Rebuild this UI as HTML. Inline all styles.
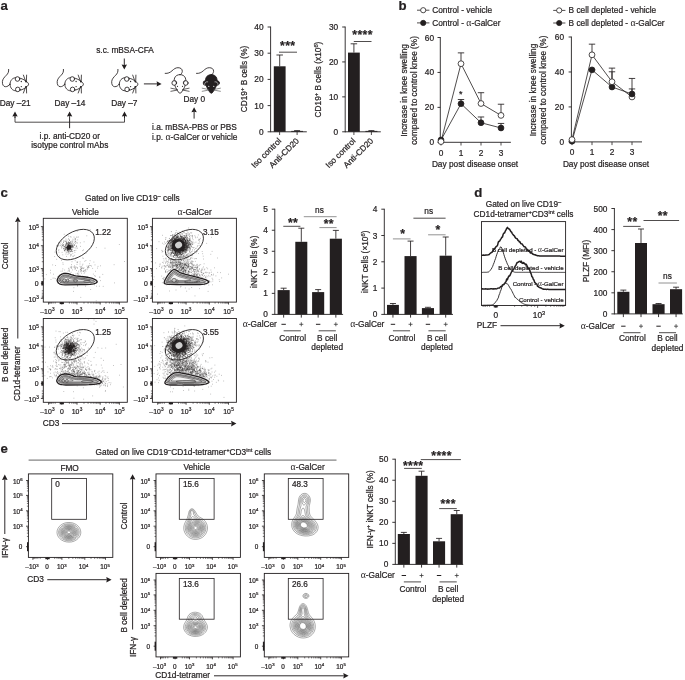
<!DOCTYPE html>
<html><head><meta charset="utf-8"><title>Figure</title>
<style>html,body{margin:0;padding:0;background:#fff}svg{display:block}
text{font-family:"Liberation Sans",sans-serif;fill:#231f20;stroke:#231f20;stroke-width:.22px}</style></head>
<body><svg width="685" height="680" viewBox="0 0 685 680">
<rect width="685" height="680" fill="#fff"/>
<text x="0.6" y="10.3" font-size="13.2" font-weight="bold" >a</text>
<text x="125" y="53" font-size="8.3" text-anchor="middle" >s.c. mBSA-CFA</text>
<path d="M124.3 58.5L124.3 65.1" stroke="#231f20" stroke-width="0.95" fill="none" />
<path d="M124.3 69.6L121.6 64.6L124.3 65.1L127 64.6Z" fill="#231f20"/>
<g transform="translate(0 0)" fill="none" stroke="#231f20" stroke-width="0.85" stroke-linecap="round" stroke-linejoin="round">
<path d="M8.65 69.4C8.9 72 8 73.6 6.4 75.2C4.4 77.2 2.6 79 2.4 81.6C2.2 84.6 3.4 86.6 5.4 86.7C7.4 86.8 8.8 85.6 9.9 84.2"/>
<path d="M10 84.2C10 80.4 12.6 77.7 16 77.7C19.5 77.7 22.5 78.8 25 80.4C26.8 81.6 28.6 83 28.6 84.2C28.6 85.4 26.8 86.9 25 88.1C22.5 89.7 19.5 90.8 16 90.8C12.6 90.8 10 88 10 84.2Z" fill="#fff"/>
<ellipse cx="17.5" cy="79" rx="2.3" ry="2.3" fill="#fff"/>
<ellipse cx="17.8" cy="89.4" rx="2.3" ry="2.3" fill="#fff"/>
<path d="M23.4 75.1L25.8 81.7M26.6 75.1L26.4 81.9M23.4 93L25.8 86.6M26.6 93L26.4 86.4" stroke-width="0.8"/>
<circle cx="21.3" cy="81.5" r="0.65" fill="#231f20" stroke="none"/><circle cx="21.3" cy="86.6" r="0.65" fill="#231f20" stroke="none"/>
<circle cx="26" cy="81.8" r="0.7" fill="#231f20" stroke="none"/><circle cx="26" cy="86.6" r="0.7" fill="#231f20" stroke="none"/>
</g>
<g transform="translate(54.8 0)" fill="none" stroke="#231f20" stroke-width="0.85" stroke-linecap="round" stroke-linejoin="round">
<path d="M8.65 69.4C8.9 72 8 73.6 6.4 75.2C4.4 77.2 2.6 79 2.4 81.6C2.2 84.6 3.4 86.6 5.4 86.7C7.4 86.8 8.8 85.6 9.9 84.2"/>
<path d="M10 84.2C10 80.4 12.6 77.7 16 77.7C19.5 77.7 22.5 78.8 25 80.4C26.8 81.6 28.6 83 28.6 84.2C28.6 85.4 26.8 86.9 25 88.1C22.5 89.7 19.5 90.8 16 90.8C12.6 90.8 10 88 10 84.2Z" fill="#fff"/>
<ellipse cx="17.5" cy="79" rx="2.3" ry="2.3" fill="#fff"/>
<ellipse cx="17.8" cy="89.4" rx="2.3" ry="2.3" fill="#fff"/>
<path d="M23.4 75.1L25.8 81.7M26.6 75.1L26.4 81.9M23.4 93L25.8 86.6M26.6 93L26.4 86.4" stroke-width="0.8"/>
<circle cx="21.3" cy="81.5" r="0.65" fill="#231f20" stroke="none"/><circle cx="21.3" cy="86.6" r="0.65" fill="#231f20" stroke="none"/>
<circle cx="26" cy="81.8" r="0.7" fill="#231f20" stroke="none"/><circle cx="26" cy="86.6" r="0.7" fill="#231f20" stroke="none"/>
</g>
<g transform="translate(109.3 0)" fill="none" stroke="#231f20" stroke-width="0.85" stroke-linecap="round" stroke-linejoin="round">
<path d="M8.65 69.4C8.9 72 8 73.6 6.4 75.2C4.4 77.2 2.6 79 2.4 81.6C2.2 84.6 3.4 86.6 5.4 86.7C7.4 86.8 8.8 85.6 9.9 84.2"/>
<path d="M10 84.2C10 80.4 12.6 77.7 16 77.7C19.5 77.7 22.5 78.8 25 80.4C26.8 81.6 28.6 83 28.6 84.2C28.6 85.4 26.8 86.9 25 88.1C22.5 89.7 19.5 90.8 16 90.8C12.6 90.8 10 88 10 84.2Z" fill="#fff"/>
<ellipse cx="17.5" cy="79" rx="2.3" ry="2.3" fill="#fff"/>
<ellipse cx="17.8" cy="89.4" rx="2.3" ry="2.3" fill="#fff"/>
<path d="M23.4 75.1L25.8 81.7M26.6 75.1L26.4 81.9M23.4 93L25.8 86.6M26.6 93L26.4 86.4" stroke-width="0.8"/>
<circle cx="21.3" cy="81.5" r="0.65" fill="#231f20" stroke="none"/><circle cx="21.3" cy="86.6" r="0.65" fill="#231f20" stroke="none"/>
<circle cx="26" cy="81.8" r="0.7" fill="#231f20" stroke="none"/><circle cx="26" cy="86.6" r="0.7" fill="#231f20" stroke="none"/>
</g>
<text x="-0.3" y="105.5" font-size="8.3" >Day –21</text>
<text x="70" y="105.5" font-size="8.3" text-anchor="middle" >Day –14</text>
<text x="124.3" y="105.5" font-size="8.3" text-anchor="middle" >Day –7</text>
<path d="M15 116L15 122.2L124.5 122.2L124.5 116" fill="none" stroke="#231f20" stroke-width="0.8"/>
<path d="M15 118L15 116.1" stroke="#231f20" stroke-width="0.95" fill="none" />
<path d="M15 111.6L17.7 116.6L15 116.1L12.3 116.6Z" fill="#231f20"/>
<path d="M124.5 118L124.5 116.1" stroke="#231f20" stroke-width="0.95" fill="none" />
<path d="M124.5 111.6L127.2 116.6L124.5 116.1L121.8 116.6Z" fill="#231f20"/>
<path d="M69.6 128.2L69.6 116.1" stroke="#231f20" stroke-width="0.95" fill="none" />
<path d="M69.6 111.6L72.3 116.6L69.6 116.1L66.9 116.6Z" fill="#231f20"/>
<text x="69.8" y="138.6" font-size="8.3" text-anchor="middle" >i.p. anti-CD20 or</text>
<text x="69.8" y="148.2" font-size="8.3" text-anchor="middle" >isotype control mAbs</text>
<path d="M143.9 83.9L157.1 83.9" stroke="#231f20" stroke-width="0.95" fill="none" />
<path d="M161.6 83.9L156.6 86.6L157.1 83.9L156.6 81.2Z" fill="#231f20"/>
<g transform="translate(0 0)" stroke="#231f20" stroke-width="0.85" stroke-linecap="round" stroke-linejoin="round" fill="none">
<path d="M165.2 73.4C168 73.6 170 72.6 172 70.8C174 69 175.6 67.7 178 67.7C180.6 67.7 182.4 69 182.3 71.4C182.2 72.8 181.2 73.8 180.6 74.8"/>
<path d="M180 74.6C177.6 74.6 175.4 75.8 174.6 78C173.8 80.4 174 83.4 175 86C176 88.6 177.4 90.6 178.4 92C179 92.9 179.5 93.3 180 93.3C180.5 93.3 181 92.9 181.6 92C182.6 90.6 184 88.6 185 86C186 83.4 186.2 80.4 185.4 78C184.6 75.8 182.4 74.6 180 74.6Z" fill="#fff"/>
<circle cx="174.2" cy="83" r="2.3" fill="#fff"/><circle cx="185.8" cy="83" r="2.3" fill="#fff"/>
<path d="M175.6 80.6C176.4 81.2 176.9 82.2 176.6 83.6M184.4 80.6C183.6 81.2 183.1 82.2 183.4 83.6" stroke-width="0.6"/>
<path d="M170.9 88.2L177.3 89.5M170.9 91.3L177.3 90.1M189.1 88.2L182.7 89.5M189.1 91.3L182.7 90.1" stroke-width="0.7"/>
<circle cx="177.5" cy="86.3" r="0.6" fill="#231f20" stroke="none"/><circle cx="182.5" cy="86.3" r="0.6" fill="#231f20" stroke="none"/>
</g>
<g transform="translate(31.3 0)" stroke="#231f20" stroke-width="0.85" stroke-linecap="round" stroke-linejoin="round" fill="none">
<path d="M165.2 73.4C168 73.6 170 72.6 172 70.8C174 69 175.6 67.7 178 67.7C180.6 67.7 182.4 69 182.3 71.4C182.2 72.8 181.2 73.8 180.6 74.8"/>
<path d="M180 74.6C177.6 74.6 175.4 75.8 174.6 78C173.8 80.4 174 83.4 175 86C176 88.6 177.4 90.6 178.4 92C179 92.9 179.5 93.3 180 93.3C180.5 93.3 181 92.9 181.6 92C182.6 90.6 184 88.6 185 86C186 83.4 186.2 80.4 185.4 78C184.6 75.8 182.4 74.6 180 74.6Z" fill="#231f20"/>
<circle cx="174.2" cy="83" r="2.3" fill="#231f20"/><circle cx="185.8" cy="83" r="2.3" fill="#231f20"/>
<path d="M173.3 84.4C173.4 82.6 174.6 81.4 176.4 81.8M186.7 84.4C186.6 82.6 185.4 81.4 183.6 81.8" stroke="#fff" stroke-width="0.55"/>
<path d="M170.9 88.2L177.3 89.5M170.9 91.3L177.3 90.1M189.1 88.2L182.7 89.5M189.1 91.3L182.7 90.1" stroke-width="0.6" stroke="#444"/>
<circle cx="177.5" cy="86.3" r="0.6" fill="#fff" stroke="none"/><circle cx="182.5" cy="86.3" r="0.6" fill="#fff" stroke="none"/>
</g>
<text x="194.3" y="102" font-size="8.3" text-anchor="middle" >Day 0</text>
<path d="M194.1 118.6L194.1 111.7" stroke="#231f20" stroke-width="0.95" fill="none" />
<path d="M194.1 107.2L196.8 112.2L194.1 111.7L191.4 112.2Z" fill="#231f20"/>
<text x="152" y="130" font-size="8.3" >i.a. mBSA-PBS or PBS</text>
<text x="152" y="139.9" font-size="8.3" >i.p. <tspan font-family="Liberation Serif,serif" font-size="9.79" stroke-width="0">α</tspan>-GalCer or vehicle</text>
<path d="M270.6 26.55L270.6 132.25" stroke="#231f20" stroke-width="0.9" fill="none" />
<path d="M267.6 27L270.6 27" stroke="#231f20" stroke-width="0.9" fill="none" />
<text x="263.6" y="30" font-size="8.3" text-anchor="end" >40</text>
<path d="M267.6 53.2L270.6 53.2" stroke="#231f20" stroke-width="0.9" fill="none" />
<text x="263.6" y="56.2" font-size="8.3" text-anchor="end" >30</text>
<path d="M267.6 79.4L270.6 79.4" stroke="#231f20" stroke-width="0.9" fill="none" />
<text x="263.6" y="82.4" font-size="8.3" text-anchor="end" >20</text>
<path d="M267.6 105.6L270.6 105.6" stroke="#231f20" stroke-width="0.9" fill="none" />
<text x="263.6" y="108.6" font-size="8.3" text-anchor="end" >10</text>
<path d="M267.6 131.8L270.6 131.8" stroke="#231f20" stroke-width="0.9" fill="none" />
<text x="263.6" y="134.8" font-size="8.3" text-anchor="end" >0</text>
<path d="M270.8 131.8L306.8 131.8" stroke="#231f20" stroke-width="0.9" fill="none" />
<rect x="273.8" y="66.3" width="11.8" height="65.5" fill="#231f20"/>
<path d="M279.7 66.3L279.7 55M276.45 55L282.95 55" stroke="#231f20" stroke-width="0.85" fill="none"/>
<rect x="291.2" y="130.9" width="11.8" height="0.9" fill="#231f20"/>
<path d="M297.1 130.9L297.1 130.6M294.1 130.6L300.1 130.6" stroke="#231f20" stroke-width="0.85" fill="none"/>
<path d="M279.6 131.8L279.6 135" stroke="#231f20" stroke-width="0.8" fill="none" />
<path d="M297.1 131.8L297.1 135" stroke="#231f20" stroke-width="0.8" fill="none" />
<path d="M279 52.2L297 52.2" stroke="#231f20" stroke-width="0.8" fill="none" />
<text x="287.8" y="50.3" font-size="12.2" text-anchor="middle" font-weight="bold" stroke-width="0" letter-spacing="0.4">***</text>
<text x="281.8" y="141.4" font-size="8.3" text-anchor="end" transform="rotate(-45 281.8 141.4)" >Iso control</text>
<text x="299.6" y="141.4" font-size="8.3" text-anchor="end" transform="rotate(-45 299.6 141.4)" >Anti-CD20</text>
<text x="246.6" y="79" font-size="8.3" text-anchor="middle" transform="rotate(-90 246.6 79)" >CD19<tspan font-size="5.8" dy="-3">+</tspan><tspan dy="3" font-size="1">&#8203;</tspan> B cells (%)</text>
<path d="M345.2 26.55L345.2 132.25" stroke="#231f20" stroke-width="0.9" fill="none" />
<path d="M342.2 27L345.2 27" stroke="#231f20" stroke-width="0.9" fill="none" />
<text x="338.2" y="30" font-size="8.3" text-anchor="end" >30</text>
<path d="M342.2 61.93L345.2 61.93" stroke="#231f20" stroke-width="0.9" fill="none" />
<text x="338.2" y="64.93" font-size="8.3" text-anchor="end" >20</text>
<path d="M342.2 96.87L345.2 96.87" stroke="#231f20" stroke-width="0.9" fill="none" />
<text x="338.2" y="99.87" font-size="8.3" text-anchor="end" >10</text>
<path d="M342.2 131.8L345.2 131.8" stroke="#231f20" stroke-width="0.9" fill="none" />
<text x="338.2" y="134.8" font-size="8.3" text-anchor="end" >0</text>
<path d="M345 131.8L380.8 131.8" stroke="#231f20" stroke-width="0.9" fill="none" />
<rect x="348" y="52.6" width="11.8" height="79.2" fill="#231f20"/>
<path d="M353.9 52.6L353.9 43.8M350.65 43.8L357.15 43.8" stroke="#231f20" stroke-width="0.85" fill="none"/>
<rect x="365.4" y="130.9" width="12" height="0.9" fill="#231f20"/>
<path d="M371.4 130.9L371.4 130.6M368.4 130.6L374.4 130.6" stroke="#231f20" stroke-width="0.85" fill="none"/>
<path d="M353.9 131.8L353.9 135" stroke="#231f20" stroke-width="0.8" fill="none" />
<path d="M371.4 131.8L371.4 135" stroke="#231f20" stroke-width="0.8" fill="none" />
<path d="M353.8 41.5L371.5 41.5" stroke="#231f20" stroke-width="0.8" fill="none" />
<text x="362.6" y="38.6" font-size="12.2" text-anchor="middle" font-weight="bold" stroke-width="0" letter-spacing="0.4">****</text>
<text x="356.1" y="141.4" font-size="8.3" text-anchor="end" transform="rotate(-45 356.1 141.4)" >Iso control</text>
<text x="373.9" y="141.4" font-size="8.3" text-anchor="end" transform="rotate(-45 373.9 141.4)" >Anti-CD20</text>
<text x="321" y="79.5" font-size="8.3" text-anchor="middle" transform="rotate(-90 321 79.5)" >CD19<tspan font-size="5.8" dy="-3">+</tspan><tspan dy="3" font-size="1">&#8203;</tspan> B cells (x10<tspan font-size="5.8" dy="-3">6</tspan><tspan dy="3" font-size="1">&#8203;</tspan>)</text>
<text x="398.4" y="10.4" font-size="13.2" font-weight="bold" >b</text>
<path d="M440.3 37.05L440.3 142.75" stroke="#231f20" stroke-width="0.9" fill="none" />
<path d="M437.5 37.5L440.3 37.5" stroke="#231f20" stroke-width="0.9" fill="none" />
<text x="434" y="40.5" font-size="8.3" text-anchor="end" >60</text>
<path d="M437.5 72.43L440.3 72.43" stroke="#231f20" stroke-width="0.9" fill="none" />
<text x="434" y="75.43" font-size="8.3" text-anchor="end" >40</text>
<path d="M437.5 107.37L440.3 107.37" stroke="#231f20" stroke-width="0.9" fill="none" />
<text x="434" y="110.37" font-size="8.3" text-anchor="end" >20</text>
<path d="M437.5 142.3L440.3 142.3" stroke="#231f20" stroke-width="0.9" fill="none" />
<text x="434" y="145.3" font-size="8.3" text-anchor="end" >0</text>
<path d="M440.3 142.3L510.9 142.3" stroke="#231f20" stroke-width="0.9" fill="none" />
<path d="M441 142.3L441 145.5" stroke="#231f20" stroke-width="0.8" fill="none" />
<text x="441" y="155.5" font-size="8.3" text-anchor="middle" >0</text>
<path d="M461 142.3L461 145.5" stroke="#231f20" stroke-width="0.8" fill="none" />
<text x="461" y="155.5" font-size="8.3" text-anchor="middle" >1</text>
<path d="M481 142.3L481 145.5" stroke="#231f20" stroke-width="0.8" fill="none" />
<text x="481" y="155.5" font-size="8.3" text-anchor="middle" >2</text>
<path d="M501 142.3L501 145.5" stroke="#231f20" stroke-width="0.8" fill="none" />
<text x="501" y="155.5" font-size="8.3" text-anchor="middle" >3</text>
<text x="475" y="166.6" font-size="8.3" text-anchor="middle" >Day post disease onset</text>
<path d="M461 103.7L461 99.51M457.8 99.51L464.2 99.51" stroke="#231f20" stroke-width="0.85" fill="none"/>
<path d="M481 122.74L481 116.97M477.8 116.97L484.2 116.97" stroke="#231f20" stroke-width="0.85" fill="none"/>
<path d="M501 127.98L501 123.44M497.8 123.44L504.2 123.44" stroke="#231f20" stroke-width="0.85" fill="none"/>
<path d="M461 63.7L461 52.87M457.8 52.87L464.2 52.87" stroke="#231f20" stroke-width="0.85" fill="none"/>
<path d="M481 103.52L481 92.69M477.8 92.69L484.2 92.69" stroke="#231f20" stroke-width="0.85" fill="none"/>
<path d="M501 115.4L501 104.22M497.8 104.22L504.2 104.22" stroke="#231f20" stroke-width="0.85" fill="none"/>
<polyline points="441,140 461,103.7 481,122.74 501,127.98" fill="none" stroke="#231f20" stroke-width="0.8"/>
<polyline points="441,141.6 461,63.7 481,103.52 501,115.4" fill="none" stroke="#231f20" stroke-width="0.8"/>
<circle cx="441" cy="140" r="2.9" fill="#231f20" stroke="#231f20" stroke-width="0.8"/>
<circle cx="461" cy="103.7" r="2.9" fill="#231f20" stroke="#231f20" stroke-width="0.8"/>
<circle cx="481" cy="122.74" r="2.9" fill="#231f20" stroke="#231f20" stroke-width="0.8"/>
<circle cx="501" cy="127.98" r="2.9" fill="#231f20" stroke="#231f20" stroke-width="0.8"/>
<circle cx="441" cy="141.6" r="2.9" fill="#fff" stroke="#231f20" stroke-width="0.8"/>
<circle cx="461" cy="63.7" r="2.9" fill="#fff" stroke="#231f20" stroke-width="0.8"/>
<circle cx="481" cy="103.52" r="2.9" fill="#fff" stroke="#231f20" stroke-width="0.8"/>
<circle cx="501" cy="115.4" r="2.9" fill="#fff" stroke="#231f20" stroke-width="0.8"/>
<text x="460.8" y="96.6" font-size="9" text-anchor="middle" >*</text>
<path d="M417 10.2L429.4 10.2" stroke="#231f20" stroke-width="0.8" fill="none" />
<circle cx="423.2" cy="10.2" r="2.6" fill="#fff" stroke="#231f20" stroke-width="0.8"/>
<path d="M417 22.9L429.4 22.9" stroke="#231f20" stroke-width="0.8" fill="none" />
<circle cx="423.2" cy="22.9" r="2.6" fill="#231f20" stroke="#231f20" stroke-width="0.8"/>
<text x="432.2" y="13" font-size="8.3" >Control - vehicle</text>
<text x="432.2" y="25.7" font-size="8.3" >Control - <tspan font-family="Liberation Serif,serif" font-size="9.79" stroke-width="0">α</tspan>-GalCer</text>
<text x="406.8" y="90.4" font-size="8.3" text-anchor="middle" transform="rotate(-90 406.8 90.4)" >Increase in knee swelling</text>
<text x="416.8" y="90.4" font-size="8.3" text-anchor="middle" transform="rotate(-90 416.8 90.4)" >compared to control knee (%)</text>
<path d="M571.4 36.55L571.4 142.35" stroke="#231f20" stroke-width="0.9" fill="none" />
<path d="M568.6 37L571.4 37" stroke="#231f20" stroke-width="0.9" fill="none" />
<text x="564.1" y="40" font-size="8.3" text-anchor="end" >60</text>
<path d="M568.6 71.97L571.4 71.97" stroke="#231f20" stroke-width="0.9" fill="none" />
<text x="564.1" y="74.97" font-size="8.3" text-anchor="end" >40</text>
<path d="M568.6 106.93L571.4 106.93" stroke="#231f20" stroke-width="0.9" fill="none" />
<text x="564.1" y="109.93" font-size="8.3" text-anchor="end" >20</text>
<path d="M568.6 141.9L571.4 141.9" stroke="#231f20" stroke-width="0.9" fill="none" />
<text x="564.1" y="144.9" font-size="8.3" text-anchor="end" >0</text>
<path d="M571.4 141.9L642 141.9" stroke="#231f20" stroke-width="0.9" fill="none" />
<path d="M572 141.9L572 145.1" stroke="#231f20" stroke-width="0.8" fill="none" />
<text x="572" y="155.1" font-size="8.3" text-anchor="middle" >0</text>
<path d="M592 141.9L592 145.1" stroke="#231f20" stroke-width="0.8" fill="none" />
<text x="592" y="155.1" font-size="8.3" text-anchor="middle" >1</text>
<path d="M612 141.9L612 145.1" stroke="#231f20" stroke-width="0.8" fill="none" />
<text x="612" y="155.1" font-size="8.3" text-anchor="middle" >2</text>
<path d="M632 141.9L632 145.1" stroke="#231f20" stroke-width="0.8" fill="none" />
<text x="632" y="155.1" font-size="8.3" text-anchor="middle" >3</text>
<text x="606" y="166.6" font-size="8.3" text-anchor="middle" >Day post disease onset</text>
<path d="M592 69.87L592 69.87M588.8 69.87L595.2 69.87" stroke="#231f20" stroke-width="0.85" fill="none"/>
<path d="M612 87L612 71.79M608.8 71.79L615.2 71.79" stroke="#231f20" stroke-width="0.85" fill="none"/>
<path d="M632 94L632 78.44M628.8 78.44L635.2 78.44" stroke="#231f20" stroke-width="0.85" fill="none"/>
<path d="M592 54.83L592 44.17M588.8 44.17L595.2 44.17" stroke="#231f20" stroke-width="0.85" fill="none"/>
<path d="M612 81.76L612 68.12M608.8 68.12L615.2 68.12" stroke="#231f20" stroke-width="0.85" fill="none"/>
<path d="M632 96.97L632 88.93M628.8 88.93L635.2 88.93" stroke="#231f20" stroke-width="0.85" fill="none"/>
<polyline points="572,141.2 592,69.87 612,87 632,94" fill="none" stroke="#231f20" stroke-width="0.8"/>
<polyline points="572,139.6 592,54.83 612,81.76 632,96.97" fill="none" stroke="#231f20" stroke-width="0.8"/>
<circle cx="572" cy="141.2" r="2.9" fill="#231f20" stroke="#231f20" stroke-width="0.8"/>
<circle cx="572" cy="139.6" r="2.9" fill="#fff" stroke="#231f20" stroke-width="0.8"/>
<circle cx="592" cy="69.87" r="2.9" fill="#231f20" stroke="#231f20" stroke-width="0.8"/>
<circle cx="592" cy="54.83" r="2.9" fill="#fff" stroke="#231f20" stroke-width="0.8"/>
<circle cx="612" cy="87" r="2.9" fill="#231f20" stroke="#231f20" stroke-width="0.8"/>
<circle cx="612" cy="81.76" r="2.9" fill="#fff" stroke="#231f20" stroke-width="0.8"/>
<circle cx="632" cy="96.97" r="2.9" fill="#fff" stroke="#231f20" stroke-width="0.8"/>
<circle cx="632" cy="94" r="2.9" fill="#231f20" stroke="#231f20" stroke-width="0.8"/>
<path d="M553.2 10.4L565.4 10.4" stroke="#231f20" stroke-width="0.8" fill="none" />
<circle cx="559.2" cy="10.4" r="2.6" fill="#fff" stroke="#231f20" stroke-width="0.8"/>
<path d="M553.2 23L565.4 23" stroke="#231f20" stroke-width="0.8" fill="none" />
<circle cx="559.2" cy="23" r="2.6" fill="#231f20" stroke="#231f20" stroke-width="0.8"/>
<text x="568.6" y="13.2" font-size="8.3" >B cell depleted - vehicle</text>
<text x="568.6" y="25.8" font-size="8.3" >B cell depleted - <tspan font-family="Liberation Serif,serif" font-size="9.79" stroke-width="0">α</tspan>-GalCer</text>
<text x="536.2" y="90" font-size="8.3" text-anchor="middle" transform="rotate(-90 536.2 90)" >Increase in knee swelling</text>
<text x="546" y="90" font-size="8.3" text-anchor="middle" transform="rotate(-90 546 90)" >compared to control knee (%)</text>
<text x="0.6" y="196.5" font-size="13.2" font-weight="bold" >c</text>
<text x="132.4" y="200.6" font-size="8.3" text-anchor="middle" >Gated on live CD19<tspan font-size="5.8" dy="-3">–</tspan><tspan dy="3" font-size="1">&#8203;</tspan> cells</text>
<text x="85.4" y="214.5" font-size="8.3" text-anchor="middle" >Vehicle</text>
<text x="194.6" y="214.5" font-size="8.3" text-anchor="middle" ><tspan font-family="Liberation Serif,serif" font-size="9.79" stroke-width="0">α</tspan>-GalCer</text>
<g transform="translate(43.3 218.3) scale(.1)" fill="none" stroke="#231f20" stroke-linecap="round" stroke-linejoin="round">
<path d="M15 606zM30 563zM71 520zM71 546zM77 612zM94 466zM97 598zM102 559zM109 599zM114 382zM116 338zM121 472zM123 603zM132 275zM134 410zM135 348zM141 281zM144 647zM145 583zM151 244zM153 263zM153 274zM154 323zM156 313zM157 275zM157 339zM163 376zM169 255zM171 272zM176 620zM177 239zM177 529zM178 230zM180 265zM180 281zM183 421zM184 299zM188 341zM189 583zM189 584zM191 527zM192 271zM193 268zM193 274zM194 253zM195 365zM195 506zM196 445zM196 560zM198 461zM201 230zM201 300zM204 301zM205 278zM206 304zM207 224zM209 160zM211 285zM212 300zM213 324zM214 518zM215 326zM216 285zM217 547zM218 552zM219 595zM219 612zM220 311zM221 228zM221 271zM221 603zM224 288zM224 325zM225 270zM226 207zM226 358zM227 646zM229 344zM230 245zM230 583zM230 603zM231 251zM231 623zM232 246zM232 249zM233 305zM233 381zM235 238zM236 219zM237 263zM237 303zM239 302zM239 327zM240 250zM243 282zM245 292zM246 284zM247 241zM247 325zM247 361zM247 529zM248 283zM249 345zM250 239zM250 276zM250 312zM250 576zM251 179zM251 236zM251 261zM252 204zM252 306zM253 270zM253 294zM255 500zM255 507zM256 291zM256 523zM257 212zM257 266zM257 297zM259 308zM259 350zM260 252zM260 293zM261 219zM261 249zM261 282zM261 517zM262 222zM262 270zM262 297zM262 530zM264 304zM267 280zM268 286zM269 280zM270 184zM270 270zM270 287zM270 301zM270 309zM270 487zM271 271zM271 276zM271 366zM271 558zM272 232zM272 377zM274 238zM275 263zM277 243zM277 310zM277 360zM277 494zM278 188zM278 278zM278 316zM278 540zM279 277zM279 304zM280 279zM280 312zM281 292zM281 367zM281 490zM282 270zM282 327zM282 463zM283 325zM283 565zM284 282zM284 481zM284 501zM285 593zM286 234zM286 265zM287 282zM287 410zM287 434zM288 225zM288 645zM289 256zM290 331zM291 270zM292 310zM293 244zM293 331zM293 516zM295 230zM295 296zM295 350zM295 380zM296 209zM297 614zM299 288zM299 487zM301 254zM301 284zM302 379zM302 731zM303 562zM306 694zM307 188zM308 217zM308 265zM308 325zM310 243zM310 262zM310 488zM310 578zM312 475zM314 322zM314 370zM314 489zM314 506zM314 608zM316 341zM316 570zM317 200zM317 296zM319 209zM319 424zM321 204zM321 214zM321 507zM321 650zM322 237zM322 253zM323 487zM323 499zM325 228zM326 320zM327 401zM327 555zM328 298zM328 581zM330 274zM330 281zM331 489zM332 522zM333 618zM334 188zM334 284zM335 244zM335 439zM335 581zM337 461zM338 131zM338 189zM340 247zM341 299zM341 494zM341 550zM341 673zM342 499zM343 442zM343 567zM343 668zM343 679zM344 216zM344 435zM346 551zM353 187zM353 529zM354 564zM356 547zM358 582zM358 584zM362 622zM367 457zM367 480zM368 436zM369 526zM370 245zM370 511zM371 281zM373 513zM374 493zM374 535zM375 791zM377 505zM378 482zM378 519zM381 499zM381 549zM382 517zM383 502zM383 525zM385 488zM386 654zM387 530zM387 579zM388 577zM389 662zM390 469zM390 498zM391 583zM392 635zM394 323zM394 396zM396 459zM396 499zM400 401zM401 316zM401 503zM401 529zM405 528zM405 529zM407 495zM408 235zM408 550zM410 648zM411 520zM415 430zM415 539zM420 522zM422 679zM423 512zM426 422zM426 530zM428 347zM432 639zM435 175zM437 478zM438 514zM439 505zM440 584zM441 489zM446 493zM448 496zM450 593zM451 485zM452 475zM454 482zM457 492zM461 454zM464 472zM468 112zM468 424zM474 472zM474 712zM481 478zM494 501zM500 558zM506 438zM512 665zM513 574zM517 466zM521 579zM522 530zM529 825zM530 293zM531 679zM543 498zM547 481zM560 679zM565 586zM565 591zM571 475zM572 623zM595 561zM599 681zM617 299zM708 464zM713 646zM760 262zM812 432z" stroke-width="6" stroke-opacity="0.55"/>
<path d="M186 289zM199 263zM200 277zM203 242zM204 267zM209 314zM213 283zM213 322zM218 231zM219 299zM220 259zM220 312zM221 295zM222 275zM222 300zM223 287zM225 313zM228 261zM229 290zM230 235zM231 289zM231 315zM233 255zM233 269zM233 298zM234 290zM237 293zM238 337zM239 292zM239 296zM240 260zM240 318zM241 283zM242 318zM243 276zM243 292zM243 304zM243 309zM243 315zM244 252zM244 317zM246 305zM246 310zM247 291zM247 318zM247 324zM248 262zM249 302zM249 313zM250 249zM250 306zM251 257zM251 267zM251 285zM251 331zM253 283zM253 287zM253 291zM254 242zM255 256zM255 259zM255 287zM255 326zM256 311zM256 314zM256 344zM258 282zM258 291zM258 298zM258 330zM259 264zM259 268zM259 272zM259 288zM260 276zM260 326zM261 245zM262 270zM262 284zM264 248zM264 306zM266 244zM266 274zM266 318zM270 292zM270 294zM272 250zM272 333zM274 279zM274 333zM275 273zM275 292zM275 301zM275 312zM275 315zM277 261zM280 252zM281 287zM281 328zM285 315zM286 273zM288 277zM289 278zM291 287zM294 267zM294 280zM296 290zM299 275zM312 272zM319 232z" stroke-width="6" stroke-opacity="0.8"/>
<path d="M139 619l3-11 9-19 9-12 10-10 16-9 16-6 13-2 13 0 22 3 29 11 25 7 19 4 53 7 48 5 60 12 24 9 15 7 12 11 3 4 1 4-2 5-4 4-6 4-9 4-15 4-34 5-49 3-42 1-160 1-28-2-13-2-7-2-8-4-9-6-8-10-5-11z" fill="#ececec" stroke-width="13"/>
<path d="M155 620l2-7 8-16 7-9 8-8 13-7 14-5 9-2 11 0 19 3 27 10 24 6 25 5 52 8 49 5 50 10 18 6 13 5 9 5 2 2 0 2-1 2-4 2-10 3-31 4-32 3-61 2-157 1-28-3-16-3-8-5-5-5-5-8z" fill="#b4b4b4" stroke-width="5.5"/>
<path d="M170 619l1-5 6-11 5-7 6-5 11-6 13-5 6-1 9 0 15 2 23 9 30 8 30 6 44 6 57 7 33 7 10 3 1 2-4 2-12 1-36 3-101 1-16 1-82 0-27-3-9-2-6-2-4-3-3-4z" fill="#e0e0e0" stroke-width="5"/>
<path d="M185 617l1-4 2-5 4-5 5-3 8-5 9-3 12-1 12 1 21 9 26 7 52 11 5 2-1 1-38 3-83 0-29-3-5-2z" fill="#f4f4f4" stroke-width="4.5"/>
</g>
<ellipse cx="64.3" cy="280.4" rx="1.7" ry="1.6" fill="#c8c8c8" stroke="#231f20" stroke-width="0.55"/>
<ellipse cx="67.6" cy="280.4" rx="1.2" ry="1.4" fill="#c8c8c8" stroke="#231f20" stroke-width="0.55"/>
<ellipse cx="75.5" cy="280.9" rx="2.2" ry="1.0" fill="#c8c8c8" stroke="#231f20" stroke-width="0.55"/>
<ellipse cx="87" cy="281.4" rx="3.2" ry="0.9" fill="#c8c8c8" stroke="#231f20" stroke-width="0.55"/>
<circle cx="68.9" cy="247.4" r="2.4" fill="#231f20"/>
<ellipse cx="75.3" cy="244.6" rx="20.9" ry="12.6" transform="rotate(-31 75.3 244.6)" fill="none" stroke="#231f20" stroke-width="0.8"/>
<text x="95.2" y="235.1" font-size="8.2" >1.22</text>
<rect x="43.3" y="218.3" width="84" height="83.8" fill="none" stroke="#231f20" stroke-width="0.9"/>
<text x="38.9" y="230" font-size="6.9" text-anchor="end" >10<tspan dx="0.2" font-size="4.7" dy="-2.5">5</tspan><tspan dy="2.5" font-size="1">&#8203;</tspan></text>
<text x="38.9" y="249.1" font-size="6.9" text-anchor="end" >10<tspan dx="0.2" font-size="4.7" dy="-2.5">4</tspan><tspan dy="2.5" font-size="1">&#8203;</tspan></text>
<text x="38.9" y="272" font-size="6.9" text-anchor="end" >10<tspan dx="0.2" font-size="4.7" dy="-2.5">3</tspan><tspan dy="2.5" font-size="1">&#8203;</tspan></text>
<text x="38.7" y="285.9" font-size="6.9" text-anchor="end" >0</text>
<text x="38.9" y="301.7" font-size="6.9" text-anchor="end" >–10<tspan dx="0.2" font-size="4.7" dy="-2.5">3</tspan><tspan dy="2.5" font-size="1">&#8203;</tspan></text>
<text x="47.4" y="313.5" font-size="6.9" text-anchor="middle" >–10<tspan dx="0.2" font-size="4.7" dy="-2.5">3</tspan><tspan dy="2.5" font-size="1">&#8203;</tspan></text>
<text x="61.8" y="313.5" font-size="6.9" text-anchor="middle" >0</text>
<text x="77" y="313.5" font-size="6.9" text-anchor="middle" >10<tspan dx="0.2" font-size="4.7" dy="-2.5">3</tspan><tspan dy="2.5" font-size="1">&#8203;</tspan></text>
<text x="100.2" y="313.5" font-size="6.9" text-anchor="middle" >10<tspan dx="0.2" font-size="4.7" dy="-2.5">4</tspan><tspan dy="2.5" font-size="1">&#8203;</tspan></text>
<text x="119.4" y="313.5" font-size="6.9" text-anchor="middle" >10<tspan dx="0.2" font-size="4.7" dy="-2.5">5</tspan><tspan dy="2.5" font-size="1">&#8203;</tspan></text>
<path d="M40.9 226.6H43.3M40.9 245.7H43.3M40.9 268.6H43.3M40.9 283.3H43.3M40.9 298.3H43.3M48.6 302.1V304.5M61.8 302.1V304.5M77 302.1V304.5M100.2 302.1V304.5M119.4 302.1V304.5" stroke="#231f20" stroke-width="0.8" fill="none"/>
<path d="M41.8 261.71H43.3M41.8 257.67H43.3M41.8 254.81H43.3M41.8 252.59H43.3M41.8 250.78H43.3M41.8 249.25H43.3M41.8 247.92H43.3M41.8 246.75H43.3M41.8 239.95H43.3M41.8 236.59H43.3M41.8 234.2H43.3M41.8 232.35H43.3M41.8 230.84H43.3M41.8 229.56H43.3M41.8 228.45H43.3M41.8 227.47H43.3M41.8 275.95H43.3M41.8 290.8H43.3M41.8 273.6H43.3M41.8 293.2H43.3M41.8 271.83H43.3M41.8 295H43.3M41.8 270.51H43.3M41.8 296.35H43.3M41.8 269.48H43.3M41.8 297.4H43.3M83.98 302.1V303.6M88.07 302.1V303.6M90.97 302.1V303.6M93.22 302.1V303.6M95.05 302.1V303.6M96.61 302.1V303.6M97.95 302.1V303.6M99.14 302.1V303.6M105.98 302.1V303.6M109.36 302.1V303.6M111.76 302.1V303.6M113.62 302.1V303.6M115.14 302.1V303.6M116.43 302.1V303.6M117.54 302.1V303.6M118.52 302.1V303.6M69.4 302.1V303.6M55.2 302.1V303.6M71.83 302.1V303.6M53.09 302.1V303.6M73.66 302.1V303.6M51.5 302.1V303.6M75.02 302.1V303.6M50.32 302.1V303.6M76.09 302.1V303.6M49.39 302.1V303.6" stroke="#231f20" stroke-width="0.6" fill="none"/>
<rect x="41.3" y="281.1" width="2" height="4.4" fill="#231f20"/><rect x="59.7" y="302.1" width="4.2" height="2" fill="#231f20"/>
<g transform="translate(152.4 218.3) scale(.1)" fill="none" stroke="#231f20" stroke-linecap="round" stroke-linejoin="round">
<path d="M12 613zM17 585zM23 683zM33 446zM42 503zM43 303zM50 758zM66 234zM71 481zM76 465zM77 456zM93 490zM93 578zM94 498zM97 338zM98 479zM99 644zM101 249zM101 603zM102 170zM102 441zM105 379zM109 405zM112 447zM112 614zM113 604zM115 596zM116 259zM116 427zM117 478zM117 590zM118 474zM119 501zM121 237zM121 621zM122 509zM125 473zM127 407zM127 485zM129 649zM130 527zM130 539zM131 251zM132 360zM132 450zM132 485zM132 529zM133 399zM133 439zM134 289zM135 367zM135 529zM135 541zM137 486zM139 399zM139 417zM139 437zM140 665zM143 470zM145 319zM145 355zM145 513zM146 430zM147 365zM149 290zM149 473zM149 545zM149 634zM150 330zM150 532zM151 454zM152 468zM153 230zM154 435zM155 322zM155 329zM155 369zM157 358zM157 382zM157 435zM160 321zM160 476zM160 489zM160 662zM162 616zM163 334zM163 482zM164 273zM164 371zM164 444zM165 519zM165 533zM166 286zM166 400zM166 462zM166 523zM167 257zM168 252zM168 490zM169 201zM169 664zM170 477zM170 546zM171 264zM171 593zM171 727zM172 204zM174 618zM175 228zM175 377zM176 411zM176 412zM176 472zM176 522zM177 246zM177 464zM177 486zM178 443zM178 452zM178 483zM178 492zM179 420zM180 445zM180 602zM181 277zM181 441zM181 516zM181 601zM181 611zM182 269zM182 287zM182 374zM182 534zM182 559zM183 322zM183 353zM183 427zM183 584zM184 290zM184 336zM184 425zM184 437zM184 494zM184 512zM185 223zM185 365zM185 378zM185 406zM185 449zM185 483zM187 402zM188 442zM188 519zM189 234zM189 360zM190 297zM190 306zM190 414zM191 344zM191 445zM192 353zM193 379zM193 622zM194 405zM194 550zM195 283zM195 401zM195 449zM195 450zM195 498zM195 499zM196 437zM196 462zM196 475zM196 481zM196 552zM196 576zM197 371zM197 466zM197 471zM197 552zM198 224zM198 279zM198 410zM198 436zM198 455zM198 466zM199 284zM199 338zM199 423zM199 571zM200 261zM200 559zM201 335zM201 412zM201 442zM201 468zM201 491zM202 345zM203 179zM203 272zM203 309zM203 434zM203 485zM203 487zM204 258zM204 347zM204 348zM204 384zM204 450zM204 497zM205 298zM205 330zM205 486zM205 556zM206 297zM206 299zM206 338zM206 475zM206 597zM207 220zM207 238zM207 244zM208 298zM208 430zM208 446zM208 497zM209 285zM210 271zM210 387zM210 485zM211 249zM211 378zM211 446zM211 562zM212 319zM212 375zM212 510zM213 418zM213 461zM213 471zM213 473zM213 474zM214 223zM214 285zM214 303zM214 448zM214 537zM215 372zM215 414zM215 440zM215 508zM215 519zM216 254zM216 322zM218 346zM218 470zM219 422zM219 440zM219 448zM219 481zM219 529zM220 212zM221 311zM221 361zM221 438zM222 297zM222 364zM222 474zM222 530zM223 290zM223 311zM223 523zM223 531zM224 272zM224 294zM224 298zM224 299zM224 416zM224 469zM224 549zM226 157zM226 372zM226 390zM226 425zM226 593zM227 280zM227 325zM227 374zM227 458zM227 507zM227 534zM227 548zM228 242zM228 287zM228 455zM228 474zM228 548zM228 610zM229 175zM229 306zM229 434zM229 554zM229 564zM230 225zM230 239zM230 569zM231 361zM231 552zM231 569zM231 600zM231 630zM232 348zM232 401zM232 444zM232 463zM232 541zM233 283zM233 313zM233 335zM233 410zM233 436zM233 472zM233 509zM234 229zM234 286zM234 289zM234 298zM234 424zM234 460zM234 567zM235 258zM235 353zM235 451zM235 562zM236 184zM236 269zM236 468zM236 495zM236 515zM236 717zM237 273zM237 345zM237 389zM237 442zM237 479zM237 482zM238 122zM238 440zM238 459zM238 468zM238 478zM238 493zM238 501zM238 505zM238 651zM239 303zM239 335zM239 411zM239 432zM239 480zM239 546zM240 221zM240 269zM240 271zM240 299zM240 367zM240 570zM241 195zM241 304zM241 465zM241 520zM241 570zM242 252zM242 257zM242 277zM242 364zM242 443zM242 461zM242 551zM242 576zM243 305zM243 483zM243 485zM244 390zM244 400zM244 465zM244 475zM244 524zM244 560zM245 354zM245 438zM246 292zM246 442zM247 180zM247 291zM247 325zM247 344zM247 474zM247 495zM247 502zM247 523zM247 589zM247 621zM248 178zM248 360zM248 433zM248 535zM249 212zM249 387zM249 391zM249 466zM249 471zM249 472zM249 660zM250 238zM250 305zM250 468zM250 487zM250 530zM251 174zM251 237zM251 347zM251 348zM251 385zM251 473zM251 499zM252 337zM252 492zM253 248zM253 456zM253 459zM253 481zM253 568zM253 582zM254 264zM254 267zM254 289zM254 297zM254 453zM254 579zM255 243zM255 258zM255 270zM255 290zM255 367zM255 494zM256 250zM256 259zM256 339zM256 519zM256 536zM257 181zM257 243zM257 264zM257 397zM257 440zM257 529zM258 239zM258 274zM258 286zM258 434zM259 227zM259 351zM259 419zM259 445zM259 461zM260 199zM260 494zM261 294zM261 304zM261 394zM261 436zM261 466zM261 479zM261 548zM262 248zM262 344zM262 396zM262 510zM262 520zM263 228zM263 275zM263 392zM263 433zM263 441zM263 488zM263 530zM263 542zM264 279zM264 283zM264 288zM264 461zM264 589zM265 218zM265 267zM265 304zM266 138zM266 208zM266 263zM266 423zM266 446zM267 272zM267 364zM267 381zM267 453zM268 283zM268 286zM268 306zM268 310zM268 396zM268 460zM268 501zM268 509zM268 523zM269 164zM269 464zM269 479zM269 511zM270 395zM270 469zM270 507zM271 191zM271 240zM271 348zM271 385zM271 430zM271 443zM272 239zM272 263zM272 287zM272 521zM273 321zM273 464zM273 557zM274 263zM274 350zM274 454zM274 463zM274 475zM274 480zM274 505zM274 540zM274 564zM275 185zM275 235zM275 265zM275 346zM275 387zM275 435zM275 439zM275 442zM275 487zM275 497zM275 634zM276 142zM276 257zM276 359zM276 408zM276 470zM277 301zM277 319zM277 411zM277 480zM278 240zM278 243zM278 275zM278 402zM278 439zM278 468zM278 470zM278 515zM279 257zM279 445zM279 460zM280 251zM280 255zM280 324zM280 326zM280 344zM280 389zM280 451zM280 492zM280 520zM280 687zM281 384zM281 454zM281 496zM281 526zM282 167zM282 179zM282 206zM282 414zM282 447zM282 483zM283 258zM283 312zM283 313zM283 397zM283 431zM283 525zM284 231zM284 270zM284 303zM284 309zM284 321zM284 462zM284 463zM284 664zM285 196zM285 230zM285 281zM285 445zM285 451zM285 456zM285 487zM285 494zM285 528zM286 217zM286 243zM286 333zM286 422zM286 681zM287 512zM287 556zM288 196zM288 226zM288 262zM288 334zM288 360zM288 373zM288 509zM289 261zM289 476zM289 481zM289 493zM289 640zM290 196zM290 343zM290 474zM290 482zM290 487zM290 505zM290 520zM290 644zM291 180zM291 384zM291 425zM291 447zM291 458zM291 507zM291 547zM292 257zM292 314zM292 419zM292 524zM292 566zM293 186zM293 238zM293 281zM293 365zM293 520zM293 539zM294 233zM294 244zM294 342zM294 511zM295 446zM295 469zM296 149zM296 198zM296 316zM296 455zM296 496zM296 497zM296 599zM297 294zM297 516zM298 231zM298 240zM298 258zM298 274zM298 297zM298 335zM298 358zM298 385zM299 126zM299 257zM299 264zM299 325zM299 350zM299 449zM299 453zM299 475zM299 503zM299 547zM299 549zM299 563zM300 231zM300 294zM300 501zM300 585zM300 586zM300 603zM301 232zM301 303zM301 307zM301 315zM301 474zM302 249zM302 290zM302 466zM302 514zM302 577zM303 212zM303 215zM303 254zM303 295zM303 324zM303 488zM303 492zM303 496zM303 533zM303 562zM304 286zM304 314zM304 319zM304 393zM304 451zM304 455zM304 502zM304 531zM305 243zM305 515zM305 533zM306 233zM306 268zM306 496zM307 193zM307 268zM307 435zM307 460zM307 496zM307 498zM307 503zM307 581zM308 194zM308 227zM308 231zM308 238zM308 277zM308 319zM308 355zM308 388zM308 557zM308 558zM308 569zM309 245zM309 254zM309 296zM309 413zM309 422zM309 423zM309 464zM309 487zM309 488zM309 493zM309 495zM309 526zM309 530zM309 549zM309 612zM310 286zM310 390zM310 448zM310 494zM310 530zM310 537zM310 546zM311 231zM311 469zM311 499zM311 512zM311 541zM311 554zM312 250zM312 254zM312 484zM312 502zM313 336zM313 384zM313 527zM313 575zM314 139zM314 271zM314 324zM314 355zM314 501zM314 635zM315 241zM315 264zM315 280zM315 332zM316 221zM316 305zM316 350zM316 486zM316 496zM316 524zM317 317zM317 406zM317 519zM317 577zM318 204zM318 289zM318 359zM318 369zM318 439zM318 471zM319 187zM319 305zM319 324zM319 449zM319 458zM319 477zM319 510zM320 242zM320 283zM320 469zM320 491zM320 535zM320 551zM320 587zM320 614zM321 243zM321 261zM321 289zM321 314zM321 431zM321 465zM322 455zM322 464zM322 479zM322 512zM322 519zM323 176zM323 206zM323 242zM323 243zM323 298zM323 415zM323 506zM323 577zM324 180zM324 214zM324 333zM324 557zM324 607zM325 317zM325 329zM325 345zM325 456zM325 460zM325 595zM325 609zM326 190zM326 293zM326 327zM326 383zM327 210zM327 243zM327 254zM327 279zM327 467zM327 526zM327 528zM328 281zM328 521zM328 539zM329 292zM329 310zM329 325zM329 463zM329 523zM329 527zM329 540zM329 545zM329 577zM329 580zM329 697zM330 218zM330 307zM330 385zM330 462zM331 222zM331 228zM331 254zM331 427zM331 455zM331 510zM331 518zM331 524zM332 223zM332 231zM332 284zM332 294zM332 457zM332 468zM332 476zM332 493zM332 615zM333 285zM333 302zM333 446zM333 490zM333 526zM334 185zM334 286zM334 295zM334 337zM334 395zM334 493zM335 229zM335 415zM335 469zM335 531zM335 589zM336 189zM336 234zM336 266zM336 268zM336 288zM336 290zM336 319zM336 461zM336 499zM337 246zM337 261zM337 302zM337 450zM337 477zM337 541zM337 588zM338 237zM338 249zM338 287zM338 320zM338 372zM339 257zM339 289zM339 316zM339 384zM339 501zM339 525zM339 548zM339 576zM339 633zM340 205zM340 252zM340 405zM341 181zM341 250zM341 268zM341 296zM341 330zM341 473zM341 476zM341 518zM341 561zM341 577zM342 299zM342 615zM343 264zM343 365zM343 444zM343 458zM343 472zM343 729zM344 194zM344 195zM344 232zM344 282zM344 427zM344 471zM344 500zM345 246zM345 252zM345 266zM345 275zM345 317zM345 436zM345 512zM345 611zM345 634zM346 185zM346 229zM346 283zM346 325zM346 399zM346 447zM346 464zM346 476zM347 127zM347 200zM347 224zM347 285zM347 476zM348 207zM348 249zM348 320zM348 493zM349 227zM349 232zM349 301zM350 420zM350 430zM350 485zM350 554zM351 247zM351 325zM351 618zM352 195zM352 290zM352 449zM352 484zM353 191zM353 214zM353 257zM353 283zM353 291zM353 386zM353 412zM353 450zM353 491zM353 544zM353 578zM354 224zM354 503zM354 557zM354 565zM355 263zM355 364zM355 379zM355 614zM356 142zM356 202zM356 274zM356 286zM356 291zM356 465zM356 525zM357 167zM357 169zM357 471zM357 482zM358 493zM358 527zM359 248zM359 278zM359 389zM359 410zM359 464zM359 476zM359 483zM359 488zM359 536zM360 228zM360 258zM360 263zM360 427zM360 439zM360 458zM360 532zM361 223zM361 289zM361 481zM361 528zM361 554zM362 448zM362 567zM363 97zM363 259zM363 460zM363 475zM363 486zM364 465zM364 553zM364 596zM365 370zM365 537zM365 576zM365 615zM366 221zM366 231zM366 279zM366 496zM366 533zM366 537zM366 542zM366 585zM367 209zM367 296zM367 707zM368 268zM368 287zM368 470zM368 593zM369 276zM369 452zM369 509zM369 535zM370 181zM370 257zM370 483zM370 516zM371 179zM371 239zM371 358zM371 514zM372 154zM372 163zM372 220zM372 243zM372 291zM372 337zM372 412zM372 501zM373 300zM374 216zM374 260zM374 265zM374 662zM375 252zM375 335zM375 428zM375 511zM376 194zM376 242zM377 218zM377 310zM377 485zM378 502zM379 288zM379 342zM380 145zM380 259zM380 372zM381 207zM381 306zM381 365zM381 400zM381 409zM381 482zM382 262zM382 318zM382 446zM382 505zM382 509zM382 538zM382 580zM384 397zM384 449zM384 614zM385 350zM385 437zM386 484zM386 487zM386 579zM386 587zM387 280zM387 595zM388 449zM388 522zM388 543zM389 395zM389 451zM389 490zM389 507zM391 234zM391 370zM391 496zM392 541zM392 561zM393 230zM393 429zM393 463zM393 692zM394 247zM394 505zM394 507zM395 427zM395 448zM395 494zM396 177zM396 370zM397 486zM397 530zM398 374zM398 446zM398 476zM398 637zM399 244zM399 248zM399 457zM399 497zM399 570zM400 171zM400 179zM400 188zM400 200zM400 579zM401 501zM401 556zM402 292zM402 314zM402 430zM403 327zM403 354zM403 463zM403 493zM403 500zM403 593zM404 399zM404 649zM405 235zM405 258zM405 490zM406 480zM406 533zM406 601zM406 605zM407 214zM407 467zM408 433zM410 517zM411 499zM411 512zM411 520zM412 296zM412 560zM413 571zM414 472zM415 469zM415 535zM415 555zM415 569zM415 605zM416 246zM416 292zM416 517zM416 567zM416 585zM417 466zM417 566zM419 511zM420 331zM420 511zM420 545zM420 566zM420 594zM421 534zM421 592zM421 644zM422 314zM422 550zM422 590zM423 405zM423 492zM423 529zM423 563zM423 573zM423 589zM424 174zM425 619zM426 776zM427 489zM427 570zM427 628zM428 488zM428 512zM428 535zM428 566zM429 186zM429 431zM429 551zM431 515zM432 600zM432 609zM433 303zM433 493zM434 195zM434 402zM434 473zM434 516zM434 585zM435 239zM435 556zM437 528zM438 299zM439 345zM439 562zM439 594zM440 403zM440 499zM441 476zM441 544zM441 569zM442 571zM443 497zM443 568zM444 492zM444 529zM444 564zM445 511zM446 330zM446 462zM446 580zM447 328zM447 460zM449 284zM449 525zM449 553zM450 485zM450 496zM450 566zM450 647zM451 498zM452 189zM452 570zM452 587zM453 274zM453 487zM453 514zM453 559zM453 584zM454 473zM454 488zM454 523zM456 531zM456 585zM457 537zM458 251zM459 166zM459 519zM460 352zM462 531zM463 219zM463 583zM464 552zM464 595zM465 587zM466 216zM466 475zM467 208zM467 271zM467 562zM469 247zM470 511zM470 703zM471 467zM472 503zM472 571zM473 212zM473 229zM473 568zM474 609zM476 535zM476 631zM477 576zM477 586zM480 201zM482 618zM483 463zM484 526zM487 566zM488 541zM491 643zM492 509zM492 523zM493 528zM493 542zM494 591zM495 544zM496 563zM498 332zM498 510zM498 592zM502 571zM502 611zM503 354zM503 567zM504 517zM505 497zM508 379zM508 551zM508 618zM510 486zM511 554zM512 407zM514 550zM514 584zM517 455zM518 156zM520 630zM521 572zM521 628zM522 515zM522 665zM524 507zM528 541zM533 585zM533 592zM536 539zM536 598zM538 545zM538 577zM543 251zM544 494zM544 616zM553 505zM555 542zM555 584zM557 731zM559 570zM564 668zM568 552zM568 625zM570 629zM574 542zM576 579zM584 360zM585 517zM585 635zM590 190zM590 539zM591 567zM592 562zM597 331zM597 600zM601 665zM604 611zM604 628zM607 569zM610 559zM620 495zM635 576zM652 397zM653 541zM668 614zM673 632zM681 543zM693 596zM760 559z" stroke-width="6" stroke-opacity="0.55"/>
<path d="M95 321zM104 332zM133 210zM135 194zM141 279zM144 278zM145 240zM147 342zM150 287zM152 309zM154 227zM154 231zM156 321zM157 294zM158 299zM159 272zM159 289zM160 259zM161 348zM161 416zM162 250zM162 283zM162 287zM162 304zM164 224zM164 311zM165 309zM165 312zM165 320zM166 315zM167 287zM169 233zM169 244zM169 356zM170 223zM170 259zM170 288zM171 308zM172 228zM174 254zM175 274zM175 301zM175 315zM176 250zM176 273zM176 297zM177 225zM177 343zM178 221zM178 241zM179 308zM180 173zM181 283zM182 361zM183 248zM183 267zM183 305zM183 322zM184 216zM184 228zM184 259zM184 314zM185 230zM185 241zM185 243zM185 246zM185 255zM186 274zM187 300zM188 265zM188 287zM188 297zM189 133zM189 172zM189 237zM190 224zM190 350zM190 354zM191 242zM191 272zM191 302zM192 249zM192 275zM192 341zM193 219zM193 234zM193 304zM193 320zM194 216zM194 286zM195 198zM195 218zM195 293zM195 295zM196 206zM196 208zM196 266zM196 278zM196 281zM196 321zM196 335zM197 214zM197 224zM197 262zM197 306zM198 215zM198 219zM198 233zM198 239zM198 253zM198 258zM198 264zM198 281zM198 321zM198 341zM199 198zM199 204zM199 223zM199 233zM199 256zM199 302zM199 336zM200 167zM200 168zM200 185zM200 236zM200 255zM200 256zM200 272zM200 294zM201 210zM201 286zM201 290zM201 294zM201 299zM201 316zM201 320zM202 241zM202 266zM202 296zM202 299zM203 232zM203 306zM204 232zM204 233zM204 258zM204 269zM204 291zM204 294zM204 305zM205 252zM205 286zM205 292zM205 293zM205 299zM206 214zM206 269zM206 298zM206 310zM206 323zM207 240zM207 252zM207 267zM207 282zM207 284zM207 297zM207 304zM208 243zM208 257zM208 302zM208 306zM208 313zM208 337zM209 178zM209 189zM209 224zM209 245zM209 265zM209 266zM209 290zM209 315zM209 352zM210 197zM210 228zM210 238zM210 239zM210 267zM210 269zM210 274zM210 305zM210 309zM210 382zM210 416zM211 227zM211 260zM211 268zM211 313zM212 227zM212 239zM212 246zM212 264zM212 287zM212 308zM212 314zM212 346zM212 351zM213 206zM213 222zM213 248zM213 264zM213 273zM213 282zM213 291zM214 189zM214 225zM214 236zM214 243zM214 265zM214 272zM214 279zM214 280zM214 295zM215 206zM215 222zM215 223zM215 234zM215 235zM215 246zM215 256zM215 273zM215 276zM215 353zM216 197zM216 238zM216 275zM216 276zM216 285zM217 162zM217 204zM217 219zM217 259zM217 288zM217 321zM217 329zM217 392zM218 205zM218 207zM218 268zM218 269zM218 281zM218 295zM218 323zM218 327zM219 173zM219 206zM219 225zM219 252zM219 274zM219 285zM219 304zM219 342zM220 217zM220 250zM220 261zM220 281zM220 284zM220 288zM220 292zM220 300zM220 312zM220 315zM220 318zM220 321zM220 322zM221 180zM221 195zM221 211zM221 233zM221 235zM221 238zM221 261zM221 265zM221 268zM221 269zM221 272zM221 274zM221 309zM221 352zM221 367zM222 188zM222 244zM222 251zM222 270zM222 276zM222 279zM222 307zM222 312zM222 315zM222 316zM223 209zM223 226zM223 248zM223 250zM223 253zM223 282zM223 304zM223 359zM223 371zM224 208zM224 246zM224 258zM224 265zM224 272zM224 319zM225 217zM225 225zM225 230zM225 247zM225 257zM225 260zM225 281zM225 287zM225 288zM225 308zM225 317zM226 225zM226 232zM226 247zM226 258zM226 310zM226 325zM226 341zM227 209zM227 233zM227 238zM227 265zM227 272zM227 280zM227 303zM227 320zM227 325zM227 326zM227 331zM227 369zM228 174zM228 212zM228 227zM228 228zM228 242zM228 243zM228 277zM228 290zM228 301zM228 304zM228 315zM228 327zM228 337zM228 351zM229 231zM229 244zM229 251zM229 254zM229 262zM229 284zM229 296zM229 306zM229 331zM229 335zM230 199zM230 210zM230 222zM230 243zM230 245zM230 270zM230 280zM230 282zM230 291zM230 298zM230 320zM230 325zM230 333zM230 340zM230 342zM230 350zM231 147zM231 207zM231 229zM231 254zM231 257zM231 263zM231 276zM231 277zM231 285zM231 292zM231 294zM231 332zM231 339zM231 340zM232 169zM232 188zM232 206zM232 216zM232 220zM232 233zM232 250zM232 253zM232 265zM232 280zM232 295zM232 296zM232 298zM232 302zM232 369zM233 220zM233 233zM233 239zM233 262zM233 272zM233 301zM233 303zM233 349zM233 359zM234 217zM234 228zM234 257zM234 269zM234 291zM234 317zM234 321zM234 358zM235 216zM235 254zM235 263zM235 281zM235 290zM235 299zM236 198zM236 214zM236 250zM236 270zM236 278zM236 284zM236 289zM236 296zM236 329zM236 378zM237 198zM237 204zM237 251zM237 262zM237 263zM237 272zM237 287zM237 330zM237 348zM238 217zM238 229zM238 241zM238 247zM238 254zM238 267zM238 279zM238 292zM238 308zM238 330zM239 178zM239 195zM239 209zM239 235zM239 252zM239 254zM239 267zM239 286zM239 288zM239 305zM239 318zM239 348zM240 207zM240 225zM240 252zM240 254zM240 255zM240 271zM240 294zM240 321zM240 372zM241 186zM241 230zM241 247zM241 276zM241 294zM242 240zM242 258zM242 259zM242 260zM242 265zM242 277zM242 281zM242 287zM242 296zM242 309zM242 316zM242 365zM243 217zM243 218zM243 223zM243 229zM243 233zM243 243zM243 249zM243 251zM243 288zM243 305zM244 244zM244 280zM244 300zM244 313zM244 315zM244 317zM244 338zM244 339zM244 360zM244 368zM245 186zM245 194zM245 204zM245 222zM245 223zM245 227zM245 250zM245 256zM245 258zM245 317zM245 322zM245 333zM245 338zM245 355zM245 368zM246 141zM246 189zM246 191zM246 207zM246 222zM246 237zM246 251zM246 258zM246 259zM246 271zM246 272zM246 274zM246 275zM246 280zM246 294zM246 298zM246 302zM246 333zM246 338zM247 229zM247 230zM247 245zM247 256zM247 272zM247 287zM247 288zM247 289zM247 318zM247 326zM247 345zM248 194zM248 270zM248 271zM248 287zM248 304zM248 330zM248 368zM248 370zM249 249zM249 252zM249 257zM249 258zM249 275zM249 284zM249 299zM249 304zM249 310zM249 313zM249 320zM249 381zM250 154zM250 189zM250 235zM250 238zM250 243zM250 251zM250 252zM250 273zM250 275zM250 276zM250 295zM250 303zM250 349zM251 154zM251 188zM251 213zM251 239zM251 242zM251 257zM251 261zM251 263zM251 276zM251 277zM251 307zM251 316zM251 318zM252 202zM252 219zM252 226zM252 244zM252 257zM252 261zM252 267zM252 272zM252 274zM252 281zM252 294zM252 307zM252 311zM252 316zM252 317zM252 367zM253 177zM253 231zM253 232zM253 237zM253 241zM253 242zM253 270zM253 277zM253 280zM253 282zM253 283zM253 291zM253 312zM253 349zM253 379zM254 193zM254 224zM254 264zM254 292zM254 311zM254 347zM255 190zM255 214zM255 217zM255 233zM255 241zM255 243zM255 257zM255 258zM255 259zM255 261zM255 271zM255 278zM255 282zM255 304zM255 305zM255 310zM255 326zM255 359zM256 206zM256 212zM256 228zM256 249zM256 261zM256 266zM256 271zM256 276zM256 286zM256 292zM256 334zM257 234zM257 242zM257 246zM257 247zM257 273zM257 274zM257 276zM257 292zM257 294zM257 296zM258 177zM258 224zM258 238zM258 250zM258 252zM258 257zM258 270zM258 283zM258 284zM258 285zM258 291zM258 314zM258 317zM258 328zM258 341zM258 373zM259 180zM259 188zM259 219zM259 232zM259 243zM259 261zM259 265zM259 270zM259 295zM259 298zM259 325zM260 152zM260 199zM260 205zM260 219zM260 221zM260 238zM260 267zM260 283zM260 284zM260 288zM260 296zM260 301zM260 327zM260 331zM260 344zM261 221zM261 232zM261 233zM261 258zM261 268zM261 275zM261 279zM261 290zM261 301zM261 313zM261 358zM261 364zM262 223zM262 229zM262 242zM262 267zM262 281zM262 290zM262 296zM262 299zM262 304zM262 316zM262 343zM263 225zM263 241zM263 245zM263 257zM263 284zM263 286zM263 287zM263 289zM263 300zM263 315zM263 333zM264 195zM264 217zM264 227zM264 230zM264 245zM264 271zM264 273zM264 279zM264 317zM264 333zM265 220zM265 239zM265 255zM265 291zM265 296zM265 297zM265 300zM265 306zM265 325zM266 208zM266 213zM266 235zM266 237zM266 243zM266 249zM266 255zM266 274zM266 281zM266 286zM266 298zM266 335zM267 165zM267 203zM267 242zM267 247zM267 248zM267 260zM267 268zM267 279zM267 286zM267 294zM267 308zM267 316zM267 322zM267 329zM268 208zM268 218zM268 260zM268 267zM268 272zM268 275zM268 281zM268 285zM268 299zM268 303zM268 305zM268 343zM268 365zM269 238zM269 259zM269 261zM269 274zM269 278zM269 288zM269 316zM269 336zM269 337zM269 340zM269 344zM269 346zM270 202zM270 232zM270 237zM270 249zM270 270zM270 275zM270 285zM270 313zM270 317zM270 362zM271 224zM271 239zM271 240zM271 260zM271 269zM271 271zM271 272zM271 286zM271 288zM271 292zM271 301zM271 316zM271 319zM271 321zM271 324zM271 330zM272 225zM272 227zM272 234zM272 247zM272 274zM272 313zM272 343zM273 200zM273 235zM273 239zM273 241zM273 256zM273 262zM273 263zM273 266zM273 269zM273 274zM273 276zM273 289zM273 291zM273 292zM273 325zM274 220zM274 254zM274 257zM274 264zM274 274zM274 276zM274 310zM274 343zM274 350zM274 355zM275 237zM275 253zM275 280zM275 295zM275 309zM275 312zM275 314zM276 206zM276 249zM276 250zM276 255zM276 260zM276 261zM276 276zM276 282zM276 291zM276 297zM276 314zM276 320zM276 323zM276 385zM276 394zM277 217zM277 222zM277 236zM277 242zM277 243zM277 249zM277 264zM277 289zM277 299zM277 302zM277 338zM277 343zM278 219zM278 222zM278 233zM278 240zM278 254zM278 257zM278 273zM278 280zM278 335zM278 354zM278 376zM279 199zM279 220zM279 223zM279 226zM279 246zM279 261zM279 272zM279 274zM279 291zM279 293zM279 299zM279 300zM279 339zM280 183zM280 199zM280 252zM280 255zM280 262zM280 266zM280 276zM280 286zM280 301zM280 311zM280 314zM280 320zM281 145zM281 179zM281 230zM281 259zM281 280zM281 290zM281 303zM281 314zM281 342zM281 366zM282 199zM282 218zM282 226zM282 235zM282 242zM282 256zM282 271zM282 272zM282 279zM282 303zM282 304zM282 309zM282 314zM282 328zM282 352zM282 355zM282 358zM283 168zM283 179zM283 217zM283 266zM284 207zM284 250zM284 268zM284 276zM284 285zM284 287zM284 296zM284 326zM284 336zM285 218zM285 229zM285 234zM285 269zM285 277zM285 278zM285 289zM285 313zM285 324zM286 216zM286 233zM286 238zM286 249zM286 253zM286 264zM286 282zM286 292zM286 337zM287 257zM287 262zM287 269zM287 280zM287 323zM287 355zM288 184zM288 217zM288 218zM288 264zM288 273zM288 315zM288 318zM288 326zM289 209zM289 225zM289 230zM289 239zM289 262zM289 301zM289 304zM289 318zM290 223zM290 235zM290 238zM290 249zM290 257zM290 259zM290 295zM290 302zM290 307zM291 205zM291 225zM291 236zM291 246zM291 270zM291 289zM291 294zM291 363zM292 184zM292 193zM292 203zM292 226zM292 251zM292 264zM292 306zM292 318zM293 197zM293 237zM293 251zM293 252zM293 255zM293 272zM293 277zM293 286zM293 289zM293 293zM293 296zM293 299zM293 303zM293 319zM293 364zM293 391zM294 220zM294 243zM294 260zM294 275zM294 329zM294 418zM295 248zM295 254zM295 268zM295 270zM295 274zM295 314zM295 323zM295 338zM295 361zM296 185zM296 208zM296 235zM296 239zM296 243zM296 259zM296 275zM296 290zM296 295zM296 298zM297 155zM297 181zM297 242zM297 243zM297 250zM297 317zM297 323zM297 345zM297 364zM297 377zM297 389zM298 166zM298 252zM298 253zM298 264zM298 273zM298 275zM298 277zM298 289zM298 304zM299 189zM299 204zM299 215zM299 241zM299 252zM299 261zM299 267zM299 326zM299 350zM300 187zM300 204zM300 217zM300 248zM300 286zM300 304zM300 317zM300 325zM300 330zM301 247zM301 288zM301 291zM301 299zM301 317zM301 324zM302 215zM302 218zM302 257zM302 293zM302 299zM302 301zM302 338zM303 215zM303 236zM303 239zM303 242zM303 280zM303 282zM303 304zM303 324zM304 236zM304 237zM304 260zM304 277zM304 283zM304 284zM304 292zM304 312zM304 319zM304 323zM304 332zM305 201zM305 244zM305 312zM305 346zM305 350zM306 198zM306 217zM306 220zM306 241zM306 260zM306 302zM306 314zM307 245zM307 251zM307 253zM307 277zM307 280zM307 282zM307 309zM308 220zM308 234zM308 248zM308 291zM308 293zM308 295zM309 195zM309 212zM309 239zM309 248zM309 249zM309 323zM309 324zM310 176zM310 206zM310 266zM310 268zM310 274zM310 278zM310 299zM310 318zM310 320zM310 323zM310 326zM310 328zM311 214zM311 222zM311 229zM311 255zM311 270zM311 278zM311 289zM311 294zM311 295zM311 317zM312 203zM312 249zM312 262zM312 314zM312 316zM312 321zM312 327zM312 372zM313 251zM313 270zM313 272zM314 194zM314 201zM314 207zM314 242zM314 265zM315 255zM315 256zM315 260zM315 271zM315 295zM315 313zM315 376zM315 381zM316 216zM316 234zM316 262zM316 275zM316 292zM316 313zM316 318zM316 342zM317 145zM317 204zM317 205zM317 224zM317 240zM317 273zM317 284zM317 290zM317 300zM317 312zM318 172zM318 208zM318 213zM318 246zM318 269zM318 271zM318 276zM318 301zM318 315zM319 193zM319 209zM319 258zM319 269zM320 198zM320 269zM320 287zM320 289zM320 299zM320 386zM321 209zM321 267zM321 275zM321 288zM321 291zM321 299zM322 230zM322 240zM322 297zM322 312zM323 207zM323 212zM323 254zM323 306zM323 329zM324 214zM324 226zM324 253zM324 261zM324 263zM325 269zM325 322zM326 176zM326 296zM326 337zM327 233zM327 249zM327 307zM327 315zM327 326zM328 220zM328 229zM328 266zM328 273zM328 297zM328 314zM329 225zM329 273zM329 294zM329 312zM330 191zM330 192zM330 226zM330 237zM330 246zM330 254zM330 256zM330 310zM330 338zM331 223zM331 261zM331 317zM331 391zM332 235zM332 264zM332 268zM333 222zM333 242zM333 269zM333 347zM334 241zM334 254zM334 288zM335 239zM335 267zM335 278zM335 337zM336 152zM336 168zM336 203zM336 207zM336 248zM336 277zM336 278zM336 281zM336 370zM337 306zM337 307zM337 318zM338 238zM339 298zM339 312zM340 158zM340 174zM340 251zM340 273zM341 270zM341 311zM342 264zM342 323zM342 339zM343 174zM343 212zM343 282zM343 290zM344 221zM344 248zM345 219zM345 296zM345 297zM345 366zM346 251zM346 261zM346 283zM347 244zM347 288zM347 303zM348 234zM348 279zM349 292zM349 304zM349 312zM349 389zM350 220zM350 270zM351 248zM352 220zM352 239zM353 217zM354 279zM354 368zM355 270zM355 271zM355 297zM356 155zM356 241zM356 253zM356 294zM357 352zM358 274zM359 276zM360 232zM360 240zM360 267zM362 253zM363 317zM364 288zM364 294zM366 241zM366 262zM368 222zM368 308zM369 201zM371 211zM371 288zM371 326zM372 248zM375 266zM376 224zM377 251zM377 259zM378 300zM381 228zM383 267zM385 174zM385 267zM387 251zM387 266zM387 287zM393 146zM393 281zM393 334zM400 262z" stroke-width="6" stroke-opacity="0.8"/>
<path d="M118 643l3-13 8-18 18-31 13-19 16-19 21-21 11-7 9-3 8 2 10 4 14 8 21 14 12 5 50 15 101 25 72 20 25 9 24 12 7 5 3 5-1 4-4 3-13 7-10 4-17 4-44 4-143 0-16 1-49 0-21-1-69-1-21-1-27-5-8-4-3-4z" fill="#ececec" stroke-width="13"/>
<path d="M136 637l3-7 12-24 22-34 13-17 13-13 12-10 7-3 5 1 8 4 31 20 13 6 52 15 97 24 59 16 39 14 8 4 2 3-1 2-2 1-11 3-20 2-21 2-146 0-19 1-134-1-20-2-15-2-5-2z" fill="#b4b4b4" stroke-width="5.5"/>
<path d="M156 627l7-16 20-31 13-16 10-10 8-8 5-2 8 3 29 19 14 6 51 15 100 25 42 12 12 4 2 2-1 1-4 1-16 1-193 1-16-1-70 0-17-2-3-1z" fill="#e0e0e0" stroke-width="5"/>
<path d="M176 617l1-4 8-14 18-24 12-13 3-2 3-1 7 3 22 14 13 7 16 5 81 21 20 6 6 3-1 1-4 1-66 2-51 0-17-1-64 0-5-1-2-1z" fill="#f4f4f4" stroke-width="4.5"/>
</g>
<ellipse cx="174.1" cy="280.3" rx="2.2" ry="1.9" fill="#c8c8c8" stroke="#231f20" stroke-width="0.55"/>
<ellipse cx="177.1" cy="281" rx="1.0" ry="1.2" fill="#c8c8c8" stroke="#231f20" stroke-width="0.55"/>
<ellipse cx="191.1" cy="281.8" rx="6.5" ry="0.8" fill="#c8c8c8" stroke="#231f20" stroke-width="0.55"/>
<circle cx="178.5" cy="245.4" r="6.4" fill="#231f20"/>
<ellipse cx="178.8" cy="245.1" rx="3.6" ry="3.1" fill="#cfcfcf" transform="rotate(-30 178.5 245.4)"/>
<ellipse cx="184.4" cy="244.6" rx="20.9" ry="12.6" transform="rotate(-31 184.4 244.6)" fill="none" stroke="#231f20" stroke-width="0.8"/>
<text x="202.9" y="235.1" font-size="8.2" >3.15</text>
<rect x="152.4" y="218.3" width="84" height="83.8" fill="none" stroke="#231f20" stroke-width="0.9"/>
<text x="148" y="230" font-size="6.9" text-anchor="end" >10<tspan dx="0.2" font-size="4.7" dy="-2.5">5</tspan><tspan dy="2.5" font-size="1">&#8203;</tspan></text>
<text x="148" y="249.1" font-size="6.9" text-anchor="end" >10<tspan dx="0.2" font-size="4.7" dy="-2.5">4</tspan><tspan dy="2.5" font-size="1">&#8203;</tspan></text>
<text x="148" y="272" font-size="6.9" text-anchor="end" >10<tspan dx="0.2" font-size="4.7" dy="-2.5">3</tspan><tspan dy="2.5" font-size="1">&#8203;</tspan></text>
<text x="147.8" y="285.9" font-size="6.9" text-anchor="end" >0</text>
<text x="148" y="301.7" font-size="6.9" text-anchor="end" >–10<tspan dx="0.2" font-size="4.7" dy="-2.5">3</tspan><tspan dy="2.5" font-size="1">&#8203;</tspan></text>
<text x="156.5" y="313.5" font-size="6.9" text-anchor="middle" >–10<tspan dx="0.2" font-size="4.7" dy="-2.5">3</tspan><tspan dy="2.5" font-size="1">&#8203;</tspan></text>
<text x="170.9" y="313.5" font-size="6.9" text-anchor="middle" >0</text>
<text x="186.1" y="313.5" font-size="6.9" text-anchor="middle" >10<tspan dx="0.2" font-size="4.7" dy="-2.5">3</tspan><tspan dy="2.5" font-size="1">&#8203;</tspan></text>
<text x="209.3" y="313.5" font-size="6.9" text-anchor="middle" >10<tspan dx="0.2" font-size="4.7" dy="-2.5">4</tspan><tspan dy="2.5" font-size="1">&#8203;</tspan></text>
<text x="228.5" y="313.5" font-size="6.9" text-anchor="middle" >10<tspan dx="0.2" font-size="4.7" dy="-2.5">5</tspan><tspan dy="2.5" font-size="1">&#8203;</tspan></text>
<path d="M150 226.6H152.4M150 245.7H152.4M150 268.6H152.4M150 283.3H152.4M150 298.3H152.4M157.7 302.1V304.5M170.9 302.1V304.5M186.1 302.1V304.5M209.3 302.1V304.5M228.5 302.1V304.5" stroke="#231f20" stroke-width="0.8" fill="none"/>
<path d="M150.9 261.71H152.4M150.9 257.67H152.4M150.9 254.81H152.4M150.9 252.59H152.4M150.9 250.78H152.4M150.9 249.25H152.4M150.9 247.92H152.4M150.9 246.75H152.4M150.9 239.95H152.4M150.9 236.59H152.4M150.9 234.2H152.4M150.9 232.35H152.4M150.9 230.84H152.4M150.9 229.56H152.4M150.9 228.45H152.4M150.9 227.47H152.4M150.9 275.95H152.4M150.9 290.8H152.4M150.9 273.6H152.4M150.9 293.2H152.4M150.9 271.83H152.4M150.9 295H152.4M150.9 270.51H152.4M150.9 296.35H152.4M150.9 269.48H152.4M150.9 297.4H152.4M193.08 302.1V303.6M197.17 302.1V303.6M200.07 302.1V303.6M202.32 302.1V303.6M204.15 302.1V303.6M205.71 302.1V303.6M207.05 302.1V303.6M208.24 302.1V303.6M215.08 302.1V303.6M218.46 302.1V303.6M220.86 302.1V303.6M222.72 302.1V303.6M224.24 302.1V303.6M225.53 302.1V303.6M226.64 302.1V303.6M227.62 302.1V303.6M178.5 302.1V303.6M164.3 302.1V303.6M180.93 302.1V303.6M162.19 302.1V303.6M182.76 302.1V303.6M160.6 302.1V303.6M184.12 302.1V303.6M159.42 302.1V303.6M185.19 302.1V303.6M158.49 302.1V303.6" stroke="#231f20" stroke-width="0.6" fill="none"/>
<rect x="150.4" y="281.1" width="2" height="4.4" fill="#231f20"/><rect x="168.8" y="302.1" width="4.2" height="2" fill="#231f20"/>
<g transform="translate(43.3 318.5) scale(.1)" fill="none" stroke="#231f20" stroke-linecap="round" stroke-linejoin="round">
<path d="M16 572zM17 286zM22 438zM40 599zM45 483zM47 534zM59 503zM61 286zM63 583zM68 502zM70 580zM71 512zM71 515zM71 548zM73 472zM75 509zM79 582zM89 482zM93 594zM94 471zM97 487zM103 426zM105 339zM106 545zM109 353zM109 387zM110 562zM112 338zM113 289zM116 286zM116 572zM117 507zM119 192zM119 384zM119 535zM121 501zM122 435zM123 351zM123 363zM125 410zM125 575zM126 215zM127 126zM127 236zM127 471zM129 443zM129 584zM130 276zM131 421zM132 439zM132 569zM133 456zM133 479zM133 565zM134 274zM135 506zM135 542zM138 288zM138 385zM139 508zM141 356zM141 530zM142 478zM142 548zM142 582zM143 598zM145 388zM146 283zM146 399zM147 277zM148 298zM148 544zM149 310zM150 278zM150 413zM151 461zM152 557zM154 424zM156 276zM156 381zM157 131zM159 348zM160 571zM162 568zM162 581zM163 414zM163 563zM164 500zM165 275zM165 465zM168 498zM168 541zM169 132zM170 286zM170 564zM171 407zM173 183zM173 227zM173 334zM173 550zM174 576zM175 506zM175 553zM175 596zM176 464zM177 209zM177 257zM177 484zM178 340zM178 494zM178 525zM179 628zM180 225zM181 258zM181 337zM181 412zM182 322zM183 320zM183 384zM183 569zM183 588zM183 599zM184 281zM185 438zM185 530zM186 505zM186 531zM186 576zM187 554zM188 361zM188 556zM188 568zM188 584zM189 370zM189 519zM189 584zM190 255zM190 440zM191 364zM191 366zM191 488zM191 491zM191 507zM191 584zM193 257zM193 511zM193 562zM194 321zM194 340zM194 389zM194 535zM195 336zM195 560zM197 304zM197 477zM198 253zM198 263zM199 329zM199 392zM200 146zM201 200zM201 301zM202 527zM202 568zM204 500zM204 536zM205 459zM205 561zM205 730zM206 492zM207 438zM207 464zM207 583zM208 278zM208 541zM208 598zM209 258zM209 319zM209 476zM209 594zM210 275zM210 311zM210 484zM210 492zM211 226zM211 419zM211 485zM211 553zM211 555zM211 581zM212 350zM212 467zM213 455zM213 459zM214 204zM214 384zM214 404zM214 581zM215 236zM215 370zM215 381zM215 550zM216 561zM216 581zM217 234zM217 265zM217 369zM217 440zM217 523zM217 533zM218 259zM218 375zM218 463zM218 560zM219 326zM219 363zM219 421zM219 465zM219 552zM220 316zM220 483zM221 399zM221 455zM221 520zM222 223zM222 299zM222 339zM222 345zM222 409zM222 465zM223 211zM223 237zM223 426zM223 484zM223 540zM224 205zM224 277zM225 282zM225 295zM225 313zM225 397zM225 414zM225 431zM225 475zM225 578zM225 580zM226 138zM226 271zM226 360zM227 529zM227 553zM228 248zM228 285zM229 427zM230 210zM230 241zM230 247zM230 286zM230 452zM230 545zM230 549zM230 575zM231 211zM231 269zM231 313zM231 444zM231 480zM232 290zM232 413zM232 414zM232 483zM232 567zM233 438zM234 237zM234 276zM234 331zM234 576zM235 237zM235 252zM235 253zM235 290zM235 311zM235 340zM235 391zM236 550zM236 587zM237 191zM237 555zM237 585zM238 442zM238 531zM239 191zM239 222zM239 407zM239 441zM241 138zM241 332zM241 506zM241 546zM242 289zM242 298zM242 385zM242 526zM243 385zM244 182zM244 245zM244 397zM245 235zM245 379zM245 384zM245 445zM245 572zM245 601zM246 260zM246 270zM246 342zM246 472zM246 500zM246 559zM247 283zM247 429zM247 532zM249 334zM249 516zM249 535zM250 332zM250 352zM250 372zM250 569zM251 254zM251 260zM251 344zM251 436zM251 447zM251 468zM252 265zM252 275zM252 295zM252 327zM252 436zM252 495zM252 523zM252 552zM253 313zM253 338zM253 399zM253 498zM254 571zM254 620zM255 229zM255 307zM255 325zM255 458zM255 538zM255 556zM255 559zM256 195zM256 274zM256 299zM256 446zM257 225zM257 270zM257 281zM257 343zM257 368zM257 551zM258 219zM258 308zM258 404zM258 474zM258 507zM258 559zM259 459zM259 494zM259 603zM260 289zM260 309zM260 415zM260 507zM261 285zM261 301zM261 347zM261 355zM261 557zM262 410zM262 467zM262 566zM262 594zM263 282zM263 296zM263 389zM263 477zM263 541zM263 543zM263 579zM264 270zM264 277zM264 334zM265 296zM265 345zM265 352zM265 394zM265 472zM265 475zM265 497zM265 581zM265 599zM266 236zM266 279zM266 288zM266 327zM266 332zM266 473zM266 505zM267 244zM267 481zM268 290zM268 390zM268 512zM268 554zM268 634zM269 280zM269 369zM269 548zM269 564zM270 206zM270 260zM270 270zM270 308zM270 319zM270 373zM270 404zM270 572zM271 312zM271 344zM271 461zM272 232zM272 252zM272 332zM272 491zM273 268zM273 327zM273 484zM273 501zM273 566zM273 593zM274 250zM274 494zM274 570zM274 613zM275 182zM275 213zM275 254zM275 264zM275 297zM275 411zM275 463zM275 589zM276 206zM276 247zM276 256zM276 259zM276 357zM276 577zM277 468zM277 547zM278 348zM278 458zM278 553zM279 332zM279 595zM280 305zM280 377zM280 523zM281 248zM281 286zM281 435zM281 453zM281 525zM281 546zM282 193zM282 284zM282 306zM282 468zM282 554zM283 232zM283 263zM284 196zM284 245zM284 416zM284 438zM284 582zM284 612zM285 271zM285 306zM285 523zM286 261zM286 270zM286 274zM286 286zM286 456zM286 490zM286 589zM287 209zM287 406zM287 549zM287 600zM288 256zM288 333zM288 422zM289 279zM289 280zM289 331zM290 169zM291 306zM291 488zM291 532zM291 589zM292 150zM292 287zM292 444zM292 544zM292 549zM292 565zM293 244zM293 445zM293 512zM293 514zM293 558zM293 633zM294 199zM294 286zM294 288zM294 295zM294 576zM295 169zM295 287zM295 515zM296 272zM296 356zM296 467zM297 256zM297 266zM298 249zM298 278zM298 288zM298 364zM298 452zM298 510zM299 174zM299 358zM299 499zM299 555zM299 568zM299 613zM300 328zM300 415zM300 417zM300 488zM300 527zM300 528zM300 575zM301 186zM301 265zM301 307zM301 432zM301 474zM301 507zM301 521zM302 223zM302 271zM302 548zM302 572zM302 581zM302 732zM303 274zM303 291zM303 332zM303 527zM304 265zM304 283zM304 461zM304 533zM304 555zM305 223zM305 252zM305 262zM305 280zM305 320zM305 350zM306 229zM306 314zM306 516zM306 797zM307 166zM307 278zM307 356zM307 552zM307 623zM308 234zM308 256zM308 331zM308 432zM308 526zM308 537zM309 548zM309 565zM309 587zM310 268zM310 347zM310 431zM310 489zM310 514zM310 536zM310 568zM311 359zM311 426zM311 441zM311 488zM311 607zM312 276zM312 291zM312 319zM312 347zM312 416zM312 532zM313 200zM313 253zM313 531zM313 557zM313 658zM314 257zM314 363zM314 539zM314 562zM315 252zM315 312zM315 314zM315 339zM315 559zM315 612zM316 325zM316 336zM316 340zM316 421zM316 482zM317 246zM317 391zM317 411zM317 606zM318 291zM318 298zM318 511zM318 583zM318 597zM319 485zM320 277zM320 291zM320 319zM320 569zM321 301zM321 320zM321 496zM322 282zM322 365zM322 415zM322 500zM322 577zM322 622zM323 344zM323 373zM323 572zM324 247zM324 312zM324 405zM324 431zM324 495zM324 613zM325 265zM325 552zM325 559zM326 195zM326 555zM327 243zM327 260zM327 422zM327 498zM327 535zM328 280zM328 301zM328 320zM328 342zM329 207zM329 272zM329 551zM330 245zM330 252zM330 287zM330 300zM330 466zM331 235zM331 246zM331 256zM331 330zM331 428zM331 493zM331 586zM332 272zM332 586zM333 273zM333 297zM333 327zM333 425zM333 549zM334 302zM334 351zM334 446zM334 486zM334 523zM334 568zM335 359zM336 290zM336 504zM336 539zM337 559zM338 317zM338 520zM339 265zM339 291zM339 674zM340 209zM340 229zM340 253zM340 265zM340 471zM340 513zM340 549zM341 262zM341 479zM341 536zM341 563zM341 567zM342 578zM343 217zM343 248zM343 252zM343 379zM343 554zM344 143zM344 228zM344 293zM344 481zM344 534zM344 544zM344 569zM345 199zM345 383zM345 543zM345 568zM346 571zM347 198zM347 343zM347 444zM347 542zM347 550zM348 221zM348 488zM348 495zM348 522zM349 229zM349 261zM349 294zM349 296zM349 381zM349 531zM350 319zM350 419zM350 441zM350 479zM350 553zM350 575zM350 589zM350 603zM351 520zM352 352zM352 524zM352 533zM352 565zM352 607zM353 411zM354 264zM354 412zM355 330zM355 569zM356 268zM356 306zM357 263zM357 522zM357 560zM358 168zM358 266zM358 403zM358 483zM358 554zM358 585zM359 419zM359 535zM360 364zM361 139zM361 328zM361 425zM362 499zM362 571zM362 594zM363 223zM363 293zM363 517zM363 577zM363 582zM363 585zM364 109zM364 565zM364 566zM365 275zM365 315zM365 342zM365 458zM365 475zM365 540zM365 543zM365 575zM366 307zM366 316zM366 506zM366 551zM366 598zM367 372zM368 213zM368 429zM368 449zM369 504zM369 581zM370 253zM370 489zM370 564zM372 143zM372 413zM372 466zM372 483zM372 531zM372 534zM372 539zM372 581zM373 315zM373 324zM373 511zM373 562zM373 614zM374 308zM374 567zM375 559zM375 599zM376 211zM376 240zM376 346zM376 396zM376 411zM376 530zM376 554zM376 591zM377 369zM377 438zM377 555zM377 578zM378 452zM378 563zM379 516zM380 379zM380 580zM381 296zM381 514zM381 561zM382 371zM382 552zM383 212zM383 258zM383 487zM383 506zM383 564zM384 588zM385 380zM385 489zM386 514zM387 331zM387 606zM388 319zM388 333zM388 547zM390 453zM390 464zM390 560zM391 542zM392 547zM392 576zM393 307zM393 494zM393 596zM394 557zM395 514zM395 534zM395 592zM396 355zM396 483zM397 391zM397 548zM398 241zM398 404zM398 493zM398 547zM398 593zM399 484zM399 609zM400 693zM403 311zM403 539zM404 269zM404 490zM404 807zM405 548zM405 580zM407 524zM408 317zM408 348zM408 436zM408 549zM408 550zM408 580zM409 551zM410 529zM410 543zM410 568zM411 310zM412 241zM412 433zM412 536zM412 549zM412 565zM412 597zM413 324zM413 445zM414 588zM415 402zM415 555zM416 593zM417 476zM418 559zM418 580zM419 224zM419 585zM420 549zM422 271zM422 540zM422 557zM423 231zM423 392zM423 498zM423 509zM423 575zM424 260zM424 509zM425 597zM426 591zM428 586zM429 570zM430 559zM430 572zM431 254zM432 515zM432 519zM433 578zM433 598zM433 622zM435 563zM436 492zM436 512zM438 371zM438 581zM439 599zM439 639zM440 446zM443 343zM444 544zM444 573zM445 583zM446 599zM447 481zM447 630zM448 537zM450 10zM450 296zM450 555zM451 455zM451 504zM451 559zM452 579zM453 559zM455 419zM458 537zM458 577zM459 496zM459 515zM459 552zM459 622zM459 626zM461 498zM461 563zM463 510zM464 560zM467 559zM471 580zM473 576zM475 586zM476 429zM476 512zM476 641zM478 469zM478 588zM479 600zM479 613zM479 635zM481 619zM483 582zM483 643zM484 464zM485 555zM487 529zM488 537zM488 587zM488 618zM488 646zM491 617zM492 601zM492 639zM493 567zM493 649zM494 774zM495 557zM496 608zM497 633zM499 588zM500 557zM503 579zM504 567zM505 565zM506 620zM506 622zM506 662zM507 14zM507 56zM507 391zM509 644zM510 622zM510 635zM510 655zM512 525zM513 643zM513 663zM514 532zM515 580zM516 519zM517 589zM517 612zM520 339zM520 657zM521 588zM521 623zM524 578zM524 607zM524 653zM525 549zM525 649zM527 29zM527 115zM529 464zM530 621zM530 658zM532 583zM532 587zM532 662zM534 590zM534 629zM535 611zM536 571zM536 583zM541 601zM542 604zM543 620zM544 612zM545 599zM546 293zM546 537zM546 666zM547 589zM547 633zM548 583zM550 617zM550 623zM550 639zM551 646zM551 653zM553 635zM554 578zM554 635zM555 626zM555 641zM556 620zM556 641zM557 555zM557 604zM558 527zM558 589zM558 649zM559 581zM559 620zM560 630zM561 576zM561 626zM561 687zM562 609zM563 571zM563 661zM566 661zM566 674zM568 630zM569 585zM569 618zM571 629zM574 675zM575 575zM578 398zM579 629zM580 466zM580 538zM582 624zM583 616zM583 635zM584 666zM585 635zM585 638zM586 298zM589 495zM589 633zM591 615zM592 646zM593 526zM593 597zM593 609zM594 636zM594 649zM595 595zM596 583zM597 627zM600 629zM601 419zM601 625zM604 666zM605 523zM608 539zM608 603zM608 665zM615 637zM617 615zM618 570zM619 610zM619 652zM620 728zM621 668zM621 721zM622 675zM624 295zM624 599zM624 651zM626 578zM629 631zM639 595zM640 539zM642 675zM643 676zM644 655zM646 584zM648 620zM653 601zM658 640zM671 662zM676 644zM703 470zM729 258zM763 567zM777 460zM800 685z" stroke-width="6" stroke-opacity="0.55"/>
<path d="M168 271zM172 265zM175 303zM178 283zM180 277zM184 263zM185 274zM189 237zM189 287zM189 353zM192 300zM192 328zM195 300zM196 350zM198 272zM200 272zM200 292zM200 323zM201 280zM201 291zM201 297zM202 323zM205 274zM206 296zM206 333zM206 342zM207 292zM207 300zM207 305zM208 297zM208 330zM209 223zM209 267zM209 296zM209 409zM210 261zM210 341zM211 264zM211 277zM211 288zM211 343zM212 336zM213 244zM213 295zM213 317zM214 275zM214 333zM215 292zM216 245zM216 256zM216 268zM216 356zM217 286zM217 342zM218 256zM218 280zM219 254zM219 265zM219 269zM219 315zM219 338zM220 265zM220 294zM220 298zM220 307zM221 207zM221 287zM221 311zM221 326zM221 333zM221 353zM222 309zM222 310zM222 312zM223 290zM223 331zM224 235zM224 301zM224 338zM224 339zM224 341zM224 355zM225 258zM225 291zM225 301zM225 339zM226 291zM226 361zM227 275zM227 364zM228 254zM228 265zM228 276zM228 320zM228 330zM228 333zM229 267zM229 276zM229 294zM229 302zM229 346zM229 378zM230 223zM230 247zM230 323zM230 338zM230 344zM231 265zM231 282zM231 289zM231 327zM231 339zM232 230zM232 246zM232 252zM232 278zM232 282zM232 300zM232 326zM232 387zM233 256zM233 289zM234 248zM234 259zM234 261zM234 292zM234 298zM234 303zM234 321zM234 324zM234 343zM235 328zM236 256zM236 271zM236 291zM236 307zM237 240zM237 306zM237 316zM237 361zM238 270zM238 279zM238 299zM238 313zM238 336zM239 260zM239 266zM239 292zM239 301zM239 330zM240 249zM240 263zM240 271zM240 301zM240 303zM240 319zM241 248zM241 255zM241 269zM241 287zM241 302zM241 305zM242 209zM242 265zM242 295zM242 304zM242 330zM242 362zM243 274zM243 277zM243 337zM244 235zM244 260zM244 284zM244 291zM244 321zM244 327zM244 330zM244 352zM244 383zM245 251zM245 266zM245 271zM245 279zM245 295zM245 319zM245 326zM246 316zM246 328zM246 342zM246 345zM247 221zM247 257zM247 259zM247 283zM247 285zM247 292zM247 302zM247 317zM247 323zM247 344zM248 253zM248 283zM248 291zM248 310zM248 340zM248 349zM249 283zM249 295zM249 301zM249 316zM249 328zM249 350zM250 254zM250 272zM250 276zM250 300zM250 302zM250 326zM251 265zM251 285zM251 286zM251 311zM251 333zM251 339zM251 340zM251 348zM251 350zM252 209zM252 236zM252 246zM252 282zM252 296zM252 360zM253 237zM253 250zM253 288zM253 293zM253 298zM253 322zM253 328zM253 349zM254 223zM254 256zM254 272zM254 300zM254 305zM254 311zM254 342zM254 364zM255 251zM255 288zM255 300zM255 318zM256 234zM256 281zM256 285zM257 257zM257 298zM257 300zM257 308zM258 292zM258 301zM258 307zM258 308zM258 309zM258 314zM258 317zM258 319zM258 325zM259 267zM259 272zM259 279zM259 305zM259 310zM259 313zM259 314zM259 321zM259 348zM260 253zM260 270zM260 274zM260 279zM260 302zM260 312zM260 327zM260 343zM261 235zM261 279zM261 285zM261 286zM261 325zM261 346zM262 217zM262 228zM262 276zM262 287zM262 296zM262 299zM262 311zM262 323zM262 330zM262 353zM263 292zM263 297zM263 299zM263 304zM263 334zM263 340zM264 243zM264 269zM264 271zM264 272zM264 278zM264 279zM264 281zM264 316zM264 319zM264 327zM264 342zM265 259zM265 269zM265 272zM265 276zM266 275zM266 282zM266 293zM266 295zM266 297zM266 303zM266 309zM266 321zM266 328zM266 330zM266 340zM267 277zM267 278zM267 288zM267 295zM267 303zM267 311zM267 314zM267 324zM267 334zM267 337zM268 301zM268 305zM268 321zM268 338zM268 340zM269 235zM269 276zM269 292zM269 302zM269 342zM270 266zM270 312zM270 359zM271 248zM271 261zM271 267zM271 286zM271 291zM271 293zM271 294zM271 297zM271 302zM271 320zM272 265zM272 279zM272 289zM272 290zM272 332zM272 389zM273 216zM273 263zM273 267zM273 280zM273 295zM273 304zM273 324zM273 330zM273 342zM273 374zM274 250zM274 309zM274 316zM274 317zM274 334zM275 224zM275 247zM275 264zM275 270zM275 306zM275 314zM275 319zM275 340zM275 348zM276 188zM276 240zM276 271zM276 311zM276 312zM276 325zM276 331zM276 353zM277 268zM277 290zM277 301zM277 325zM278 236zM278 266zM278 304zM278 310zM278 313zM278 355zM279 286zM279 293zM279 321zM280 218zM280 253zM280 279zM280 286zM280 298zM281 249zM281 274zM281 309zM281 330zM281 341zM281 370zM281 375zM282 267zM282 279zM282 283zM282 291zM282 294zM282 328zM282 365zM283 262zM283 282zM283 283zM283 305zM283 310zM283 312zM283 320zM283 338zM283 355zM284 283zM284 286zM284 287zM284 296zM284 304zM284 324zM284 330zM284 345zM285 274zM285 283zM285 314zM285 324zM285 326zM286 256zM286 269zM286 285zM286 298zM286 323zM286 332zM286 348zM287 279zM287 294zM287 297zM287 363zM288 249zM288 291zM288 301zM288 307zM289 241zM289 275zM289 294zM289 300zM289 313zM289 317zM289 345zM289 362zM290 237zM290 290zM290 328zM290 360zM291 253zM291 276zM291 288zM291 292zM292 266zM292 291zM292 357zM292 360zM293 294zM293 319zM294 255zM294 271zM294 298zM294 313zM295 241zM295 242zM295 260zM295 289zM295 296zM296 291zM296 299zM296 325zM296 353zM297 259zM297 273zM297 280zM297 286zM297 330zM297 341zM297 363zM298 251zM298 256zM298 276zM298 284zM299 281zM299 319zM300 253zM300 270zM300 279zM300 319zM300 328zM300 369zM301 231zM301 258zM301 313zM302 314zM303 212zM303 267zM303 274zM303 277zM303 306zM303 311zM303 313zM303 328zM304 270zM304 329zM305 269zM305 272zM305 313zM305 317zM305 321zM306 289zM306 320zM307 270zM308 278zM308 297zM308 333zM308 337zM309 277zM309 296zM310 241zM310 271zM310 275zM310 295zM310 318zM310 373zM311 315zM311 324zM312 284zM313 281zM314 273zM314 275zM314 308zM314 330zM315 257zM315 263zM315 347zM316 321zM316 332zM317 278zM317 280zM317 282zM317 322zM317 338zM318 277zM318 292zM319 300zM319 304zM320 243zM321 300zM322 303zM325 249zM326 300zM327 318zM327 324zM328 298zM329 273zM329 314zM337 265zM338 286zM341 386zM343 317zM345 309zM349 259zM351 286zM357 297zM364 277z" stroke-width="6" stroke-opacity="0.8"/>
<path d="M134 621l5-14 7-13 8-12 10-10 13-8 16-5 17-4 17 0 30 4 38 13 13 6 21 4 23 1 37 0 24 1 56 4 25 5 30 7 23 9 13 7 11 7 7 7 1 5-1 4-3 4-14 7-24 4-33 5-30 1-17 2-35 1-196 2-37-3-16-2-11-4-12-7-7-7-7-11z" fill="#ececec" stroke-width="13"/>
<path d="M151 622l3-9 7-13 7-10 7-6 11-6 13-5 13-2 13 0 28 4 49 17 26 5 23 2 37 0 23 1 56 4 19 3 29 7 18 7 14 7 4 3 1 2-2 2-5 2-24 4-18 2-47 3-85 2-143 1-36-2-18-4-8-3-8-6-5-6z" fill="#b4b4b4" stroke-width="5.5"/>
<path d="M166 620l1-5 8-12 5-6 6-4 9-5 10-3 8-1 12 0 25 3 32 12 12 5 21 4 17 3 20 1 38 0 77 5 20 4 13 4 2 2-3 2-13 1-31 3-84 2-143 1-26-1-20-3-7-2-6-4-3-3z" fill="#e0e0e0" stroke-width="5"/>
<path d="M182 616l2-4 3-5 10-6 13-4 16-1 22 3 30 11 21 10-4 2-15 2-53 0-37-3-6-2z" fill="#f4f4f4" stroke-width="4.5"/>
</g>
<ellipse cx="63.2" cy="380.8" rx="1.2" ry="1.7" fill="#c8c8c8" stroke="#231f20" stroke-width="0.55"/>
<ellipse cx="66.9" cy="380.8" rx="1.2" ry="1.7" fill="#c8c8c8" stroke="#231f20" stroke-width="0.55"/>
<ellipse cx="87" cy="381.5" rx="5.5" ry="0.9" fill="#c8c8c8" stroke="#231f20" stroke-width="0.55"/>
<ellipse cx="75.3" cy="344.8" rx="20.9" ry="12.6" transform="rotate(-31 75.3 344.8)" fill="none" stroke="#231f20" stroke-width="0.8"/>
<text x="95.2" y="335.3" font-size="8.2" >1.25</text>
<rect x="43.3" y="318.5" width="84" height="83.8" fill="none" stroke="#231f20" stroke-width="0.9"/>
<text x="38.9" y="330.2" font-size="6.9" text-anchor="end" >10<tspan dx="0.2" font-size="4.7" dy="-2.5">5</tspan><tspan dy="2.5" font-size="1">&#8203;</tspan></text>
<text x="38.9" y="349.3" font-size="6.9" text-anchor="end" >10<tspan dx="0.2" font-size="4.7" dy="-2.5">4</tspan><tspan dy="2.5" font-size="1">&#8203;</tspan></text>
<text x="38.9" y="372.2" font-size="6.9" text-anchor="end" >10<tspan dx="0.2" font-size="4.7" dy="-2.5">3</tspan><tspan dy="2.5" font-size="1">&#8203;</tspan></text>
<text x="38.7" y="386.1" font-size="6.9" text-anchor="end" >0</text>
<text x="38.9" y="401.9" font-size="6.9" text-anchor="end" >–10<tspan dx="0.2" font-size="4.7" dy="-2.5">3</tspan><tspan dy="2.5" font-size="1">&#8203;</tspan></text>
<text x="47.4" y="413.7" font-size="6.9" text-anchor="middle" >–10<tspan dx="0.2" font-size="4.7" dy="-2.5">3</tspan><tspan dy="2.5" font-size="1">&#8203;</tspan></text>
<text x="61.8" y="413.7" font-size="6.9" text-anchor="middle" >0</text>
<text x="77" y="413.7" font-size="6.9" text-anchor="middle" >10<tspan dx="0.2" font-size="4.7" dy="-2.5">3</tspan><tspan dy="2.5" font-size="1">&#8203;</tspan></text>
<text x="100.2" y="413.7" font-size="6.9" text-anchor="middle" >10<tspan dx="0.2" font-size="4.7" dy="-2.5">4</tspan><tspan dy="2.5" font-size="1">&#8203;</tspan></text>
<text x="119.4" y="413.7" font-size="6.9" text-anchor="middle" >10<tspan dx="0.2" font-size="4.7" dy="-2.5">5</tspan><tspan dy="2.5" font-size="1">&#8203;</tspan></text>
<path d="M40.9 326.8H43.3M40.9 345.9H43.3M40.9 368.8H43.3M40.9 383.5H43.3M40.9 398.5H43.3M48.6 402.3V404.7M61.8 402.3V404.7M77 402.3V404.7M100.2 402.3V404.7M119.4 402.3V404.7" stroke="#231f20" stroke-width="0.8" fill="none"/>
<path d="M41.8 361.91H43.3M41.8 357.87H43.3M41.8 355.01H43.3M41.8 352.79H43.3M41.8 350.98H43.3M41.8 349.45H43.3M41.8 348.12H43.3M41.8 346.95H43.3M41.8 340.15H43.3M41.8 336.79H43.3M41.8 334.4H43.3M41.8 332.55H43.3M41.8 331.04H43.3M41.8 329.76H43.3M41.8 328.65H43.3M41.8 327.67H43.3M41.8 376.15H43.3M41.8 391H43.3M41.8 373.8H43.3M41.8 393.4H43.3M41.8 372.03H43.3M41.8 395.2H43.3M41.8 370.71H43.3M41.8 396.55H43.3M41.8 369.68H43.3M41.8 397.6H43.3M83.98 402.3V403.8M88.07 402.3V403.8M90.97 402.3V403.8M93.22 402.3V403.8M95.05 402.3V403.8M96.61 402.3V403.8M97.95 402.3V403.8M99.14 402.3V403.8M105.98 402.3V403.8M109.36 402.3V403.8M111.76 402.3V403.8M113.62 402.3V403.8M115.14 402.3V403.8M116.43 402.3V403.8M117.54 402.3V403.8M118.52 402.3V403.8M69.4 402.3V403.8M55.2 402.3V403.8M71.83 402.3V403.8M53.09 402.3V403.8M73.66 402.3V403.8M51.5 402.3V403.8M75.02 402.3V403.8M50.32 402.3V403.8M76.09 402.3V403.8M49.39 402.3V403.8" stroke="#231f20" stroke-width="0.6" fill="none"/>
<rect x="41.3" y="381.3" width="2" height="4.4" fill="#231f20"/><rect x="59.7" y="402.3" width="4.2" height="2" fill="#231f20"/>
<g transform="translate(152.4 318.5) scale(.1)" fill="none" stroke="#231f20" stroke-linecap="round" stroke-linejoin="round">
<path d="M17 551zM23 271zM24 479zM26 637zM46 612zM49 560zM52 517zM54 467zM57 547zM60 595zM62 641zM66 449zM67 462zM68 618zM70 430zM70 489zM70 571zM74 495zM76 350zM78 506zM79 458zM80 475zM83 331zM84 393zM88 441zM95 374zM97 237zM98 338zM99 421zM104 415zM104 487zM106 515zM106 548zM106 587zM107 447zM108 432zM112 596zM114 456zM115 142zM115 508zM115 563zM117 314zM117 548zM119 471zM119 599zM121 513zM125 334zM125 462zM125 535zM126 572zM127 485zM128 587zM129 420zM130 454zM130 478zM130 600zM131 319zM131 372zM131 398zM131 510zM133 287zM133 310zM133 641zM134 451zM134 531zM135 639zM138 443zM139 393zM139 461zM139 505zM139 606zM140 458zM140 641zM143 395zM144 283zM144 288zM144 440zM144 454zM145 238zM145 408zM145 551zM145 558zM146 424zM146 444zM146 447zM146 454zM147 220zM147 463zM147 599zM148 519zM148 558zM149 508zM150 399zM150 526zM150 583zM151 315zM151 488zM152 355zM152 441zM152 563zM153 411zM153 414zM154 318zM155 424zM155 538zM156 181zM156 240zM156 359zM156 620zM158 210zM158 312zM158 582zM159 477zM159 490zM159 527zM159 557zM160 259zM160 398zM160 654zM162 290zM162 333zM162 656zM163 311zM163 357zM163 515zM164 232zM164 465zM164 474zM166 415zM167 543zM167 622zM168 471zM169 376zM170 462zM170 478zM170 518zM171 310zM171 379zM172 540zM172 614zM173 335zM173 512zM174 302zM174 344zM174 409zM174 494zM174 582zM175 386zM175 435zM175 541zM176 537zM176 542zM176 621zM177 346zM177 421zM177 429zM177 440zM178 433zM179 188zM179 317zM180 574zM181 320zM181 417zM181 511zM182 344zM182 459zM182 463zM182 512zM182 546zM182 684zM182 733zM183 471zM183 557zM184 288zM184 495zM184 563zM185 355zM185 425zM185 469zM186 254zM186 334zM186 351zM186 405zM186 443zM186 471zM186 529zM187 248zM187 278zM187 477zM187 487zM187 529zM188 203zM188 266zM188 399zM188 409zM188 486zM188 548zM189 408zM189 450zM189 459zM189 560zM190 213zM191 196zM191 370zM191 487zM191 520zM191 571zM192 328zM192 396zM193 315zM193 415zM193 489zM194 402zM194 410zM194 442zM194 462zM194 475zM195 220zM195 405zM195 420zM195 452zM195 458zM195 476zM195 561zM196 277zM196 438zM196 479zM197 135zM197 413zM197 484zM197 538zM197 553zM198 420zM198 468zM198 518zM199 317zM199 322zM200 274zM200 301zM200 304zM200 308zM200 414zM200 499zM201 451zM202 565zM202 574zM202 733zM203 243zM203 335zM203 445zM203 479zM203 500zM203 539zM203 573zM204 261zM204 372zM205 145zM205 250zM205 263zM205 452zM205 486zM205 542zM206 379zM206 419zM206 487zM206 509zM206 599zM207 374zM207 427zM207 450zM207 452zM207 496zM208 288zM208 313zM208 339zM208 356zM208 660zM209 310zM209 702zM210 459zM211 463zM211 492zM212 205zM212 240zM212 358zM212 400zM212 618zM213 297zM213 541zM214 176zM214 343zM214 375zM214 379zM214 439zM214 444zM214 551zM214 592zM215 270zM215 285zM215 306zM215 476zM215 534zM216 433zM216 467zM216 647zM217 301zM217 381zM217 454zM217 464zM217 580zM217 593zM217 626zM218 193zM218 300zM218 362zM218 371zM218 413zM218 437zM218 480zM218 497zM218 506zM218 542zM218 578zM218 642zM219 227zM219 246zM219 294zM219 303zM219 477zM219 529zM219 633zM219 636zM220 412zM220 415zM220 453zM220 456zM220 463zM220 516zM220 571zM221 128zM221 248zM221 355zM221 463zM221 475zM221 505zM222 266zM222 399zM222 520zM223 400zM223 470zM223 472zM223 485zM223 510zM223 578zM224 388zM224 472zM224 519zM225 249zM225 367zM225 434zM225 446zM225 464zM225 520zM225 541zM226 144zM226 270zM226 305zM226 309zM226 408zM226 479zM226 513zM227 333zM227 340zM227 371zM227 436zM227 446zM227 538zM228 131zM228 256zM228 260zM228 266zM228 321zM228 432zM228 446zM228 461zM229 288zM229 296zM229 509zM229 515zM230 297zM230 400zM230 522zM231 257zM231 370zM231 447zM231 543zM232 430zM232 485zM232 492zM232 533zM233 280zM233 283zM233 289zM233 305zM233 316zM233 323zM233 467zM233 490zM234 252zM234 287zM234 380zM234 468zM234 517zM234 540zM235 229zM235 300zM235 349zM235 436zM235 441zM235 566zM236 214zM236 232zM236 356zM236 393zM236 481zM237 302zM237 365zM237 463zM237 465zM237 466zM237 524zM237 558zM238 315zM238 348zM238 404zM238 409zM238 484zM238 519zM239 224zM239 358zM239 363zM239 431zM239 558zM240 272zM240 277zM240 417zM240 466zM240 472zM240 613zM241 167zM241 182zM241 193zM241 367zM241 482zM241 490zM241 508zM241 529zM242 230zM242 274zM242 341zM242 410zM242 431zM242 443zM242 497zM242 514zM243 249zM243 322zM243 350zM243 433zM243 458zM243 470zM243 503zM244 262zM244 273zM244 471zM244 480zM244 534zM245 291zM245 304zM245 349zM245 383zM245 470zM245 472zM245 514zM245 548zM246 288zM247 206zM247 281zM247 322zM247 459zM247 501zM248 289zM248 294zM248 299zM248 380zM248 500zM248 507zM248 509zM249 384zM249 397zM249 401zM249 433zM249 445zM249 453zM249 455zM249 470zM249 503zM249 515zM249 518zM250 225zM250 234zM250 256zM250 297zM250 443zM250 474zM250 557zM251 144zM251 239zM251 284zM251 311zM251 344zM251 403zM251 424zM251 429zM251 509zM251 571zM251 620zM252 362zM252 393zM252 449zM252 538zM253 275zM253 304zM253 313zM253 329zM253 410zM253 483zM253 485zM253 488zM253 503zM253 504zM253 515zM253 542zM253 653zM254 266zM254 279zM254 375zM254 464zM254 470zM254 523zM254 583zM255 275zM255 296zM255 303zM255 321zM255 469zM255 513zM255 527zM255 597zM255 619zM256 237zM256 268zM256 384zM256 458zM256 505zM257 236zM257 251zM257 281zM257 441zM257 465zM257 496zM258 237zM258 331zM258 405zM258 432zM258 488zM258 489zM258 497zM258 504zM258 518zM259 231zM259 305zM259 356zM259 395zM259 450zM259 466zM259 509zM260 217zM260 232zM260 326zM260 363zM260 422zM260 467zM260 468zM260 495zM260 568zM261 312zM261 338zM261 507zM261 606zM262 242zM262 248zM262 260zM262 313zM262 356zM262 460zM263 443zM263 461zM263 508zM263 567zM264 221zM264 311zM264 392zM264 422zM264 438zM264 513zM264 528zM265 219zM265 306zM265 327zM265 394zM265 414zM265 427zM265 440zM265 443zM265 445zM265 467zM265 515zM265 536zM266 427zM266 453zM266 471zM266 491zM266 507zM266 540zM266 553zM266 556zM267 216zM267 235zM267 257zM267 273zM267 278zM267 393zM267 458zM267 534zM267 662zM268 188zM268 246zM268 257zM268 320zM268 340zM268 482zM268 517zM268 554zM269 303zM269 343zM269 409zM269 463zM269 524zM270 230zM270 289zM270 328zM270 401zM270 446zM270 482zM270 490zM270 541zM270 573zM271 281zM271 390zM271 508zM271 530zM271 596zM272 218zM272 285zM272 390zM272 399zM272 448zM272 452zM272 541zM273 188zM273 216zM273 264zM273 292zM273 301zM273 398zM273 456zM273 479zM273 518zM273 523zM273 533zM274 192zM274 415zM274 417zM274 474zM274 490zM274 491zM274 517zM274 579zM275 290zM275 311zM275 369zM275 381zM275 407zM275 442zM275 468zM275 494zM275 510zM276 257zM276 346zM276 379zM276 423zM276 434zM276 473zM276 495zM276 516zM277 232zM277 245zM277 363zM277 420zM277 421zM277 454zM277 466zM277 482zM277 485zM277 567zM278 240zM278 270zM278 298zM278 465zM278 489zM278 490zM278 543zM279 197zM279 261zM279 367zM279 429zM279 501zM279 540zM279 556zM280 318zM280 346zM280 519zM280 569zM281 222zM281 224zM281 228zM281 232zM281 307zM281 364zM281 418zM281 431zM281 443zM281 516zM282 287zM282 308zM282 318zM282 369zM282 383zM282 391zM282 423zM282 492zM282 538zM283 218zM283 493zM283 499zM283 541zM283 543zM284 242zM284 276zM284 302zM284 330zM284 351zM284 374zM284 432zM284 459zM284 484zM284 490zM284 527zM284 531zM284 558zM284 630zM285 233zM285 237zM285 520zM286 283zM286 448zM286 473zM286 485zM286 507zM286 518zM287 259zM287 292zM287 304zM287 453zM287 464zM287 484zM287 538zM288 231zM288 259zM288 269zM288 313zM288 376zM288 435zM288 479zM288 488zM288 493zM288 549zM288 600zM289 211zM289 256zM289 477zM290 234zM290 235zM290 250zM290 287zM290 468zM290 507zM290 515zM290 575zM291 445zM291 513zM292 161zM292 173zM292 194zM292 289zM292 308zM292 517zM292 525zM292 608zM293 491zM293 632zM294 187zM294 213zM294 226zM294 264zM294 287zM294 303zM294 348zM294 472zM294 529zM294 574zM295 267zM295 300zM295 353zM295 421zM295 437zM295 451zM295 592zM295 594zM295 625zM296 221zM296 240zM296 257zM296 271zM296 385zM296 431zM296 451zM296 514zM296 521zM296 531zM296 627zM297 216zM297 386zM297 415zM297 426zM298 265zM298 267zM298 273zM298 294zM298 306zM298 455zM298 492zM298 515zM298 544zM298 607zM299 284zM299 384zM299 430zM299 434zM299 464zM299 499zM299 511zM300 307zM300 387zM300 449zM300 506zM301 149zM301 221zM301 272zM301 304zM301 309zM301 499zM301 561zM302 270zM302 348zM302 359zM302 393zM302 412zM302 443zM302 454zM302 491zM302 510zM302 519zM302 551zM302 639zM303 231zM303 251zM303 266zM303 286zM303 360zM303 375zM303 437zM303 439zM303 467zM303 504zM303 514zM303 519zM303 521zM303 535zM303 547zM304 300zM304 420zM304 458zM304 474zM304 496zM305 193zM305 209zM305 276zM305 284zM305 322zM305 500zM305 552zM306 153zM306 221zM306 295zM306 447zM306 500zM306 504zM306 508zM306 525zM306 536zM306 600zM307 358zM307 417zM307 469zM307 547zM307 595zM307 681zM308 254zM308 336zM308 445zM308 460zM308 473zM308 521zM308 539zM309 185zM309 210zM309 230zM309 240zM309 257zM309 297zM309 313zM309 438zM309 445zM310 372zM310 498zM310 520zM310 720zM311 318zM311 320zM311 444zM311 528zM311 578zM312 200zM312 228zM312 239zM312 256zM312 286zM312 300zM312 312zM312 367zM312 397zM312 398zM312 426zM312 481zM312 538zM312 603zM313 346zM313 348zM313 397zM313 410zM313 421zM313 440zM313 464zM313 510zM313 515zM313 564zM314 198zM314 262zM314 329zM314 373zM314 394zM314 425zM314 627zM315 254zM315 319zM315 511zM316 210zM316 262zM316 263zM316 285zM316 287zM316 418zM316 462zM317 257zM317 331zM318 155zM318 266zM318 275zM318 280zM318 420zM318 444zM318 473zM319 202zM319 268zM319 346zM319 464zM319 499zM320 197zM320 236zM320 254zM320 315zM320 366zM320 471zM320 485zM320 515zM321 291zM321 407zM321 487zM321 506zM321 517zM321 536zM322 221zM322 267zM322 278zM322 288zM322 317zM322 403zM322 479zM322 501zM322 579zM323 279zM323 296zM323 335zM323 427zM323 433zM323 524zM323 539zM323 550zM323 554zM323 645zM324 74zM324 134zM324 215zM324 271zM324 289zM324 312zM324 435zM324 436zM324 482zM324 498zM324 551zM324 606zM325 170zM325 194zM325 201zM325 246zM325 361zM325 506zM325 543zM325 562zM325 611zM326 204zM326 246zM326 323zM326 326zM326 356zM326 385zM326 448zM326 585zM327 206zM327 207zM327 262zM327 284zM327 467zM327 484zM327 495zM328 303zM328 308zM328 343zM328 445zM328 455zM328 464zM328 508zM328 544zM328 573zM328 593zM328 638zM329 259zM329 384zM329 446zM329 472zM329 484zM329 517zM329 574zM329 589zM330 232zM330 245zM330 284zM330 301zM330 380zM330 422zM330 552zM331 185zM331 233zM331 274zM331 289zM331 399zM331 430zM331 474zM331 512zM331 548zM331 666zM332 243zM332 260zM332 287zM332 301zM332 323zM332 381zM332 467zM332 480zM332 483zM332 521zM332 524zM332 534zM332 613zM333 309zM333 433zM333 519zM333 560zM334 433zM334 457zM334 481zM334 521zM334 591zM335 203zM335 212zM335 251zM335 289zM335 314zM335 396zM335 403zM335 474zM335 487zM335 497zM335 545zM335 555zM336 184zM336 210zM336 221zM336 268zM336 270zM336 275zM336 417zM336 428zM336 430zM336 503zM337 280zM337 326zM337 469zM337 497zM337 554zM337 564zM337 591zM338 236zM338 269zM338 271zM338 272zM338 283zM338 312zM338 489zM338 534zM338 545zM339 234zM339 237zM339 343zM339 403zM339 419zM339 422zM339 460zM339 514zM339 533zM339 561zM339 564zM339 583zM340 136zM340 231zM340 441zM340 461zM340 470zM340 477zM340 512zM340 577zM341 219zM341 224zM341 238zM341 259zM341 278zM341 352zM341 393zM341 404zM341 432zM341 445zM341 488zM341 516zM342 222zM342 394zM342 443zM342 512zM342 569zM343 298zM343 422zM343 452zM343 508zM343 522zM343 525zM344 213zM344 302zM344 501zM344 509zM344 605zM345 236zM345 351zM345 401zM345 433zM345 544zM346 208zM346 252zM346 424zM346 499zM347 266zM347 355zM347 471zM348 212zM348 446zM348 490zM348 499zM348 504zM348 508zM348 612zM349 367zM349 400zM349 430zM349 452zM349 480zM349 620zM349 662zM350 484zM350 570zM351 209zM351 321zM351 406zM351 445zM351 486zM352 381zM352 449zM352 455zM352 477zM352 499zM352 500zM352 509zM352 513zM352 514zM352 516zM352 575zM353 200zM353 225zM353 370zM353 415zM353 564zM353 595zM354 194zM354 201zM354 284zM354 305zM354 310zM354 340zM354 465zM354 503zM354 528zM354 553zM354 571zM355 299zM355 300zM355 483zM355 504zM355 544zM356 169zM356 281zM356 546zM357 215zM357 239zM357 252zM357 398zM357 416zM357 509zM357 547zM357 562zM357 573zM358 233zM358 270zM358 297zM358 471zM358 492zM358 565zM359 244zM359 292zM359 301zM360 246zM360 424zM360 473zM360 493zM360 507zM360 554zM360 586zM361 230zM361 360zM361 403zM361 474zM361 480zM361 529zM362 157zM362 199zM362 254zM362 276zM362 435zM362 506zM362 511zM362 526zM362 573zM363 193zM363 249zM363 311zM363 553zM364 198zM364 245zM364 423zM364 464zM364 490zM364 491zM364 558zM364 707zM364 718zM365 236zM365 477zM365 503zM365 512zM365 519zM365 521zM365 600zM366 379zM366 541zM367 272zM367 321zM367 393zM367 449zM368 416zM368 480zM368 491zM368 497zM368 535zM369 363zM369 393zM369 429zM369 486zM369 503zM369 607zM369 651zM370 181zM370 212zM370 461zM370 566zM371 205zM371 230zM371 263zM371 390zM371 440zM371 445zM371 452zM371 511zM371 547zM372 128zM372 233zM372 480zM372 508zM373 181zM373 253zM373 299zM373 315zM373 454zM373 500zM373 515zM374 288zM374 297zM374 303zM374 473zM374 487zM374 508zM376 255zM376 467zM376 505zM376 507zM376 544zM376 556zM376 597zM377 233zM377 411zM377 446zM378 241zM378 250zM378 435zM378 461zM378 530zM379 355zM379 374zM379 393zM379 448zM380 116zM380 258zM380 347zM380 377zM380 422zM380 513zM380 530zM380 540zM380 541zM380 578zM381 152zM381 275zM381 516zM381 535zM381 631zM382 265zM382 483zM382 583zM382 644zM383 273zM383 477zM383 502zM383 543zM384 332zM384 413zM384 472zM384 479zM384 489zM384 503zM384 591zM385 206zM385 220zM385 270zM385 275zM385 354zM385 429zM385 500zM385 543zM385 551zM386 252zM386 441zM386 444zM386 488zM386 544zM387 193zM387 196zM387 366zM387 549zM388 252zM388 355zM388 374zM388 420zM388 506zM388 531zM388 538zM388 563zM389 449zM389 489zM389 539zM389 606zM390 222zM390 392zM390 504zM390 512zM390 601zM391 186zM391 213zM391 300zM391 449zM391 466zM391 530zM391 559zM391 578zM391 649zM392 287zM392 421zM392 464zM392 488zM392 490zM392 508zM392 550zM392 582zM393 247zM393 248zM393 284zM393 403zM393 482zM393 484zM393 490zM393 540zM393 592zM394 428zM394 490zM394 499zM395 545zM395 556zM395 622zM396 269zM396 293zM396 347zM396 465zM396 478zM396 504zM396 513zM396 553zM396 578zM396 658zM397 203zM397 490zM397 527zM397 541zM398 273zM398 329zM398 447zM398 462zM398 553zM398 603zM398 642zM399 220zM399 283zM399 457zM399 468zM399 518zM399 528zM400 278zM400 440zM400 442zM400 476zM400 508zM400 527zM400 588zM401 492zM401 549zM401 594zM402 144zM402 482zM402 484zM402 502zM402 528zM402 540zM402 573zM402 591zM403 187zM403 258zM403 317zM403 464zM403 499zM403 510zM403 527zM403 528zM404 212zM404 417zM404 425zM404 454zM404 467zM404 517zM404 535zM405 282zM405 304zM405 509zM405 540zM406 188zM406 438zM406 567zM406 595zM407 151zM407 158zM407 177zM407 299zM407 581zM408 219zM408 523zM409 217zM409 441zM409 511zM410 435zM410 459zM410 473zM410 486zM410 556zM410 575zM410 599zM411 445zM411 455zM411 472zM411 476zM411 504zM411 514zM411 533zM411 623zM412 504zM412 517zM413 488zM413 539zM413 583zM414 471zM414 497zM414 590zM414 666zM415 422zM415 478zM415 508zM415 533zM415 675zM416 513zM416 525zM417 228zM417 412zM417 430zM417 437zM417 520zM418 265zM418 579zM419 257zM419 260zM419 291zM419 372zM419 486zM419 515zM419 519zM420 315zM420 497zM420 505zM420 609zM420 647zM420 678zM421 238zM421 405zM421 424zM421 448zM421 473zM421 480zM421 523zM422 451zM422 504zM422 513zM422 519zM422 577zM422 592zM423 329zM423 467zM423 505zM423 725zM424 576zM425 249zM425 529zM425 542zM425 555zM425 593zM425 668zM426 239zM426 435zM426 536zM427 246zM427 367zM427 490zM427 563zM427 593zM428 616zM429 394zM429 560zM430 426zM430 534zM430 608zM431 224zM431 272zM431 477zM431 492zM431 530zM431 553zM432 245zM432 457zM432 602zM433 238zM433 341zM433 438zM434 257zM434 267zM434 440zM434 454zM434 529zM434 547zM434 607zM435 264zM435 430zM435 500zM435 532zM435 578zM436 385zM436 526zM436 549zM437 235zM437 318zM437 492zM437 524zM437 569zM438 527zM438 544zM438 560zM439 200zM439 490zM439 555zM439 626zM440 502zM441 207zM441 275zM441 542zM442 417zM442 550zM442 585zM442 594zM443 355zM443 461zM443 468zM443 508zM443 509zM443 638zM444 375zM445 463zM445 532zM445 597zM446 477zM446 514zM446 564zM447 448zM447 551zM448 176zM448 200zM448 431zM448 544zM449 209zM449 319zM449 580zM449 586zM450 144zM450 237zM450 490zM450 529zM450 544zM450 550zM451 526zM451 527zM451 544zM452 478zM452 484zM452 560zM453 267zM453 498zM453 567zM453 581zM453 582zM453 596zM453 623zM454 366zM454 549zM455 482zM455 585zM456 227zM456 482zM456 545zM456 581zM457 575zM457 651zM458 149zM458 523zM458 671zM460 211zM460 520zM460 613zM461 618zM462 554zM463 424zM463 427zM463 487zM464 394zM464 401zM464 545zM464 550zM465 548zM466 278zM466 483zM466 529zM466 588zM466 602zM467 266zM467 547zM467 625zM468 266zM468 512zM469 519zM469 564zM469 567zM469 604zM470 173zM470 407zM470 515zM470 523zM470 602zM472 511zM473 307zM473 564zM473 612zM474 508zM474 521zM474 541zM474 565zM474 576zM474 589zM474 663zM475 565zM476 516zM477 192zM477 565zM478 497zM478 516zM478 541zM478 562zM479 482zM479 499zM479 514zM479 535zM479 564zM480 195zM480 473zM480 571zM482 285zM482 523zM483 516zM483 557zM484 530zM484 536zM484 569zM484 573zM484 642zM485 553zM485 591zM485 607zM486 494zM486 589zM486 604zM486 626zM487 459zM487 522zM488 532zM489 556zM491 579zM492 572zM494 553zM496 558zM497 542zM497 554zM497 560zM498 356zM498 502zM498 582zM498 585zM499 501zM499 558zM500 371zM500 627zM501 568zM501 608zM503 499zM503 547zM504 485zM504 709zM505 500zM505 573zM506 641zM507 574zM507 579zM507 651zM508 552zM508 562zM508 575zM510 233zM510 351zM510 577zM510 630zM511 579zM511 597zM511 626zM512 555zM512 650zM513 568zM514 535zM514 553zM514 649zM515 511zM515 605zM516 618zM517 534zM517 537zM517 553zM518 512zM518 581zM518 590zM520 538zM523 497zM523 518zM523 554zM523 578zM524 579zM524 643zM525 550zM525 554zM526 535zM526 576zM528 517zM529 551zM529 566zM530 509zM531 528zM531 543zM532 421zM533 556zM533 591zM533 643zM534 434zM534 621zM535 557zM536 427zM536 558zM536 614zM536 625zM537 572zM538 553zM539 579zM539 625zM540 539zM540 556zM542 559zM543 559zM544 566zM544 579zM545 142zM546 606zM548 589zM551 649zM556 437zM557 512zM558 569zM559 524zM561 540zM561 550zM561 685zM562 635zM564 629zM565 614zM566 513zM566 520zM566 546zM566 599zM568 544zM569 565zM570 599zM570 611zM572 284zM573 641zM574 394zM576 576zM583 590zM583 756zM584 555zM584 556zM586 504zM588 677zM592 594zM593 586zM595 497zM596 391zM596 535zM596 627zM601 575zM601 657zM612 610zM618 567zM622 537zM623 587zM625 466zM630 566zM633 525zM639 638zM645 578zM658 616zM663 623zM668 557zM690 569zM713 625zM716 789z" stroke-width="6" stroke-opacity="0.55"/>
<path d="M104 280zM119 192zM120 304zM128 324zM131 320zM132 278zM136 205zM136 313zM138 275zM145 224zM145 314zM147 265zM148 243zM149 272zM151 266zM152 268zM152 287zM152 318zM153 240zM153 278zM153 364zM154 244zM156 196zM156 274zM157 232zM157 332zM158 300zM159 224zM159 271zM160 232zM160 268zM161 135zM162 276zM162 330zM163 307zM163 324zM164 327zM164 350zM165 219zM166 270zM166 273zM166 282zM166 313zM167 277zM168 225zM168 298zM169 249zM169 284zM170 336zM171 342zM172 263zM172 279zM172 291zM172 298zM173 178zM173 230zM173 302zM173 373zM174 266zM174 267zM174 332zM175 193zM175 258zM176 226zM176 253zM176 340zM176 348zM177 293zM178 239zM178 245zM178 297zM179 347zM180 210zM180 247zM181 213zM181 281zM181 307zM181 311zM181 313zM181 347zM182 268zM182 285zM182 315zM182 346zM183 230zM183 279zM183 289zM183 319zM184 243zM184 255zM184 257zM184 262zM184 347zM185 184zM185 225zM185 250zM185 321zM186 198zM186 250zM186 265zM186 273zM186 303zM186 317zM187 240zM187 243zM187 263zM187 320zM188 189zM188 211zM189 207zM189 209zM189 235zM189 246zM189 296zM189 318zM189 366zM190 225zM190 273zM191 215zM191 242zM191 286zM191 362zM191 385zM192 246zM192 296zM192 308zM193 254zM193 290zM193 296zM193 370zM194 241zM194 309zM195 173zM195 269zM195 302zM195 327zM195 339zM196 220zM196 257zM196 260zM196 264zM196 278zM196 290zM196 297zM196 345zM196 349zM197 250zM197 286zM197 296zM197 328zM198 248zM198 250zM198 254zM198 269zM198 305zM198 311zM198 328zM199 238zM199 253zM199 284zM199 299zM199 325zM200 233zM200 280zM201 232zM201 311zM201 329zM201 360zM202 237zM202 249zM202 306zM202 335zM203 190zM203 206zM203 218zM203 227zM203 261zM203 281zM203 282zM203 283zM203 291zM203 295zM203 309zM203 314zM204 241zM204 258zM204 298zM204 310zM204 311zM204 347zM205 211zM205 231zM205 235zM205 332zM205 370zM206 231zM206 247zM206 269zM206 301zM207 190zM207 192zM207 226zM207 237zM207 253zM207 257zM207 265zM207 274zM207 276zM208 217zM208 243zM208 246zM208 273zM208 283zM208 291zM208 294zM208 415zM208 424zM209 212zM209 238zM209 240zM209 268zM209 276zM209 317zM209 320zM209 346zM210 196zM210 222zM210 260zM210 264zM210 294zM210 319zM210 365zM211 218zM211 256zM211 283zM211 294zM211 331zM211 362zM212 239zM212 253zM212 278zM212 294zM212 300zM212 317zM212 338zM212 343zM213 255zM213 264zM213 321zM213 325zM213 339zM213 360zM214 221zM214 245zM214 249zM214 259zM214 272zM214 281zM214 297zM214 368zM215 180zM215 227zM215 238zM215 288zM215 313zM215 314zM215 320zM216 240zM216 241zM216 264zM216 270zM216 273zM216 302zM216 316zM217 229zM217 272zM217 275zM217 279zM217 300zM217 305zM217 369zM217 378zM217 380zM218 219zM218 237zM218 265zM218 278zM218 287zM218 304zM218 310zM219 172zM219 202zM219 230zM219 231zM219 298zM219 307zM219 318zM219 333zM219 342zM220 201zM220 213zM220 253zM220 291zM220 293zM220 321zM220 323zM220 341zM220 344zM221 116zM221 156zM221 240zM221 264zM221 293zM221 306zM221 333zM221 335zM222 137zM222 218zM222 243zM222 269zM222 270zM222 276zM222 321zM222 323zM222 368zM223 234zM223 259zM223 261zM223 310zM223 353zM224 99zM224 232zM224 249zM224 274zM224 325zM225 190zM225 206zM225 220zM225 225zM225 231zM225 245zM225 270zM225 283zM225 290zM225 296zM225 301zM225 302zM225 307zM225 322zM225 331zM225 393zM226 188zM226 202zM226 207zM226 212zM226 258zM226 263zM226 284zM226 292zM226 303zM226 319zM226 359zM226 399zM227 224zM227 228zM227 237zM227 245zM227 256zM227 276zM227 277zM227 284zM227 291zM227 296zM227 298zM227 375zM227 380zM228 198zM228 243zM228 244zM228 258zM228 270zM228 298zM228 324zM229 200zM229 227zM229 231zM229 236zM229 243zM229 247zM229 268zM229 279zM229 283zM229 291zM229 295zM229 332zM230 221zM230 237zM230 253zM230 255zM230 265zM230 271zM230 276zM230 281zM230 293zM230 302zM230 363zM230 413zM231 219zM231 257zM231 274zM231 288zM231 294zM231 307zM231 319zM231 331zM232 220zM232 249zM232 259zM232 269zM232 280zM232 282zM232 314zM232 319zM233 217zM233 222zM233 284zM233 286zM233 292zM233 297zM233 305zM233 311zM233 320zM233 322zM233 337zM233 342zM233 358zM234 170zM234 240zM234 260zM234 264zM234 265zM234 269zM234 272zM234 304zM234 310zM235 226zM235 259zM235 268zM235 272zM235 301zM235 317zM235 331zM235 348zM235 368zM236 225zM236 272zM236 277zM236 283zM236 289zM236 302zM236 313zM236 317zM236 319zM236 330zM236 350zM236 365zM237 189zM237 203zM237 207zM237 213zM237 221zM237 246zM237 253zM237 276zM237 278zM237 299zM237 310zM238 209zM238 246zM238 258zM238 259zM238 275zM238 277zM238 285zM238 298zM238 303zM238 311zM238 313zM239 213zM239 223zM239 225zM239 230zM239 245zM239 275zM239 277zM239 307zM239 312zM239 338zM239 383zM240 219zM240 237zM240 246zM240 259zM240 296zM240 313zM240 360zM240 392zM241 163zM241 177zM241 204zM241 239zM241 254zM241 272zM241 280zM241 328zM241 338zM242 196zM242 228zM242 234zM242 236zM242 249zM242 252zM242 254zM242 262zM242 276zM242 307zM242 328zM242 348zM242 355zM243 171zM243 207zM243 225zM243 247zM243 250zM243 254zM243 258zM243 259zM243 268zM243 272zM243 279zM243 280zM243 286zM243 289zM243 292zM243 365zM244 143zM244 190zM244 208zM244 211zM244 218zM244 219zM244 227zM244 251zM244 260zM244 265zM244 272zM244 276zM244 281zM244 301zM244 310zM244 347zM245 196zM245 197zM245 230zM245 234zM245 235zM245 237zM245 257zM245 284zM245 288zM245 296zM245 313zM245 330zM245 335zM245 339zM245 348zM246 176zM246 217zM246 222zM246 236zM246 243zM246 254zM246 267zM246 276zM246 302zM246 313zM246 333zM246 347zM246 376zM246 383zM247 151zM247 178zM247 238zM247 249zM247 251zM247 269zM247 270zM247 277zM247 281zM247 292zM247 303zM247 345zM248 189zM248 211zM248 215zM248 226zM248 249zM248 264zM248 265zM248 276zM248 318zM248 323zM248 332zM248 349zM248 366zM248 410zM249 169zM249 263zM249 271zM249 276zM249 289zM249 294zM249 298zM249 304zM249 317zM249 318zM249 329zM249 343zM249 386zM250 155zM250 212zM250 247zM250 262zM250 273zM250 278zM250 306zM250 315zM250 323zM251 221zM251 239zM251 241zM251 249zM251 264zM251 272zM251 311zM251 326zM251 419zM252 229zM252 231zM252 251zM252 256zM252 265zM252 270zM252 272zM252 273zM252 283zM252 292zM252 297zM252 311zM252 313zM252 326zM252 335zM252 346zM252 360zM252 374zM253 190zM253 200zM253 218zM253 236zM253 241zM253 245zM253 246zM253 275zM253 287zM253 297zM253 304zM253 306zM253 314zM253 323zM253 385zM254 199zM254 221zM254 227zM254 234zM254 237zM254 255zM254 262zM254 271zM254 278zM254 280zM254 287zM254 290zM254 292zM254 293zM254 296zM254 298zM254 299zM254 301zM254 320zM254 334zM254 341zM254 377zM255 166zM255 183zM255 218zM255 221zM255 261zM255 262zM255 271zM255 286zM255 289zM255 297zM255 303zM255 307zM255 308zM255 370zM256 172zM256 222zM256 231zM256 246zM256 249zM256 251zM256 262zM256 270zM256 275zM256 283zM256 285zM256 339zM256 362zM256 368zM257 111zM257 187zM257 213zM257 219zM257 234zM257 251zM257 278zM257 291zM257 308zM257 332zM257 340zM257 341zM257 404zM258 199zM258 208zM258 222zM258 223zM258 224zM258 230zM258 268zM258 269zM258 271zM258 281zM258 283zM258 288zM258 299zM258 304zM258 305zM258 318zM258 358zM259 218zM259 238zM259 261zM259 264zM259 266zM259 283zM259 293zM259 318zM259 319zM259 348zM259 371zM259 374zM260 214zM260 233zM260 237zM260 238zM260 265zM260 268zM260 281zM260 287zM260 296zM260 299zM260 312zM260 322zM261 245zM261 257zM261 260zM261 262zM261 276zM261 283zM261 310zM261 321zM262 166zM262 247zM262 251zM262 273zM262 282zM262 286zM262 293zM262 311zM263 202zM263 203zM263 255zM263 288zM263 290zM263 292zM263 307zM263 313zM263 325zM264 205zM264 240zM264 258zM264 264zM264 267zM264 289zM264 292zM264 294zM264 296zM264 299zM264 335zM265 131zM265 187zM265 208zM265 214zM265 231zM265 234zM265 239zM265 262zM265 276zM265 314zM265 315zM265 348zM265 374zM265 394zM266 215zM266 256zM266 263zM266 269zM266 280zM266 305zM266 323zM266 345zM266 361zM267 181zM267 251zM267 253zM267 262zM267 268zM267 286zM267 359zM268 152zM268 258zM268 261zM268 262zM268 272zM268 276zM268 294zM268 309zM268 313zM268 314zM268 319zM268 321zM268 322zM268 329zM268 331zM268 380zM269 228zM269 230zM269 244zM269 254zM269 255zM269 271zM269 276zM269 282zM269 288zM269 306zM269 307zM269 324zM269 373zM270 212zM270 227zM270 231zM270 232zM270 255zM270 274zM270 281zM270 286zM270 308zM270 329zM271 210zM271 245zM271 248zM271 250zM271 265zM271 275zM271 287zM271 321zM272 161zM272 206zM272 224zM272 231zM272 237zM272 269zM272 273zM272 278zM272 280zM272 288zM272 299zM272 303zM272 317zM272 324zM272 327zM272 328zM272 349zM272 353zM272 361zM273 146zM273 241zM273 246zM273 247zM273 249zM273 270zM273 272zM273 274zM273 278zM273 286zM273 307zM273 314zM273 316zM273 320zM273 332zM273 346zM273 353zM273 412zM274 150zM274 159zM274 255zM274 259zM274 266zM274 294zM274 305zM274 309zM274 313zM274 328zM274 346zM275 222zM275 233zM275 245zM275 264zM275 275zM275 315zM275 319zM275 321zM275 323zM275 325zM275 326zM275 362zM276 206zM276 212zM276 232zM276 240zM276 241zM276 250zM276 256zM276 257zM276 264zM276 270zM276 281zM276 288zM276 295zM276 298zM276 309zM276 347zM276 349zM277 228zM277 234zM277 243zM277 266zM277 268zM277 279zM277 281zM277 282zM277 289zM277 290zM277 297zM277 309zM277 318zM278 155zM278 219zM278 227zM278 231zM278 235zM278 237zM278 247zM278 249zM278 252zM278 257zM278 263zM278 264zM278 272zM278 298zM278 300zM278 304zM278 306zM278 312zM278 319zM278 327zM279 179zM279 183zM279 218zM279 231zM279 234zM279 252zM279 254zM279 264zM279 270zM279 275zM279 279zM279 282zM279 283zM279 292zM279 308zM279 374zM279 395zM280 171zM280 229zM280 270zM280 284zM280 288zM280 292zM280 295zM280 296zM280 306zM280 308zM281 198zM281 237zM281 249zM281 252zM281 256zM281 267zM281 269zM281 285zM281 294zM281 301zM281 303zM281 316zM281 322zM281 331zM282 202zM282 208zM282 222zM282 228zM282 247zM282 248zM282 251zM282 261zM282 273zM282 278zM282 298zM282 305zM282 319zM283 197zM283 206zM283 214zM283 230zM283 234zM283 237zM283 245zM283 247zM283 254zM283 268zM283 273zM283 291zM283 308zM283 323zM283 328zM283 333zM283 335zM284 168zM284 248zM284 255zM284 262zM284 283zM284 285zM284 291zM284 320zM284 379zM285 181zM285 211zM285 212zM285 242zM285 254zM285 255zM285 258zM285 262zM285 280zM285 296zM285 332zM285 341zM286 202zM286 223zM286 239zM286 251zM286 258zM286 262zM286 268zM286 282zM286 301zM286 303zM286 311zM286 323zM286 330zM286 346zM287 216zM287 233zM287 237zM287 245zM287 256zM287 263zM287 265zM287 289zM287 293zM287 302zM287 306zM287 307zM287 316zM287 355zM288 173zM288 184zM288 207zM288 210zM288 223zM288 252zM288 262zM288 315zM288 328zM288 329zM289 165zM289 242zM289 267zM289 274zM289 299zM289 319zM289 321zM289 324zM290 192zM290 200zM290 233zM290 252zM290 254zM290 259zM290 277zM290 291zM290 297zM290 300zM290 308zM290 325zM290 326zM290 332zM291 182zM291 185zM291 242zM291 244zM291 265zM291 274zM291 275zM291 287zM291 289zM291 302zM291 330zM292 140zM292 179zM292 204zM292 210zM292 238zM292 255zM292 266zM292 271zM292 308zM292 328zM292 333zM293 179zM293 213zM293 225zM293 252zM293 264zM293 276zM293 302zM293 331zM294 168zM294 188zM294 219zM294 224zM294 248zM294 264zM294 268zM294 270zM294 286zM294 297zM294 308zM294 310zM294 334zM295 186zM295 228zM295 262zM295 263zM295 288zM295 290zM295 297zM295 300zM295 315zM295 384zM296 247zM296 249zM296 252zM296 258zM296 273zM296 279zM296 290zM296 319zM296 326zM296 350zM296 362zM297 241zM297 257zM297 259zM297 263zM297 264zM297 271zM297 275zM297 283zM297 318zM297 349zM297 363zM298 239zM298 242zM298 273zM298 287zM298 291zM298 299zM298 312zM299 218zM299 236zM299 243zM299 249zM299 276zM299 299zM299 302zM299 305zM299 317zM299 340zM300 291zM300 292zM300 325zM300 337zM301 149zM301 214zM301 237zM301 239zM301 244zM301 248zM301 293zM301 295zM301 309zM301 316zM301 354zM301 376zM302 236zM302 270zM302 275zM302 316zM302 326zM303 166zM303 202zM303 262zM303 280zM303 289zM303 305zM303 325zM303 343zM304 183zM304 219zM304 238zM304 250zM304 265zM304 269zM304 270zM304 292zM304 296zM304 315zM304 319zM304 334zM305 202zM305 207zM305 254zM305 263zM305 275zM305 276zM305 281zM305 287zM305 305zM305 327zM305 342zM305 360zM306 218zM306 266zM306 310zM306 330zM306 335zM307 125zM307 208zM307 209zM307 232zM307 259zM307 272zM307 292zM307 299zM307 316zM307 330zM308 218zM308 226zM308 239zM308 246zM308 252zM308 253zM308 284zM308 302zM308 306zM308 405zM309 210zM309 228zM309 244zM309 275zM309 307zM309 308zM309 321zM309 334zM310 185zM310 217zM310 255zM310 273zM310 279zM310 285zM310 306zM310 307zM310 314zM310 328zM311 131zM311 184zM311 209zM311 215zM311 221zM311 268zM311 284zM311 285zM311 289zM311 316zM311 324zM311 365zM312 199zM312 207zM312 229zM312 255zM312 264zM312 274zM312 276zM312 285zM312 375zM313 219zM313 233zM313 245zM313 272zM313 288zM313 299zM313 305zM313 306zM313 333zM313 336zM314 204zM314 258zM314 259zM314 263zM314 315zM314 370zM315 248zM315 256zM315 263zM315 276zM315 281zM315 282zM315 298zM315 304zM316 234zM316 287zM316 356zM316 368zM317 146zM317 213zM317 225zM317 226zM317 263zM317 275zM317 285zM317 289zM317 309zM317 310zM317 333zM317 335zM318 206zM318 266zM318 303zM318 331zM319 261zM319 279zM319 290zM319 296zM320 205zM320 230zM320 234zM320 251zM320 256zM320 257zM320 277zM320 279zM320 289zM320 316zM321 217zM321 234zM321 254zM321 267zM321 283zM321 314zM321 345zM321 363zM322 215zM322 244zM322 330zM322 378zM323 190zM323 269zM323 272zM323 292zM323 299zM323 314zM323 334zM324 259zM324 272zM324 277zM324 314zM324 342zM325 197zM325 210zM325 246zM325 253zM325 261zM325 269zM325 295zM325 313zM325 314zM325 315zM325 336zM326 210zM326 227zM326 233zM326 239zM326 268zM326 293zM326 309zM326 316zM326 337zM326 341zM327 246zM327 297zM327 305zM327 340zM327 343zM328 168zM328 215zM328 268zM328 280zM328 283zM328 304zM328 317zM328 348zM329 287zM329 296zM329 297zM329 299zM329 331zM329 363zM330 179zM330 243zM330 346zM331 232zM331 265zM331 267zM331 276zM331 305zM331 358zM332 200zM332 258zM332 285zM332 303zM332 332zM332 347zM333 255zM333 266zM333 286zM333 287zM333 345zM333 350zM333 358zM334 249zM334 276zM335 175zM335 213zM335 216zM335 255zM335 262zM335 280zM336 254zM336 326zM337 211zM337 225zM337 242zM337 247zM337 250zM337 257zM337 275zM337 283zM338 250zM338 252zM338 270zM338 281zM338 313zM338 326zM339 262zM339 284zM339 295zM339 358zM340 233zM340 234zM340 248zM340 249zM340 300zM340 302zM340 328zM341 237zM341 238zM341 287zM341 302zM341 312zM342 193zM342 201zM342 218zM342 244zM342 294zM342 319zM343 250zM343 264zM343 271zM343 290zM344 285zM344 310zM344 315zM345 277zM345 305zM346 196zM346 200zM346 272zM348 383zM349 172zM349 251zM349 274zM349 374zM350 281zM350 286zM351 300zM352 226zM352 263zM352 278zM352 286zM352 317zM352 333zM353 176zM353 198zM353 263zM353 275zM353 303zM354 226zM354 233zM354 295zM355 236zM355 252zM355 303zM355 364zM356 265zM356 291zM357 216zM357 220zM357 300zM358 235zM358 263zM358 271zM359 182zM359 309zM359 317zM360 319zM361 210zM361 251zM361 340zM362 204zM363 283zM364 128zM364 292zM365 179zM365 274zM365 297zM365 340zM366 256zM366 260zM366 320zM367 195zM367 315zM368 281zM368 332zM369 217zM369 262zM370 360zM371 240zM372 241zM372 268zM372 275zM373 207zM373 267zM373 334zM377 185zM377 252zM377 289zM377 303zM378 253zM378 254zM378 274zM379 227zM379 284zM379 293zM380 191zM381 317zM383 272zM383 311zM383 326zM386 207zM387 242zM391 235zM393 351zM394 300zM396 203zM396 220zM397 242zM397 257zM398 243zM399 332zM400 312zM406 253zM410 289zM411 287zM415 267z" stroke-width="6" stroke-opacity="0.8"/>
<path d="M125 644l1-6 2-7 15-23 15-18 19-18 16-13 22-12 14-4 17-2 19 1 29 5 65 12 75 17 39 11 45 17 12 5 28 17 5 5 2 5-1 3-2 3-7 5-17 7-14 3-20 3-26 3-70 2-97 0-15 1-40 0-20-1-59 0-21-3-18-4-6-4-4-3-2-3z" fill="#ececec" stroke-width="13"/>
<path d="M144 639l5-10 16-22 14-16 10-8 13-10 19-11 11-3 15-2 23 2 54 9 65 14 44 10 35 10 43 16 22 12 4 3 0 2-3 3-5 2-26 4-48 4-35 0-15 1-95 0-16 1-35 0-22-1-57 0-17-2-9-1-8-3-2-2z" fill="#b4b4b4" stroke-width="5.5"/>
<path d="M165 631l3-7 9-11 13-14 13-11 11-7 15-8 8-2 10-1 22 2 52 8 64 14 42 10 35 10 28 11 5 4-2 2-10 2-28 2-35 0-15 1-96 0-17 1-112-1-12-2-2-1z" fill="#e0e0e0" stroke-width="5"/>
<path d="M189 621l1-4 7-8 15-12 21-12 7-2 7-1 33 3 67 12 64 16 13 4 4 3-1 1-3 1-17 2-97 0-18 1-94-1-7-1z" fill="#f4f4f4" stroke-width="4.5"/>
</g>
<ellipse cx="186.1" cy="381.5" rx="10" ry="0.9" fill="#c8c8c8" stroke="#231f20" stroke-width="0.55"/>
<circle cx="178.9" cy="345.9" r="7.0" fill="#231f20"/>
<ellipse cx="179.2" cy="345.6" rx="3.6" ry="3.1" fill="#cfcfcf" transform="rotate(-30 178.9 345.9)"/>
<ellipse cx="184.4" cy="344.8" rx="20.9" ry="12.6" transform="rotate(-31 184.4 344.8)" fill="none" stroke="#231f20" stroke-width="0.8"/>
<text x="202.9" y="335.3" font-size="8.2" >3.55</text>
<rect x="152.4" y="318.5" width="84" height="83.8" fill="none" stroke="#231f20" stroke-width="0.9"/>
<text x="148" y="330.2" font-size="6.9" text-anchor="end" >10<tspan dx="0.2" font-size="4.7" dy="-2.5">5</tspan><tspan dy="2.5" font-size="1">&#8203;</tspan></text>
<text x="148" y="349.3" font-size="6.9" text-anchor="end" >10<tspan dx="0.2" font-size="4.7" dy="-2.5">4</tspan><tspan dy="2.5" font-size="1">&#8203;</tspan></text>
<text x="148" y="372.2" font-size="6.9" text-anchor="end" >10<tspan dx="0.2" font-size="4.7" dy="-2.5">3</tspan><tspan dy="2.5" font-size="1">&#8203;</tspan></text>
<text x="147.8" y="386.1" font-size="6.9" text-anchor="end" >0</text>
<text x="148" y="401.9" font-size="6.9" text-anchor="end" >–10<tspan dx="0.2" font-size="4.7" dy="-2.5">3</tspan><tspan dy="2.5" font-size="1">&#8203;</tspan></text>
<text x="156.5" y="413.7" font-size="6.9" text-anchor="middle" >–10<tspan dx="0.2" font-size="4.7" dy="-2.5">3</tspan><tspan dy="2.5" font-size="1">&#8203;</tspan></text>
<text x="170.9" y="413.7" font-size="6.9" text-anchor="middle" >0</text>
<text x="186.1" y="413.7" font-size="6.9" text-anchor="middle" >10<tspan dx="0.2" font-size="4.7" dy="-2.5">3</tspan><tspan dy="2.5" font-size="1">&#8203;</tspan></text>
<text x="209.3" y="413.7" font-size="6.9" text-anchor="middle" >10<tspan dx="0.2" font-size="4.7" dy="-2.5">4</tspan><tspan dy="2.5" font-size="1">&#8203;</tspan></text>
<text x="228.5" y="413.7" font-size="6.9" text-anchor="middle" >10<tspan dx="0.2" font-size="4.7" dy="-2.5">5</tspan><tspan dy="2.5" font-size="1">&#8203;</tspan></text>
<path d="M150 326.8H152.4M150 345.9H152.4M150 368.8H152.4M150 383.5H152.4M150 398.5H152.4M157.7 402.3V404.7M170.9 402.3V404.7M186.1 402.3V404.7M209.3 402.3V404.7M228.5 402.3V404.7" stroke="#231f20" stroke-width="0.8" fill="none"/>
<path d="M150.9 361.91H152.4M150.9 357.87H152.4M150.9 355.01H152.4M150.9 352.79H152.4M150.9 350.98H152.4M150.9 349.45H152.4M150.9 348.12H152.4M150.9 346.95H152.4M150.9 340.15H152.4M150.9 336.79H152.4M150.9 334.4H152.4M150.9 332.55H152.4M150.9 331.04H152.4M150.9 329.76H152.4M150.9 328.65H152.4M150.9 327.67H152.4M150.9 376.15H152.4M150.9 391H152.4M150.9 373.8H152.4M150.9 393.4H152.4M150.9 372.03H152.4M150.9 395.2H152.4M150.9 370.71H152.4M150.9 396.55H152.4M150.9 369.68H152.4M150.9 397.6H152.4M193.08 402.3V403.8M197.17 402.3V403.8M200.07 402.3V403.8M202.32 402.3V403.8M204.15 402.3V403.8M205.71 402.3V403.8M207.05 402.3V403.8M208.24 402.3V403.8M215.08 402.3V403.8M218.46 402.3V403.8M220.86 402.3V403.8M222.72 402.3V403.8M224.24 402.3V403.8M225.53 402.3V403.8M226.64 402.3V403.8M227.62 402.3V403.8M178.5 402.3V403.8M164.3 402.3V403.8M180.93 402.3V403.8M162.19 402.3V403.8M182.76 402.3V403.8M160.6 402.3V403.8M184.12 402.3V403.8M159.42 402.3V403.8M185.19 402.3V403.8M158.49 402.3V403.8" stroke="#231f20" stroke-width="0.6" fill="none"/>
<rect x="150.4" y="381.3" width="2" height="4.4" fill="#231f20"/><rect x="168.8" y="402.3" width="4.2" height="2" fill="#231f20"/>
<text x="8.3" y="256" font-size="8.3" text-anchor="middle" transform="rotate(-90 8.3 256)" >Control</text>
<text x="8.2" y="354.9" font-size="8.3" text-anchor="middle" transform="rotate(-90 8.2 354.9)" >B cell depleted</text>
<text x="20.2" y="401" font-size="8.3" transform="rotate(-90 20.2 401)" >CD1d-tetramer</text>
<path d="M17.8 338.5L17.8 221.6" stroke="#231f20" stroke-width="0.95" fill="none" />
<path d="M17.8 216.8L20.6 222.1L17.8 221.6L15 222.1Z" fill="#231f20"/>
<text x="42.8" y="425.9" font-size="8.3" >CD3</text>
<path d="M62 423.6L231.6 423.6" stroke="#231f20" stroke-width="0.95" fill="none" />
<path d="M236.4 423.6L231.1 426.4L231.6 423.6L231.1 420.8Z" fill="#231f20"/>
<path d="M274.8 208.75L274.8 314.85" stroke="#231f20" stroke-width="0.9" fill="none" />
<path d="M271.8 209.2L274.8 209.2" stroke="#231f20" stroke-width="0.9" fill="none" />
<text x="267.8" y="212.2" font-size="8.3" text-anchor="end" >5</text>
<path d="M271.8 230.24L274.8 230.24" stroke="#231f20" stroke-width="0.9" fill="none" />
<text x="267.8" y="233.24" font-size="8.3" text-anchor="end" >4</text>
<path d="M271.8 251.28L274.8 251.28" stroke="#231f20" stroke-width="0.9" fill="none" />
<text x="267.8" y="254.28" font-size="8.3" text-anchor="end" >3</text>
<path d="M271.8 272.32L274.8 272.32" stroke="#231f20" stroke-width="0.9" fill="none" />
<text x="267.8" y="275.32" font-size="8.3" text-anchor="end" >2</text>
<path d="M271.8 293.36L274.8 293.36" stroke="#231f20" stroke-width="0.9" fill="none" />
<text x="267.8" y="296.36" font-size="8.3" text-anchor="end" >1</text>
<path d="M271.8 314.4L274.8 314.4" stroke="#231f20" stroke-width="0.9" fill="none" />
<text x="267.8" y="317.4" font-size="8.3" text-anchor="end" >0</text>
<path d="M274.8 314.4L343.1 314.4" stroke="#231f20" stroke-width="0.9" fill="none" />
<rect x="277.6" y="290.1" width="12.1" height="24.3" fill="#231f20"/>
<path d="M283.65 290.1L283.65 288.2M280.65 288.2L286.65 288.2" stroke="#231f20" stroke-width="0.85" fill="none"/>
<path d="M283.65 314.4L283.65 317.6" stroke="#231f20" stroke-width="0.9" fill="none" />
<rect x="295.3" y="241.8" width="12" height="72.6" fill="#231f20"/>
<path d="M301.3 241.8L301.3 228.2M298.3 228.2L304.3 228.2" stroke="#231f20" stroke-width="0.85" fill="none"/>
<path d="M301.3 314.4L301.3 317.6" stroke="#231f20" stroke-width="0.9" fill="none" />
<rect x="312.1" y="292.1" width="12.1" height="22.3" fill="#231f20"/>
<path d="M318.15 292.1L318.15 289.6M315.15 289.6L321.15 289.6" stroke="#231f20" stroke-width="0.85" fill="none"/>
<path d="M318.15 314.4L318.15 317.6" stroke="#231f20" stroke-width="0.9" fill="none" />
<rect x="329.8" y="238.7" width="12.1" height="75.7" fill="#231f20"/>
<path d="M335.85 238.7L335.85 230.4M332.85 230.4L338.85 230.4" stroke="#231f20" stroke-width="0.85" fill="none"/>
<path d="M335.85 314.4L335.85 317.6" stroke="#231f20" stroke-width="0.9" fill="none" />
<text x="276.9" y="327" font-size="8.3" text-anchor="end" ><tspan font-family="Liberation Serif,serif" font-size="9.79" stroke-width="0">α</tspan>-GalCer</text>
<path d="M281.45 324.3L285.85 324.3" stroke="#231f20" stroke-width="1.0" fill="none" />
<path d="M299.3 324.3L303.3 324.3" stroke="#3a3a3a" stroke-width="0.8" fill="none" />
<path d="M301.3 322.3L301.3 326.3" stroke="#3a3a3a" stroke-width="0.8" fill="none" />
<path d="M315.95 324.3L320.35 324.3" stroke="#231f20" stroke-width="1.0" fill="none" />
<path d="M333.85 324.3L337.85 324.3" stroke="#3a3a3a" stroke-width="0.8" fill="none" />
<path d="M335.85 322.3L335.85 326.3" stroke="#3a3a3a" stroke-width="0.8" fill="none" />
<path d="M283.65 330.8L300.8 330.8" stroke="#231f20" stroke-width="0.8" fill="none" />
<path d="M318.65 330.8L335.85 330.8" stroke="#231f20" stroke-width="0.8" fill="none" />
<text x="292.68" y="340.8" font-size="8.3" text-anchor="middle" >Control</text>
<text x="327.2" y="340.8" font-size="8.3" text-anchor="middle" >B cell</text>
<text x="327.2" y="350.4" font-size="8.3" text-anchor="middle" >depleted</text>
<text x="257" y="261.7" font-size="8.3" text-anchor="middle" transform="rotate(-90 257 261.7)" >iNKT cells (%)</text>
<path d="M283.3 226.3L300.4 226.3" stroke="#231f20" stroke-width="0.8" fill="none" />
<text x="293.1" y="227.1" font-size="12.2" text-anchor="middle" font-weight="bold" stroke-width="0" letter-spacing="0.4">**</text>
<path d="M303.8 216.7L336.6 216.7" stroke="#777" stroke-width="0.8" fill="none" />
<text x="319.4" y="213" font-size="8.3" text-anchor="middle" >ns</text>
<path d="M319.4 227.6L336.6 227.6" stroke="#777" stroke-width="0.8" fill="none" />
<text x="328.8" y="227.9" font-size="12.2" text-anchor="middle" font-weight="bold" stroke-width="0" letter-spacing="0.4">**</text>
<path d="M384.3 208.75L384.3 314.85" stroke="#231f20" stroke-width="0.9" fill="none" />
<path d="M381.3 209.2L384.3 209.2" stroke="#231f20" stroke-width="0.9" fill="none" />
<text x="377.3" y="212.2" font-size="8.3" text-anchor="end" >4</text>
<path d="M381.3 235.5L384.3 235.5" stroke="#231f20" stroke-width="0.9" fill="none" />
<text x="377.3" y="238.5" font-size="8.3" text-anchor="end" >3</text>
<path d="M381.3 261.8L384.3 261.8" stroke="#231f20" stroke-width="0.9" fill="none" />
<text x="377.3" y="264.8" font-size="8.3" text-anchor="end" >2</text>
<path d="M381.3 288.1L384.3 288.1" stroke="#231f20" stroke-width="0.9" fill="none" />
<text x="377.3" y="291.1" font-size="8.3" text-anchor="end" >1</text>
<path d="M381.3 314.4L384.3 314.4" stroke="#231f20" stroke-width="0.9" fill="none" />
<text x="377.3" y="317.4" font-size="8.3" text-anchor="end" >0</text>
<path d="M384.3 314.4L453 314.4" stroke="#231f20" stroke-width="0.9" fill="none" />
<rect x="387" y="304.9" width="11.9" height="9.5" fill="#231f20"/>
<path d="M392.95 304.9L392.95 303.5M389.95 303.5L395.95 303.5" stroke="#231f20" stroke-width="0.85" fill="none"/>
<path d="M392.95 314.4L392.95 317.6" stroke="#231f20" stroke-width="0.9" fill="none" />
<rect x="404.5" y="256.1" width="12.1" height="58.3" fill="#231f20"/>
<path d="M410.55 256.1L410.55 241.1M407.55 241.1L413.55 241.1" stroke="#231f20" stroke-width="0.85" fill="none"/>
<path d="M410.55 314.4L410.55 317.6" stroke="#231f20" stroke-width="0.9" fill="none" />
<rect x="421.9" y="308.1" width="12.1" height="6.3" fill="#231f20"/>
<path d="M427.95 308.1L427.95 307.3M424.95 307.3L430.95 307.3" stroke="#231f20" stroke-width="0.85" fill="none"/>
<path d="M427.95 314.4L427.95 317.6" stroke="#231f20" stroke-width="0.9" fill="none" />
<rect x="439.6" y="255.7" width="12.2" height="58.7" fill="#231f20"/>
<path d="M445.7 255.7L445.7 237M442.7 237L448.7 237" stroke="#231f20" stroke-width="0.85" fill="none"/>
<path d="M445.7 314.4L445.7 317.6" stroke="#231f20" stroke-width="0.9" fill="none" />
<text x="384.3" y="327" font-size="8.3" text-anchor="end" ><tspan font-family="Liberation Serif,serif" font-size="9.79" stroke-width="0">α</tspan>-GalCer</text>
<path d="M390.75 324.3L395.15 324.3" stroke="#231f20" stroke-width="1.0" fill="none" />
<path d="M408.55 324.3L412.55 324.3" stroke="#3a3a3a" stroke-width="0.8" fill="none" />
<path d="M410.55 322.3L410.55 326.3" stroke="#3a3a3a" stroke-width="0.8" fill="none" />
<path d="M425.75 324.3L430.15 324.3" stroke="#231f20" stroke-width="1.0" fill="none" />
<path d="M443.7 324.3L447.7 324.3" stroke="#3a3a3a" stroke-width="0.8" fill="none" />
<path d="M445.7 322.3L445.7 326.3" stroke="#3a3a3a" stroke-width="0.8" fill="none" />
<path d="M392.95 330.8L410.05 330.8" stroke="#231f20" stroke-width="0.8" fill="none" />
<path d="M428.45 330.8L445.7 330.8" stroke="#231f20" stroke-width="0.8" fill="none" />
<text x="401.95" y="340.8" font-size="8.3" text-anchor="middle" >Control</text>
<text x="437.03" y="340.8" font-size="8.3" text-anchor="middle" >B cell</text>
<text x="437.03" y="350.4" font-size="8.3" text-anchor="middle" >depleted</text>
<text x="367.8" y="261.7" font-size="8.3" text-anchor="middle" transform="rotate(-90 367.8 261.7)" >iNKT cells (×10<tspan font-size="5.8" dy="-3">6</tspan><tspan dy="3" font-size="1">&#8203;</tspan>)</text>
<path d="M392.9 238.9L410.6 238.9" stroke="#777" stroke-width="0.8" fill="none" />
<text x="402.8" y="238.2" font-size="12.2" text-anchor="middle" font-weight="bold" stroke-width="0" letter-spacing="0.4">*</text>
<path d="M413.4 218.2L445.6 218.2" stroke="#231f20" stroke-width="0.8" fill="none" />
<text x="428.7" y="214.3" font-size="8.3" text-anchor="middle" >ns</text>
<path d="M428.1 234.8L445.6 234.8" stroke="#777" stroke-width="0.8" fill="none" />
<text x="438" y="234" font-size="12.2" text-anchor="middle" font-weight="bold" stroke-width="0" letter-spacing="0.4">*</text>
<text x="474.3" y="196.6" font-size="13.2" font-weight="bold" >d</text>
<text x="523.5" y="207.2" font-size="8.3" text-anchor="middle" >Gated on live CD19<tspan font-size="5.8" dy="-3">–</tspan><tspan dy="3" font-size="1">&#8203;</tspan></text>
<text x="523.5" y="216.6" font-size="8.3" text-anchor="middle" >CD1d-tetramer<tspan font-size="5.8" dy="-3">+</tspan><tspan dy="3" font-size="1">&#8203;</tspan>CD3<tspan font-size="5.8" dy="-3">int</tspan><tspan dy="3" font-size="1">&#8203;</tspan> cells</text>
<rect x="481.5" y="221.6" width="84.1" height="83.9" fill="none" stroke="#231f20" stroke-width="0.9"/>
<path d="M481.5 255.2L482.2 255.3L482.9 255.2L483.6 255.0L484.3 255.2L485.0 255.2L485.7 255.0L486.4 255.1L487.1 255.1L487.8 254.9L488.5 254.7L489.2 254.5L489.9 253.6L490.6 253.2L491.3 252.4L492.0 252.2L492.7 251.2L493.4 250.2L494.1 249.0L494.8 248.4L495.5 247.6L496.2 246.4L496.9 246.2L497.6 245.1L498.3 242.1L499.0 241.4L499.7 241.0L500.4 239.6L501.1 238.6L501.8 237.3L502.5 237.0L503.2 234.1L503.9 233.1L504.6 233.0L505.3 231.1L506.0 229.9L506.7 228.4L507.4 227.4L508.1 228.4L508.8 229.0L509.5 229.1L510.2 230.4L510.9 231.7L511.6 232.2L512.3 233.6L513.0 234.6L513.7 235.4L514.4 235.9L515.1 237.3L515.8 238.2L516.5 238.6L517.2 238.8L517.9 240.4L518.6 240.5L519.3 242.0L520.0 241.7L520.7 243.5L521.4 243.8L522.1 243.9L522.8 245.0L523.5 245.9L524.2 246.7L524.9 246.8L525.6 247.4L526.3 248.8L527.0 249.2L527.7 250.2L528.4 251.1L529.1 250.5L529.8 252.0L530.5 253.0L531.2 252.8L531.9 253.0L532.6 254.0L533.3 254.2L534.0 254.7L534.7 254.7L535.4 254.8L536.1 255.3L536.8 255.4L537.5 255.7L538.2 255.8L538.9 255.8L539.6 255.9L540.3 256.0L541.0 256.0L541.7 255.9L542.4 255.9L543.1 256.0L543.8 256.0L544.5 256.0L545.2 256.0L545.9 256.0L546.6 256.0L547.3 256.0L548.0 256.0L548.7 256.0L549.4 256.0L550.1 256.0L550.8 256.0L551.5 256.0L552.2 256.1L552.9 256.1L553.6 256.1L554.3 256.1L555.0 256.1L555.7 256.1L556.4 256.1L557.1 256.1L557.8 256.1L558.5 256.1L559.2 256.1L559.9 256.1L560.6 256.2L561.3 256.2L562.0 256.2L562.7 256.2L563.4 256.2L564.1 256.2L564.8 256.2L565.5 256.2" fill="none" stroke="#231f20" stroke-width="1.5" stroke-linejoin="round"/>
<path d="M481.5 272.4L482.2 272.4L482.9 272.4L483.6 272.3L484.3 272.3L485.0 272.3L485.7 272.3L486.4 272.3L487.1 272.2L487.8 272.1L488.5 272.0L489.2 271.5L489.9 270.8L490.6 269.8L491.3 269.0L492.0 267.6L492.7 266.3L493.4 264.3L494.1 262.7L494.8 260.4L495.5 258.7L496.2 256.3L496.9 254.2L497.6 252.3L498.3 250.3L499.0 249.4L499.7 248.6L500.4 246.9L501.1 247.0L501.8 248.1L502.5 250.4L503.2 252.1L503.9 254.6L504.6 256.8L505.3 258.8L506.0 260.7L506.7 262.3L507.4 264.2L508.1 265.2L508.8 266.9L509.5 268.2L510.2 269.5L510.9 269.7L511.6 270.3L512.3 271.0L513.0 271.5L513.7 271.8L514.4 272.1L515.1 272.2L515.8 272.3L516.5 272.3L517.2 272.3L517.9 272.3L518.6 272.3L519.3 272.3L520.0 272.3L520.7 272.3L521.4 272.3L522.1 272.3L522.8 272.3L523.5 272.3L524.2 272.3L524.9 272.3L525.6 272.3L526.3 272.3L527.0 272.3L527.7 272.3L528.4 272.3L529.1 272.3L529.8 272.3L530.5 272.3L531.2 272.3L531.9 272.3L532.6 272.3L533.3 272.3L534.0 272.3L534.7 272.3L535.4 272.3L536.1 272.3L536.8 272.3L537.5 272.3L538.2 272.3L538.9 272.4L539.6 272.3L540.3 272.3L541.0 272.4L541.7 272.4L542.4 272.4L543.1 272.4L543.8 272.4L544.5 272.4L545.2 272.4L545.9 272.4L546.6 272.4L547.3 272.4L548.0 272.4L548.7 272.4L549.4 272.4L550.1 272.4L550.8 272.4L551.5 272.4L552.2 272.4L552.9 272.4L553.6 272.4L554.3 272.4L555.0 272.4L555.7 272.4L556.4 272.4L557.1 272.4L557.8 272.4L558.5 272.4L559.2 272.4L559.9 272.4L560.6 272.4L561.3 272.4L562.0 272.4L562.7 272.4L563.4 272.4L564.1 272.4L564.8 272.4L565.5 272.4" fill="none" stroke="#231f20" stroke-width="0.9" stroke-linejoin="round"/>
<path d="M481.5 289.1L482.2 288.8L482.9 289.0L483.6 288.9L484.3 288.9L485.0 288.9L485.7 288.8L486.4 288.9L487.1 288.9L487.8 289.2L488.5 288.9L489.2 288.9L489.9 288.9L490.6 288.8L491.3 288.8L492.0 288.8L492.7 288.9L493.4 288.8L494.1 288.9L494.8 288.8L495.5 288.8L496.2 288.9L496.9 288.7L497.6 288.3L498.3 288.1L499.0 287.9L499.7 287.9L500.4 286.9L501.1 286.4L501.8 286.4L502.5 284.9L503.2 284.6L503.9 284.5L504.6 283.6L505.3 282.4L506.0 281.8L506.7 278.9L507.4 279.8L508.1 277.6L508.8 276.1L509.5 276.0L510.2 275.0L510.9 273.3L511.6 271.8L512.3 271.2L513.0 269.9L513.7 269.4L514.4 267.8L515.1 266.3L515.8 265.5L516.5 263.8L517.2 262.4L517.9 262.4L518.6 261.9L519.3 261.4L520.0 261.3L520.7 262.2L521.4 261.2L522.1 263.2L522.8 263.4L523.5 262.5L524.2 263.7L524.9 263.5L525.6 264.9L526.3 264.2L527.0 265.7L527.7 267.4L528.4 268.8L529.1 268.3L529.8 270.6L530.5 272.6L531.2 273.9L531.9 276.7L532.6 277.1L533.3 279.4L534.0 280.1L534.7 282.5L535.4 282.9L536.1 283.7L536.8 283.9L537.5 286.3L538.2 286.5L538.9 287.1L539.6 287.6L540.3 287.8L541.0 288.0L541.7 288.4L542.4 288.8L543.1 289.2L543.8 289.1L544.5 289.3L545.2 289.3L545.9 289.3L546.6 289.4L547.3 289.3L548.0 289.3L548.7 289.4L549.4 289.4L550.1 289.4L550.8 289.4L551.5 289.4L552.2 289.4L552.9 289.4L553.6 289.5L554.3 289.4L555.0 289.5L555.7 289.5L556.4 289.5L557.1 289.5L557.8 289.5L558.5 289.5L559.2 289.5L559.9 289.5L560.6 289.5L561.3 289.5L562.0 289.6L562.7 289.6L563.4 289.6L564.1 289.6L564.8 289.6L565.5 289.6" fill="none" stroke="#231f20" stroke-width="1.5" stroke-linejoin="round"/>
<path d="M481.5 305.3L482.2 305.3L482.9 305.3L483.6 305.2L484.3 305.2L485.0 305.2L485.7 305.2L486.4 305.2L487.1 305.1L487.8 305.1L488.5 305.1L489.2 305.1L489.9 305.1L490.6 305.1L491.3 305.0L492.0 305.0L492.7 304.7L493.4 304.4L494.1 303.8L494.8 303.0L495.5 302.2L496.2 301.2L496.9 300.4L497.6 298.9L498.3 297.9L499.0 295.1L499.7 293.6L500.4 291.3L501.1 289.8L501.8 287.1L502.5 286.1L503.2 285.1L503.9 283.7L504.6 283.8L505.3 283.1L506.0 283.3L506.7 283.7L507.4 283.8L508.1 284.7L508.8 285.8L509.5 287.1L510.2 288.3L510.9 289.1L511.6 290.5L512.3 291.8L513.0 293.3L513.7 294.7L514.4 295.9L515.1 297.6L515.8 297.6L516.5 298.4L517.2 299.3L517.9 299.5L518.6 300.3L519.3 301.0L520.0 301.7L520.7 301.7L521.4 302.8L522.1 302.9L522.8 303.4L523.5 303.8L524.2 304.1L524.9 304.4L525.6 304.5L526.3 304.7L527.0 304.8L527.7 304.9L528.4 305.0L529.1 305.1L529.8 305.1L530.5 305.2L531.2 305.2L531.9 305.2L532.6 305.2L533.3 305.2L534.0 305.2L534.7 305.2L535.4 305.2L536.1 305.2L536.8 305.2L537.5 305.2L538.2 305.2L538.9 305.2L539.6 305.2L540.3 305.2L541.0 305.2L541.7 305.2L542.4 305.2L543.1 305.2L543.8 305.2L544.5 305.2L545.2 305.2L545.9 305.2L546.6 305.2L547.3 305.3L548.0 305.3L548.7 305.3L549.4 305.3L550.1 305.3L550.8 305.3L551.5 305.3L552.2 305.3L552.9 305.3L553.6 305.3L554.3 305.3L555.0 305.3L555.7 305.3L556.4 305.3L557.1 305.3L557.8 305.3L558.5 305.3L559.2 305.3L559.9 305.3L560.6 305.3L561.3 305.3L562.0 305.3L562.7 305.3L563.4 305.3L564.1 305.3L564.8 305.3L565.5 305.3" fill="none" stroke="#231f20" stroke-width="0.9" stroke-linejoin="round"/>
<text x="563.6" y="252.4" font-size="6.2" text-anchor="end" fill="#3a3a3a" stroke-width="0.08" stroke="#3a3a3a">B cell depleted - <tspan font-family="Liberation Serif,serif" font-size="7.32" stroke-width="0">α</tspan>-GalCer</text>
<text x="563.6" y="269.6" font-size="6.2" text-anchor="end" fill="#3a3a3a" stroke-width="0.08" stroke="#3a3a3a">B cell depleted - vehicle</text>
<text x="563.6" y="285.6" font-size="6.2" text-anchor="end" fill="#3a3a3a" stroke-width="0.08" stroke="#3a3a3a">Control - <tspan font-family="Liberation Serif,serif" font-size="7.32" stroke-width="0">α</tspan>-GalCer</text>
<text x="563.6" y="302.2" font-size="6.2" text-anchor="end" fill="#3a3a3a" stroke-width="0.08" stroke="#3a3a3a">Control - vehicle</text>
<path d="M495.8 305.5V307.9M537.6 305.5V307.9" stroke="#231f20" stroke-width="0.7" fill="none"/>
<path d="M545.85 305.5V306.8M550.67 305.5V306.8M554.1 305.5V306.8M556.75 305.5V306.8M558.92 305.5V306.8M560.76 305.5V306.8M562.34 305.5V306.8M563.75 305.5V306.8M514.61 305.5V306.8M489.59 305.5V306.8M521.72 305.5V306.8M487.25 305.5V306.8M527.15 305.5V306.8M485.45 305.5V306.8M531.33 305.5V306.8M484.08 305.5V306.8M534.67 305.5V306.8M482.97 305.5V306.8M494 305.5V307.3M494.9 305.5V307.3M496.7 305.5V307.3M497.6 305.5V307.3" stroke="#231f20" stroke-width="0.6" fill="none"/>
<text x="495.8" y="317.6" font-size="8.3" text-anchor="middle" >0</text>
<rect x="494.2" y="305.5" width="3.2" height="1.9" fill="#231f20"/>
<text x="539" y="317.6" font-size="8.3" text-anchor="middle" >10<tspan font-size="5.6" dy="-3">3</tspan><tspan dy="3" font-size="1">&#8203;</tspan></text>
<text x="476.8" y="328.1" font-size="8.3" >PLZF</text>
<path d="M500.5 325.7L560 325.7" stroke="#231f20" stroke-width="0.95" fill="none" />
<path d="M564.8 325.7L559.5 328.5L560 325.7L559.5 322.9Z" fill="#231f20"/>
<path d="M614.4 208.05L614.4 314.35" stroke="#231f20" stroke-width="0.9" fill="none" />
<path d="M611.4 208.5L614.4 208.5" stroke="#231f20" stroke-width="0.9" fill="none" />
<text x="607.4" y="211.5" font-size="8.3" text-anchor="end" >500</text>
<path d="M611.4 229.58L614.4 229.58" stroke="#231f20" stroke-width="0.9" fill="none" />
<text x="607.4" y="232.58" font-size="8.3" text-anchor="end" >400</text>
<path d="M611.4 250.66L614.4 250.66" stroke="#231f20" stroke-width="0.9" fill="none" />
<text x="607.4" y="253.66" font-size="8.3" text-anchor="end" >300</text>
<path d="M611.4 271.74L614.4 271.74" stroke="#231f20" stroke-width="0.9" fill="none" />
<text x="607.4" y="274.74" font-size="8.3" text-anchor="end" >200</text>
<path d="M611.4 292.82L614.4 292.82" stroke="#231f20" stroke-width="0.9" fill="none" />
<text x="607.4" y="295.82" font-size="8.3" text-anchor="end" >100</text>
<path d="M611.4 313.9L614.4 313.9" stroke="#231f20" stroke-width="0.9" fill="none" />
<text x="607.4" y="316.9" font-size="8.3" text-anchor="end" >0</text>
<path d="M614.4 313.9L682.8 313.9" stroke="#231f20" stroke-width="0.9" fill="none" />
<rect x="617.3" y="291.8" width="12.1" height="22.1" fill="#231f20"/>
<path d="M623.35 291.8L623.35 290.1M620.35 290.1L626.35 290.1" stroke="#231f20" stroke-width="0.85" fill="none"/>
<path d="M623.35 313.9L623.35 317.1" stroke="#231f20" stroke-width="0.9" fill="none" />
<rect x="635" y="243" width="12" height="70.9" fill="#231f20"/>
<path d="M641 243L641 229M638 229L644 229" stroke="#231f20" stroke-width="0.85" fill="none"/>
<path d="M641 313.9L641 317.1" stroke="#231f20" stroke-width="0.9" fill="none" />
<rect x="652.5" y="304.2" width="12.1" height="9.7" fill="#231f20"/>
<path d="M658.55 304.2L658.55 303.5M655.55 303.5L661.55 303.5" stroke="#231f20" stroke-width="0.85" fill="none"/>
<path d="M658.55 313.9L658.55 317.1" stroke="#231f20" stroke-width="0.9" fill="none" />
<rect x="670" y="289.2" width="12.1" height="24.7" fill="#231f20"/>
<path d="M676.05 289.2L676.05 287.2M673.05 287.2L679.05 287.2" stroke="#231f20" stroke-width="0.85" fill="none"/>
<path d="M676.05 313.9L676.05 317.1" stroke="#231f20" stroke-width="0.9" fill="none" />
<text x="614.9" y="328.9" font-size="8.3" text-anchor="end" ><tspan font-family="Liberation Serif,serif" font-size="9.79" stroke-width="0">α</tspan>-GalCer</text>
<path d="M621.15 326.2L625.55 326.2" stroke="#231f20" stroke-width="1.0" fill="none" />
<path d="M639 326.2L643 326.2" stroke="#3a3a3a" stroke-width="0.8" fill="none" />
<path d="M641 324.2L641 328.2" stroke="#3a3a3a" stroke-width="0.8" fill="none" />
<path d="M656.35 326.2L660.75 326.2" stroke="#231f20" stroke-width="1.0" fill="none" />
<path d="M674.05 326.2L678.05 326.2" stroke="#3a3a3a" stroke-width="0.8" fill="none" />
<path d="M676.05 324.2L676.05 328.2" stroke="#3a3a3a" stroke-width="0.8" fill="none" />
<path d="M623.35 332.7L640.5 332.7" stroke="#231f20" stroke-width="0.8" fill="none" />
<path d="M659.05 332.7L676.05 332.7" stroke="#231f20" stroke-width="0.8" fill="none" />
<text x="632.38" y="341.4" font-size="8.3" text-anchor="middle" >Control</text>
<text x="667.5" y="341.4" font-size="8.3" text-anchor="middle" >B cell</text>
<text x="667.5" y="351" font-size="8.3" text-anchor="middle" >depleted</text>
<text x="588.7" y="261" font-size="8.3" text-anchor="middle" transform="rotate(-90 588.7 261)" >PLZF (MFI)</text>
<path d="M623.2 226.4L640.6 226.4" stroke="#231f20" stroke-width="0.8" fill="none" />
<text x="632.5" y="225.9" font-size="12.2" text-anchor="middle" font-weight="bold" stroke-width="0" letter-spacing="0.4">**</text>
<path d="M643.5 220.5L679.1 220.5" stroke="#231f20" stroke-width="0.8" fill="none" />
<text x="662.8" y="219.8" font-size="12.2" text-anchor="middle" font-weight="bold" stroke-width="0" letter-spacing="0.4">**</text>
<path d="M658.5 283L676.9 283" stroke="#777" stroke-width="0.8" fill="none" />
<text x="667.4" y="279.4" font-size="8.3" text-anchor="middle" >ns</text>
<text x="0.6" y="452.5" font-size="13.2" font-weight="bold" >e</text>
<text x="95.6" y="454.7" font-size="8.3" >Gated on live CD19<tspan font-size="5.8" dy="-3">–</tspan><tspan dy="3" font-size="1">&#8203;</tspan>CD1d-tetramer<tspan font-size="5.8" dy="-3">+</tspan><tspan dy="3" font-size="1">&#8203;</tspan>CD3<tspan font-size="5.8" dy="-3">int</tspan><tspan dy="3" font-size="1">&#8203;</tspan> cells</text>
<path d="M28.6 460.1L336.5 460.1" stroke="#555" stroke-width="0.9" fill="none" />
<text x="69.6" y="470.6" font-size="8.3" text-anchor="middle" >FMO</text>
<text x="196.8" y="469.8" font-size="8.3" text-anchor="middle" >Vehicle</text>
<text x="307.6" y="469.8" font-size="8.3" text-anchor="middle" ><tspan font-family="Liberation Serif,serif" font-size="9.79" stroke-width="0">α</tspan>-GalCer</text>
<g transform="translate(28.4 473.9) scale(.1)"><path d="M345 499l21-8 18-4 21-1 18 1 21 4 18 7 18 10 14 11 13 15 9 15 5 15 3 18-1 15-5 18-8 15-12 15-18 15-24 13-24 7-24 2-27-2-24-6-24-12-18-14-15-18-10-21-4-21 2-21 8-21 11-18 17-16zM324 531l12-10 15-10 15-6 21-5 18-1 18 1 15 3 18 7 15 8 12 10 10 12 9 15 5 15 1 15-2 15-5 15-9 15-15 15-18 12-21 8-21 4-21 0-21-3-21-8-18-11-15-14-10-15-7-18-2-18 3-18 8-18zM339 532l12-9 15-7 15-5 15-2 18 0 15 2 15 5 12 5 12 8 11 11 9 12 5 12 3 15 0 12-3 12-5 12-11 15-12 11-15 9-18 6-18 3-21 0-21-4-18-8-15-11-12-13-8-14-5-18 0-15 5-18 9-15zM341 543l10-9 12-7 12-5 15-4 12-1 15 1 15 3 12 4 12 7 10 8 8 9 7 12 4 12 1 12-2 12-4 12-7 12-13 12-13 8-15 6-15 3-18 1-18-3-15-5-15-9-11-10-9-12-5-15-2-15 2-12 6-15zM351 544l9-7 12-7 12-4 12-2 12 0 12 1 12 3 12 5 10 7 10 9 6 9 5 9 2 9 0 12-2 12-4 9-9 12-9 8-12 7-15 6-15 2-15 0-15-3-15-6-12-8-11-12-7-12-3-12 0-12 2-12 7-12zM359 546l8-6 11-5 21-5 12 0 12 2 12 4 9 5 9 7 7 7 5 9 4 9 1 9-1 9-2 9-4 9-8 9-11 9-12 6-12 3-12 2-15-1-15-4-12-6-11-9-8-9-4-9-3-12 1-12 4-12 5-9zM371 546l16-7 9-2 12 0 18 3 9 4 9 5 11 12 6 15 1 9-1 9-7 15-9 9-9 6-10 4-12 3-15 0-12-2-12-5-9-5-7-7-6-9-4-9-1-12 2-12 5-9 8-9zM375 551l15-6 18-2 15 3 15 7 10 11 4 6 2 9-1 15-6 12-6 6-9 7-9 3-12 3-12 0-9-2-9-3-9-5-7-6-6-9-3-9-1-9 2-9 5-9 4-6zM390 551l15-2 15 2 13 7 9 9 5 12-1 12-5 11-9 9-15 7-9 1-9 0-9-2-9-4-6-4-6-7-3-5-3-9 0-9 2-6 4-7 6-7 6-4zM375 570l9-9 9-4 12-1 12 1 9 4 9 9 4 9-1 12-6 11-12 8-12 2-15-1-12-7-8-10-2-12 1-6zM383 573l7-6 9-3 9-1 9 3 7 4 4 6 2 6-1 9-6 8-9 5-9 1-11-2-7-4-6-8-1-9zM390 579l3-4 6-3 6-1 6 1 6 3 3 4 1 3-1 6-3 5-6 3-6 1-6-1-6-3-3-4-1-4z" fill="none" stroke="#333" stroke-width="4.6" stroke-opacity="0.9"/></g>
<rect x="51.7" y="478.5" width="34.8" height="40.8" fill="none" stroke="#231f20" stroke-width="0.8"/>
<text x="55.3" y="486.8" font-size="8.2" >0</text>
<rect x="28.4" y="473.9" width="84.4" height="83.5" fill="none" stroke="#231f20" stroke-width="0.9"/>
<text x="22.6" y="483.5" font-size="6.4" text-anchor="end" >10<tspan dx="0.2" font-size="4.3" dy="-2.5">6</tspan><tspan dy="2.5" font-size="1">&#8203;</tspan></text>
<text x="22.6" y="498.4" font-size="6.4" text-anchor="end" >10<tspan dx="0.2" font-size="4.3" dy="-2.5">5</tspan><tspan dy="2.5" font-size="1">&#8203;</tspan></text>
<text x="22.6" y="513.8" font-size="6.4" text-anchor="end" >10<tspan dx="0.2" font-size="4.3" dy="-2.5">4</tspan><tspan dy="2.5" font-size="1">&#8203;</tspan></text>
<text x="22.6" y="529.2" font-size="6.4" text-anchor="end" >10<tspan dx="0.2" font-size="4.3" dy="-2.5">3</tspan><tspan dy="2.5" font-size="1">&#8203;</tspan></text>
<text x="22.4" y="549.3" font-size="6.4" text-anchor="end" >0</text>
<text x="32" y="569.1" font-size="6.4" text-anchor="middle" >–10<tspan dx="0.2" font-size="4.3" dy="-2.5">3</tspan><tspan dy="2.5" font-size="1">&#8203;</tspan></text>
<text x="47.1" y="569.1" font-size="6.4" text-anchor="middle" >0</text>
<text x="61.9" y="569.1" font-size="6.4" text-anchor="middle" >10<tspan dx="0.2" font-size="4.3" dy="-2.5">3</tspan><tspan dy="2.5" font-size="1">&#8203;</tspan></text>
<text x="83.5" y="569.1" font-size="6.4" text-anchor="middle" >10<tspan dx="0.2" font-size="4.3" dy="-2.5">4</tspan><tspan dy="2.5" font-size="1">&#8203;</tspan></text>
<text x="105.1" y="569.1" font-size="6.4" text-anchor="middle" >10<tspan dx="0.2" font-size="4.3" dy="-2.5">5</tspan><tspan dy="2.5" font-size="1">&#8203;</tspan></text>
<path d="M26 480.5H28.4M26 495.4H28.4M26 510.8H28.4M26 526.2H28.4M26 546.7H28.4M32.9 557.4V559.8M47.5 557.4V559.8M61.9 557.4V559.8M84.8 557.4V559.8M105.5 557.4V559.8" stroke="#231f20" stroke-width="0.8" fill="none"/>
<path d="M26.9 521.56H28.4M26.9 518.85H28.4M26.9 516.93H28.4M26.9 515.44H28.4M26.9 514.22H28.4M26.9 513.19H28.4M26.9 512.29H28.4M26.9 511.5H28.4M26.9 506.16H28.4M26.9 503.45H28.4M26.9 501.53H28.4M26.9 500.04H28.4M26.9 498.82H28.4M26.9 497.79H28.4M26.9 496.89H28.4M26.9 496.1H28.4M26.9 490.91H28.4M26.9 488.29H28.4M26.9 486.43H28.4M26.9 484.99H28.4M26.9 483.81H28.4M26.9 482.81H28.4M26.9 481.94H28.4M26.9 481.18H28.4M26.9 536.45H28.4M26.9 533.17H28.4M26.9 530.71H28.4M26.9 528.87H28.4M26.9 527.43H28.4M68.79 557.4V558.9M72.83 557.4V558.9M75.69 557.4V558.9M77.91 557.4V558.9M79.72 557.4V558.9M81.25 557.4V558.9M82.58 557.4V558.9M83.75 557.4V558.9M91.03 557.4V558.9M94.68 557.4V558.9M97.26 557.4V558.9M99.27 557.4V558.9M100.91 557.4V558.9M102.29 557.4V558.9M103.49 557.4V558.9M104.55 557.4V558.9M54.7 557.4V558.9M40.2 557.4V558.9M57 557.4V558.9M37.86 557.4V558.9M58.73 557.4V558.9M36.11 557.4V558.9M60.03 557.4V558.9M34.8 557.4V558.9M61.04 557.4V558.9M33.78 557.4V558.9" stroke="#231f20" stroke-width="0.6" fill="none"/>
<rect x="27" y="542.2" width="1.4" height="9" fill="#231f20"/><rect x="45.3" y="557.4" width="4.4" height="1.8" fill="#231f20"/>
<g transform="translate(156 473.9) scale(.1)"><path d="M355 349l12 1 12 7 9 12 24 40 9 12 10 8 35 20 18 16 10 12 9 15 6 15 3 12 3 21-3 24-7 21-10 18-14 17-18 15-21 11-21 6-24 3-24-2-21-6-21-11-18-14-14-16-12-21-7-21-2-15 0-15 2-15 4-15 6-15 17-32 6-13 12-42 6-27 4-9 8-11 6-4zM355 359l9 0 6 3 4 4 6 9 11 26 12 21 9 11 10 8 35 20 17 16 8 9 7 12 7 21 3 18-2 21-5 18-9 18-12 15-14 12-18 10-18 6-21 3-21-1-18-5-18-8-15-11-15-15-11-18-6-18-3-24 1-12 3-15 5-15 17-33 6-16 12-44 2-24 2-9 6-9zM355 367l6 0 5 2 3 3 4 9 2 21 24 36 13 11 33 18 16 13 8 9 8 12 8 21 2 18-1 15-5 18-8 15-10 12-14 12-13 8-18 6-18 2-18-1-18-4-15-7-15-11-12-13-10-16-5-15-2-21 2-21 7-18 18-39 17-51 1-9-3-15-1-6 3-9zM364 428l3-1 6 2 25 24 38 20 12 8 15 17 6 9 5 12 3 15 0 15-4 15-5 12-8 13-11 11-13 9-15 6-18 3-15 0-15-3-15-5-15-10-11-12-8-12-6-15-3-12 0-12 1-12 4-12 34-75 4-6zM367 453l6 0 6 2 45 21 12 7 9 7 8 8 6 9 6 12 3 12 0 15-2 12-4 12-7 12-10 10-12 9-12 5-15 4-15 0-15-2-12-5-12-7-9-8-10-12-5-12-4-12-1-12 1-12 4-15 9-18 15-26 9-12zM367 471l9-3 9 2 21 6 18 8 9 5 10 9 7 9 6 9 4 12 1 12-1 12-4 12-6 12-8 9-9 7-9 5-12 4-12 2-15-1-12-3-12-5-11-9-8-9-6-12-4-12-1-12 1-12 3-12 5-12 9-15 9-11zM370 483l9-3 9 0 15 4 15 5 9 5 9 8 7 8 5 9 4 9 1 12-1 12-3 9-4 9-8 9-7 6-9 5-9 4-12 2-12-1-12-3-9-4-9-6-9-9-5-9-3-9-2-12 0-9 2-12 5-12 7-12 8-9zM373 492l9-2 9-1 9 2 12 4 9 4 9 7 6 7 6 9 3 9 1 9-1 9-3 9-4 9-5 6-7 6-8 5-9 3-9 2-12-1-9-2-9-4-8-6-6-6-5-9-4-9-1-9 0-9 3-12 4-9 6-9 5-6zM379 500l15-2 9 1 9 4 8 4 7 6 8 12 3 15-2 15-9 14-12 8-15 4-9 0-9-2-7-3-8-5-10-13-4-15 1-9 2-9 8-15 7-6zM379 509l12-3 15 2 12 7 8 10 4 12-1 12-6 12-11 9-12 4-15-2-12-6-8-11-4-12 2-15 7-12zM382 518l9-3 10 1 8 3 9 9 3 9 0 9-4 9-7 6-10 4-9 0-9-4-7-6-4-9 0-12 4-9zM388 526l6-2 6 1 6 3 5 6 1 6-1 6-4 6-4 3-6 1-6 0-6-3-3-4-3-6 0-6 3-6z" fill="none" stroke="#333" stroke-width="4.6" stroke-opacity="0.9"/></g>
<rect x="179.3" y="478.5" width="34.8" height="40.8" fill="none" stroke="#231f20" stroke-width="0.8"/>
<text x="182.9" y="486.8" font-size="8.2" >15.6</text>
<rect x="156" y="473.9" width="84.4" height="83.5" fill="none" stroke="#231f20" stroke-width="0.9"/>
<text x="150.2" y="483.5" font-size="6.4" text-anchor="end" >10<tspan dx="0.2" font-size="4.3" dy="-2.5">6</tspan><tspan dy="2.5" font-size="1">&#8203;</tspan></text>
<text x="150.2" y="498.4" font-size="6.4" text-anchor="end" >10<tspan dx="0.2" font-size="4.3" dy="-2.5">5</tspan><tspan dy="2.5" font-size="1">&#8203;</tspan></text>
<text x="150.2" y="513.8" font-size="6.4" text-anchor="end" >10<tspan dx="0.2" font-size="4.3" dy="-2.5">4</tspan><tspan dy="2.5" font-size="1">&#8203;</tspan></text>
<text x="150.2" y="529.2" font-size="6.4" text-anchor="end" >10<tspan dx="0.2" font-size="4.3" dy="-2.5">3</tspan><tspan dy="2.5" font-size="1">&#8203;</tspan></text>
<text x="150" y="549.3" font-size="6.4" text-anchor="end" >0</text>
<text x="159.6" y="569.1" font-size="6.4" text-anchor="middle" >–10<tspan dx="0.2" font-size="4.3" dy="-2.5">3</tspan><tspan dy="2.5" font-size="1">&#8203;</tspan></text>
<text x="174.7" y="569.1" font-size="6.4" text-anchor="middle" >0</text>
<text x="189.5" y="569.1" font-size="6.4" text-anchor="middle" >10<tspan dx="0.2" font-size="4.3" dy="-2.5">3</tspan><tspan dy="2.5" font-size="1">&#8203;</tspan></text>
<text x="211.1" y="569.1" font-size="6.4" text-anchor="middle" >10<tspan dx="0.2" font-size="4.3" dy="-2.5">4</tspan><tspan dy="2.5" font-size="1">&#8203;</tspan></text>
<text x="232.7" y="569.1" font-size="6.4" text-anchor="middle" >10<tspan dx="0.2" font-size="4.3" dy="-2.5">5</tspan><tspan dy="2.5" font-size="1">&#8203;</tspan></text>
<path d="M153.6 480.5H156M153.6 495.4H156M153.6 510.8H156M153.6 526.2H156M153.6 546.7H156M160.5 557.4V559.8M175.1 557.4V559.8M189.5 557.4V559.8M212.4 557.4V559.8M233.1 557.4V559.8" stroke="#231f20" stroke-width="0.8" fill="none"/>
<path d="M154.5 521.56H156M154.5 518.85H156M154.5 516.93H156M154.5 515.44H156M154.5 514.22H156M154.5 513.19H156M154.5 512.29H156M154.5 511.5H156M154.5 506.16H156M154.5 503.45H156M154.5 501.53H156M154.5 500.04H156M154.5 498.82H156M154.5 497.79H156M154.5 496.89H156M154.5 496.1H156M154.5 490.91H156M154.5 488.29H156M154.5 486.43H156M154.5 484.99H156M154.5 483.81H156M154.5 482.81H156M154.5 481.94H156M154.5 481.18H156M154.5 536.45H156M154.5 533.17H156M154.5 530.71H156M154.5 528.87H156M154.5 527.43H156M196.39 557.4V558.9M200.43 557.4V558.9M203.29 557.4V558.9M205.51 557.4V558.9M207.32 557.4V558.9M208.85 557.4V558.9M210.18 557.4V558.9M211.35 557.4V558.9M218.63 557.4V558.9M222.28 557.4V558.9M224.86 557.4V558.9M226.87 557.4V558.9M228.51 557.4V558.9M229.89 557.4V558.9M231.09 557.4V558.9M232.15 557.4V558.9M182.3 557.4V558.9M167.8 557.4V558.9M184.6 557.4V558.9M165.46 557.4V558.9M186.33 557.4V558.9M163.71 557.4V558.9M187.63 557.4V558.9M162.4 557.4V558.9M188.64 557.4V558.9M161.38 557.4V558.9" stroke="#231f20" stroke-width="0.6" fill="none"/>
<rect x="154.6" y="542.2" width="1.4" height="9" fill="#231f20"/><rect x="172.9" y="557.4" width="4.4" height="1.8" fill="#231f20"/>
<g transform="translate(156 573.4) scale(.1)"><path d="M373 390l21-2 21 3 21 8 15 11 8 9 5 9 14 33 25 39 9 21 2 15-2 18-7 18-9 15-15 15-15 10-18 9-21 6-24 3-24 0-24-5-24-9-18-11-16-15-12-18-7-18-1-21 4-21 7-15 19-31 11-32 4-9 8-12 13-11 15-7zM379 402l18-1 15 2 15 6 13 10 10 15 13 33 27 39 5 12 2 9 1 15-3 15-7 15-7 10-12 12-15 10-15 7-18 5-21 2-21-1-21-4-18-7-18-11-14-14-10-15-5-15-1-18 4-18 7-15 20-30 9-30 5-12 7-9 11-9 12-5zM379 412l15-1 12 2 12 4 12 9 9 14 9 27 6 9 23 30 6 12 2 9 1 15-2 12-5 12-9 12-10 10-12 8-15 7-15 4-18 2-18-1-18-3-18-7-15-9-12-12-9-14-5-15-1-18 5-15 6-12 22-32 8-28 4-9 6-9 6-5 9-5zM388 422l9 0 9 2 9 5 6 6 5 8 9 27 32 39 6 12 3 12-1 12-3 12-7 12-7 9-12 9-13 7-12 4-15 3-18 0-15-2-15-5-15-8-12-9-9-11-5-12-3-12 1-15 4-12 7-12 24-30 4-9 4-18 4-9 5-6 6-4 6-3zM388 435l6 0 6 1 9 7 3 6 5 15 6 9 25 24 10 12 6 12 3 12 0 12-2 9-7 12-7 8-9 7-12 6-12 5-15 2-15 0-15-2-12-4-12-6-12-10-7-9-4-9-3-12 1-15 6-15 9-12 25-27 5-9 4-15 3-6 6-6zM391 472l6 0 12 5 30 21 8 8 6 9 5 9 2 9 0 9-2 9-4 9-8 9-7 6-12 7-12 4-12 2-12 1-12-2-12-3-12-6-9-7-8-8-5-9-3-12 0-9 2-9 5-9 6-9 12-12 15-11 12-8zM350 509l14-12 18-9 15-1 15 3 12 6 9 7 7 6 6 9 6 15 0 9-2 9-5 9-9 9-9 6-12 5-12 2-12 0-12-1-12-4-12-7-7-7-6-9-3-9-1-9 1-9 4-9zM352 518l12-12 15-8 15-3 15 3 17 8 12 12 4 7 2 8 0 9-1 6-4 8-6 7-15 9-9 3-12 2-12-1-9-2-9-4-9-6-6-7-4-6-2-9 0-9 2-9zM364 515l12-8 12-4 15 0 12 4 12 9 8 11 2 12-3 12-10 11-15 7-18 2-9-2-9-3-12-9-5-6-3-9 0-9 2-6 3-6zM363 527l7-8 9-6 12-3 12 1 12 4 9 8 5 10 0 9-5 10-9 8-15 4-15 0-12-5-9-10-3-10 0-6zM374 527l7-6 7-3 9-1 6 1 6 3 7 6 4 6 0 9-5 8-9 6-9 2-12-2-9-5-5-6-1-9zM380 533l2-3 6-4 6-1 6 1 8 4 2 3 1 6-2 5-4 4-8 2-6 0-6-2-3-3-3-6z" fill="none" stroke="#333" stroke-width="4.6" stroke-opacity="0.9"/></g>
<rect x="179.3" y="578.4" width="34.8" height="40.8" fill="none" stroke="#231f20" stroke-width="0.8"/>
<text x="182.9" y="587.1" font-size="8.2" >13.6</text>
<rect x="156" y="573.4" width="84.4" height="83.5" fill="none" stroke="#231f20" stroke-width="0.9"/>
<text x="150.2" y="583" font-size="6.4" text-anchor="end" >10<tspan dx="0.2" font-size="4.3" dy="-2.5">6</tspan><tspan dy="2.5" font-size="1">&#8203;</tspan></text>
<text x="150.2" y="597.9" font-size="6.4" text-anchor="end" >10<tspan dx="0.2" font-size="4.3" dy="-2.5">5</tspan><tspan dy="2.5" font-size="1">&#8203;</tspan></text>
<text x="150.2" y="613.3" font-size="6.4" text-anchor="end" >10<tspan dx="0.2" font-size="4.3" dy="-2.5">4</tspan><tspan dy="2.5" font-size="1">&#8203;</tspan></text>
<text x="150.2" y="628.7" font-size="6.4" text-anchor="end" >10<tspan dx="0.2" font-size="4.3" dy="-2.5">3</tspan><tspan dy="2.5" font-size="1">&#8203;</tspan></text>
<text x="150" y="648.8" font-size="6.4" text-anchor="end" >0</text>
<text x="159.6" y="668.6" font-size="6.4" text-anchor="middle" >–10<tspan dx="0.2" font-size="4.3" dy="-2.5">3</tspan><tspan dy="2.5" font-size="1">&#8203;</tspan></text>
<text x="174.7" y="668.6" font-size="6.4" text-anchor="middle" >0</text>
<text x="189.5" y="668.6" font-size="6.4" text-anchor="middle" >10<tspan dx="0.2" font-size="4.3" dy="-2.5">3</tspan><tspan dy="2.5" font-size="1">&#8203;</tspan></text>
<text x="211.1" y="668.6" font-size="6.4" text-anchor="middle" >10<tspan dx="0.2" font-size="4.3" dy="-2.5">4</tspan><tspan dy="2.5" font-size="1">&#8203;</tspan></text>
<text x="232.7" y="668.6" font-size="6.4" text-anchor="middle" >10<tspan dx="0.2" font-size="4.3" dy="-2.5">5</tspan><tspan dy="2.5" font-size="1">&#8203;</tspan></text>
<path d="M153.6 580H156M153.6 594.9H156M153.6 610.3H156M153.6 625.7H156M153.6 646.2H156M160.5 656.9V659.3M175.1 656.9V659.3M189.5 656.9V659.3M212.4 656.9V659.3M233.1 656.9V659.3" stroke="#231f20" stroke-width="0.8" fill="none"/>
<path d="M154.5 621.06H156M154.5 618.35H156M154.5 616.43H156M154.5 614.94H156M154.5 613.72H156M154.5 612.69H156M154.5 611.79H156M154.5 611H156M154.5 605.66H156M154.5 602.95H156M154.5 601.03H156M154.5 599.54H156M154.5 598.32H156M154.5 597.29H156M154.5 596.39H156M154.5 595.6H156M154.5 590.41H156M154.5 587.79H156M154.5 585.93H156M154.5 584.49H156M154.5 583.31H156M154.5 582.31H156M154.5 581.44H156M154.5 580.68H156M154.5 635.95H156M154.5 632.67H156M154.5 630.21H156M154.5 628.37H156M154.5 626.93H156M196.39 656.9V658.4M200.43 656.9V658.4M203.29 656.9V658.4M205.51 656.9V658.4M207.32 656.9V658.4M208.85 656.9V658.4M210.18 656.9V658.4M211.35 656.9V658.4M218.63 656.9V658.4M222.28 656.9V658.4M224.86 656.9V658.4M226.87 656.9V658.4M228.51 656.9V658.4M229.89 656.9V658.4M231.09 656.9V658.4M232.15 656.9V658.4M182.3 656.9V658.4M167.8 656.9V658.4M184.6 656.9V658.4M165.46 656.9V658.4M186.33 656.9V658.4M163.71 656.9V658.4M187.63 656.9V658.4M162.4 656.9V658.4M188.64 656.9V658.4M161.38 656.9V658.4" stroke="#231f20" stroke-width="0.6" fill="none"/>
<rect x="154.6" y="641.7" width="1.4" height="9" fill="#231f20"/><rect x="172.9" y="656.9" width="4.4" height="1.8" fill="#231f20"/>
<g transform="translate(264.3 473.9) scale(.1)"><path d="M399 195l9 0 9 1 15 8 13 12 9 15 5 15 2 18-3 21-8 33-2 15 2 46 4 23 5 12 8 12 40 42 16 21 10 18 5 21-1 18-4 15-8 15-12 14-15 12-18 9-18 5-21 4-33 1-30-4-27-8-24-11-21-16-17-21-6-12-5-12-4-21 1-24 5-21 11-21 22-33 8-18 7-51 10-45 5-45 5-21 9-17 12-13 15-9zM399 209l15 1 9 4 7 5 6 6 6 9 6 18 1 12-2 15-12 39-3 15 4 57 4 21 5 9 8 12 37 39 15 18 12 21 4 18 0 15-4 15-7 12-11 12-13 10-15 7-18 5-18 3-27 1-27-4-24-7-21-10-19-14-15-18-9-18-5-21 0-12 1-12 7-21 10-18 21-30 6-12 3-9 6-48 10-42 2-48 5-21 7-13 9-11 12-7zM399 221l12 1 12 6 10 12 5 15 0 12-2 15-16 36-3 12 0 12 6 54 3 15 6 12 6 9 41 42 14 18 10 18 5 18 0 15-4 12-7 12-9 9-11 8-15 7-15 4-18 2-24 0-27-4-21-6-18-10-16-13-12-15-8-18-4-18 1-21 6-18 11-18 24-33 8-18 6-45 12-42 0-12-3-36 2-12 2-9 6-12 7-8 9-6zM405 233l10 4 8 8 5 13 0 12-5 15-9 14-12 10-6 2-3 0-6-5-8-15-3-15 0-15 4-12 6-9 10-6zM387 342l6 1 3 4 6 12 3 13 5 33 6 15 11 15 34 33 16 18 12 18 7 18 1 12-1 9-3 9-7 11-7 7-11 7-12 6-12 3-21 3-24-1-24-4-18-7-17-10-13-12-10-15-7-18-1-21 5-21 12-21 25-30 8-12 6-15 4-30 3-11 6-11 6-7zM402 247l6 2 4 3 3 6 1 9-2 9-3 4-6 5-6 1-6-3-3-4-2-6-1-9 2-6 3-6 4-3zM381 418l6-2 9 4 39 33 30 30 9 12 7 12 5 12 1 9 0 9-2 9-5 9-5 6-7 6-9 6-18 6-21 3-21-1-21-3-18-7-15-9-12-11-9-14-6-15-2-15 2-15 6-15 7-12 11-13 27-25zM345 459l21-18 9-4 9-3 6 0 9 3 18 11 18 14 15 14 13 16 8 12 6 15 2 12-3 12-4 9-9 9-13 8-15 5-18 2-18-1-18-3-15-5-15-9-11-9-9-12-5-12-3-15 1-15 4-12 7-12zM343 471l8-8 9-8 9-5 9-4 9-1 9 1 18 9 15 11 13 11 13 15 8 12 5 12 2 9-1 12-4 9-8 9-10 7-12 4-15 3-18 0-15-2-15-4-12-6-10-8-9-9-7-12-3-12-1-12 2-12 5-12zM347 477l13-13 9-6 9-3 9-1 9 1 18 8 12 8 12 11 9 10 8 12 5 12 1 9 0 9-4 9-7 8-9 6-12 4-12 2-15 0-12-1-15-5-11-5-10-7-7-8-6-9-3-9-1-9 0-12 4-12zM353 480l13-12 15-6 15 0 9 3 9 5 10 7 10 9 7 9 8 12 3 9 1 9-1 9-3 6-5 6-9 6-9 3-12 2-15 0-12-2-12-4-9-4-14-13-5-9-3-9-1-9 1-9 3-9zM357 485l12-11 6-3 9-2 15 1 15 7 15 13 7 8 5 9 4 15-1 8-3 7-6 6-6 4-9 3-9 2-21-2-9-2-10-5-8-6-5-6-4-6-4-9 0-15 3-9zM362 489l10-9 12-4 12 0 15 6 12 10 10 15 4 12-1 6-2 6-8 9-9 4-9 1-18-1-15-6-12-10-6-12-1-6 1-9zM367 492l8-7 12-4 12 2 9 4 11 8 8 12 3 12-2 9-8 8-12 4-15 0-15-6-9-7-6-11-1-12 2-6z" fill="none" stroke="#333" stroke-width="4.6" stroke-opacity="0.9"/></g>
<rect x="288.3" y="478.5" width="34.8" height="40.8" fill="none" stroke="#231f20" stroke-width="0.8"/>
<text x="291.9" y="486.8" font-size="8.2" >48.3</text>
<rect x="264.3" y="473.9" width="84.4" height="83.5" fill="none" stroke="#231f20" stroke-width="0.9"/>
<text x="258.5" y="483.5" font-size="6.4" text-anchor="end" >10<tspan dx="0.2" font-size="4.3" dy="-2.5">6</tspan><tspan dy="2.5" font-size="1">&#8203;</tspan></text>
<text x="258.5" y="498.4" font-size="6.4" text-anchor="end" >10<tspan dx="0.2" font-size="4.3" dy="-2.5">5</tspan><tspan dy="2.5" font-size="1">&#8203;</tspan></text>
<text x="258.5" y="513.8" font-size="6.4" text-anchor="end" >10<tspan dx="0.2" font-size="4.3" dy="-2.5">4</tspan><tspan dy="2.5" font-size="1">&#8203;</tspan></text>
<text x="258.5" y="529.2" font-size="6.4" text-anchor="end" >10<tspan dx="0.2" font-size="4.3" dy="-2.5">3</tspan><tspan dy="2.5" font-size="1">&#8203;</tspan></text>
<text x="258.3" y="549.3" font-size="6.4" text-anchor="end" >0</text>
<text x="267.9" y="569.1" font-size="6.4" text-anchor="middle" >–10<tspan dx="0.2" font-size="4.3" dy="-2.5">3</tspan><tspan dy="2.5" font-size="1">&#8203;</tspan></text>
<text x="283" y="569.1" font-size="6.4" text-anchor="middle" >0</text>
<text x="297.8" y="569.1" font-size="6.4" text-anchor="middle" >10<tspan dx="0.2" font-size="4.3" dy="-2.5">3</tspan><tspan dy="2.5" font-size="1">&#8203;</tspan></text>
<text x="319.4" y="569.1" font-size="6.4" text-anchor="middle" >10<tspan dx="0.2" font-size="4.3" dy="-2.5">4</tspan><tspan dy="2.5" font-size="1">&#8203;</tspan></text>
<text x="341" y="569.1" font-size="6.4" text-anchor="middle" >10<tspan dx="0.2" font-size="4.3" dy="-2.5">5</tspan><tspan dy="2.5" font-size="1">&#8203;</tspan></text>
<path d="M261.9 480.5H264.3M261.9 495.4H264.3M261.9 510.8H264.3M261.9 526.2H264.3M261.9 546.7H264.3M268.8 557.4V559.8M283.4 557.4V559.8M297.8 557.4V559.8M320.7 557.4V559.8M341.4 557.4V559.8" stroke="#231f20" stroke-width="0.8" fill="none"/>
<path d="M262.8 521.56H264.3M262.8 518.85H264.3M262.8 516.93H264.3M262.8 515.44H264.3M262.8 514.22H264.3M262.8 513.19H264.3M262.8 512.29H264.3M262.8 511.5H264.3M262.8 506.16H264.3M262.8 503.45H264.3M262.8 501.53H264.3M262.8 500.04H264.3M262.8 498.82H264.3M262.8 497.79H264.3M262.8 496.89H264.3M262.8 496.1H264.3M262.8 490.91H264.3M262.8 488.29H264.3M262.8 486.43H264.3M262.8 484.99H264.3M262.8 483.81H264.3M262.8 482.81H264.3M262.8 481.94H264.3M262.8 481.18H264.3M262.8 536.45H264.3M262.8 533.17H264.3M262.8 530.71H264.3M262.8 528.87H264.3M262.8 527.43H264.3M304.69 557.4V558.9M308.73 557.4V558.9M311.59 557.4V558.9M313.81 557.4V558.9M315.62 557.4V558.9M317.15 557.4V558.9M318.48 557.4V558.9M319.65 557.4V558.9M326.93 557.4V558.9M330.58 557.4V558.9M333.16 557.4V558.9M335.17 557.4V558.9M336.81 557.4V558.9M338.19 557.4V558.9M339.39 557.4V558.9M340.45 557.4V558.9M290.6 557.4V558.9M276.1 557.4V558.9M292.9 557.4V558.9M273.76 557.4V558.9M294.63 557.4V558.9M272.01 557.4V558.9M295.93 557.4V558.9M270.7 557.4V558.9M296.94 557.4V558.9M269.68 557.4V558.9" stroke="#231f20" stroke-width="0.6" fill="none"/>
<rect x="262.9" y="542.2" width="1.4" height="9" fill="#231f20"/><rect x="281.2" y="557.4" width="4.4" height="1.8" fill="#231f20"/>
<g transform="translate(264.3 573.4) scale(.1)"><path d="M389 215l7-8 9-5 9-2 12 2 9 4 6 6 4 9 0 9-5 9-8 7-12 4-12-1-12-5-7-8-2-9 0-6zM387 302l9 1 9 5 9 9 8 12 8 21 11 42 6 16 9 13 29 34 14 24 8 24 3 27-2 24-6 21-9 18-14 18-17 14-21 11-24 7-24 3-27-2-24-7-24-12-19-14-17-18-13-21-8-24-4-24 1-18 3-15 5-15 8-15 16-21 31-28 9-11 7-15 15-51 10-18 7-8 6-4zM405 212l6-3 6 0 6 1 6 3 4 5 2 5 0 4-2 6-7 6-9 2-9-1-6-4-4-6-1-6 2-6zM387 314l9 2 6 4 6 6 6 9 7 21 8 39 6 19 9 16 26 31 12 18 9 24 4 27-2 21-5 18-9 18-12 15-17 13-18 9-21 6-18 2-21-2-24-6-21-11-18-13-14-16-11-18-8-21-2-21 0-15 2-12 4-12 6-12 14-21 30-27 9-11 8-19 9-42 6-18 5-9 6-6 8-5zM410 224l2-3 5-1 3 1 2 3-1 3-4 3-3 0-4-3zM387 324l6 1 6 4 9 12 5 15 8 45 5 19 9 17 23 27 12 18 10 24 3 24-1 18-5 18-7 15-11 13-15 12-15 8-18 5-18 2-21-2-18-5-18-8-18-13-13-15-10-15-6-18-3-21 0-12 2-12 8-21 13-19 30-28 10-13 4-9 4-12 5-39 4-15 5-9 4-5 6-5zM387 334l6 1 3 2 5 7 3 6 3 15 5 42 6 21 9 15 23 27 10 15 9 21 4 24 0 15-4 15-7 15-10 12-11 10-15 8-15 5-18 2-18-2-18-4-15-7-16-12-14-15-8-15-6-15-2-18 0-12 3-12 9-21 13-17 30-28 9-13 6-20 2-36 3-15 7-12 4-3zM387 344l6 3 3 3 3 9 1 12-1 30 2 9 3 12 6 12 6 9 26 30 11 15 9 21 3 21-1 15-3 12-5 12-9 12-12 10-12 7-15 5-15 1-18-1-15-4-15-8-14-10-11-12-9-15-5-15-2-15 3-21 4-12 5-9 12-15 33-30 7-9 5-9 3-9 2-9-3-30 1-12 2-6 3-5zM387 431l6 2 6 4 30 31 12 15 7 11 6 12 3 12 1 12-1 15-3 12-6 12-7 8-9 8-12 7-12 4-15 2-15-1-15-4-15-8-12-9-11-13-7-12-4-12-2-15 1-12 3-12 5-12 6-9 12-12 42-34zM384 449l9 1 9 5 15 12 15 15 6 9 7 12 4 12 2 12 0 12-3 12-3 9-7 10-9 8-9 6-12 5-12 2-12 0-15-4-12-5-12-7-9-9-8-12-6-12-3-15 1-12 3-12 5-12 6-9 11-11 15-11 15-9zM381 460l9 0 9 4 9 5 12 10 9 11 7 10 5 12 3 12 0 12-1 9-3 9-5 9-6 6-9 7-9 5-12 3-12 0-12-1-12-5-12-7-9-8-7-9-5-12-3-12 0-12 1-9 5-12 6-9 9-10 12-9 12-6zM378 470l9-1 6 1 9 4 9 6 15 17 6 10 4 11 2 18-2 9-4 10-6 8-6 5-9 6-9 3-9 1-12-1-12-3-9-4-9-7-8-9-5-9-3-9-2-12 1-9 2-9 5-9 7-9 9-8 12-7zM375 479l9-1 6 0 9 3 6 4 9 7 7 8 5 9 3 9 2 9 0 9-5 15-10 12-14 7-9 2-9 0-9-2-9-4-9-6-6-6-6-9-3-9-2-9 0-9 5-15 6-8 7-7 8-5zM369 489l6-2 9-1 12 2 12 8 11 13 5 15 0 15-6 12-10 9-6 3-9 2-9 0-8-2-7-3-9-6-9-12-4-15 2-15 8-13zM372 495l12-3 12 3 11 8 8 12 4 12-1 12-7 12-9 6-12 3-15-3-12-8-7-10-3-12 1-12 7-12z" fill="none" stroke="#333" stroke-width="4.6" stroke-opacity="0.9"/></g>
<rect x="288.3" y="578.4" width="34.8" height="40.8" fill="none" stroke="#231f20" stroke-width="0.8"/>
<text x="291.9" y="587.1" font-size="8.2" >26.6</text>
<rect x="264.3" y="573.4" width="84.4" height="83.5" fill="none" stroke="#231f20" stroke-width="0.9"/>
<text x="258.5" y="583" font-size="6.4" text-anchor="end" >10<tspan dx="0.2" font-size="4.3" dy="-2.5">6</tspan><tspan dy="2.5" font-size="1">&#8203;</tspan></text>
<text x="258.5" y="597.9" font-size="6.4" text-anchor="end" >10<tspan dx="0.2" font-size="4.3" dy="-2.5">5</tspan><tspan dy="2.5" font-size="1">&#8203;</tspan></text>
<text x="258.5" y="613.3" font-size="6.4" text-anchor="end" >10<tspan dx="0.2" font-size="4.3" dy="-2.5">4</tspan><tspan dy="2.5" font-size="1">&#8203;</tspan></text>
<text x="258.5" y="628.7" font-size="6.4" text-anchor="end" >10<tspan dx="0.2" font-size="4.3" dy="-2.5">3</tspan><tspan dy="2.5" font-size="1">&#8203;</tspan></text>
<text x="258.3" y="648.8" font-size="6.4" text-anchor="end" >0</text>
<text x="267.9" y="668.6" font-size="6.4" text-anchor="middle" >–10<tspan dx="0.2" font-size="4.3" dy="-2.5">3</tspan><tspan dy="2.5" font-size="1">&#8203;</tspan></text>
<text x="283" y="668.6" font-size="6.4" text-anchor="middle" >0</text>
<text x="297.8" y="668.6" font-size="6.4" text-anchor="middle" >10<tspan dx="0.2" font-size="4.3" dy="-2.5">3</tspan><tspan dy="2.5" font-size="1">&#8203;</tspan></text>
<text x="319.4" y="668.6" font-size="6.4" text-anchor="middle" >10<tspan dx="0.2" font-size="4.3" dy="-2.5">4</tspan><tspan dy="2.5" font-size="1">&#8203;</tspan></text>
<text x="341" y="668.6" font-size="6.4" text-anchor="middle" >10<tspan dx="0.2" font-size="4.3" dy="-2.5">5</tspan><tspan dy="2.5" font-size="1">&#8203;</tspan></text>
<path d="M261.9 580H264.3M261.9 594.9H264.3M261.9 610.3H264.3M261.9 625.7H264.3M261.9 646.2H264.3M268.8 656.9V659.3M283.4 656.9V659.3M297.8 656.9V659.3M320.7 656.9V659.3M341.4 656.9V659.3" stroke="#231f20" stroke-width="0.8" fill="none"/>
<path d="M262.8 621.06H264.3M262.8 618.35H264.3M262.8 616.43H264.3M262.8 614.94H264.3M262.8 613.72H264.3M262.8 612.69H264.3M262.8 611.79H264.3M262.8 611H264.3M262.8 605.66H264.3M262.8 602.95H264.3M262.8 601.03H264.3M262.8 599.54H264.3M262.8 598.32H264.3M262.8 597.29H264.3M262.8 596.39H264.3M262.8 595.6H264.3M262.8 590.41H264.3M262.8 587.79H264.3M262.8 585.93H264.3M262.8 584.49H264.3M262.8 583.31H264.3M262.8 582.31H264.3M262.8 581.44H264.3M262.8 580.68H264.3M262.8 635.95H264.3M262.8 632.67H264.3M262.8 630.21H264.3M262.8 628.37H264.3M262.8 626.93H264.3M304.69 656.9V658.4M308.73 656.9V658.4M311.59 656.9V658.4M313.81 656.9V658.4M315.62 656.9V658.4M317.15 656.9V658.4M318.48 656.9V658.4M319.65 656.9V658.4M326.93 656.9V658.4M330.58 656.9V658.4M333.16 656.9V658.4M335.17 656.9V658.4M336.81 656.9V658.4M338.19 656.9V658.4M339.39 656.9V658.4M340.45 656.9V658.4M290.6 656.9V658.4M276.1 656.9V658.4M292.9 656.9V658.4M273.76 656.9V658.4M294.63 656.9V658.4M272.01 656.9V658.4M295.93 656.9V658.4M270.7 656.9V658.4M296.94 656.9V658.4M269.68 656.9V658.4" stroke="#231f20" stroke-width="0.6" fill="none"/>
<rect x="262.9" y="641.7" width="1.4" height="9" fill="#231f20"/><rect x="281.2" y="656.9" width="4.4" height="1.8" fill="#231f20"/>
<path d="M4.8 534L4.8 479.4" stroke="#231f20" stroke-width="0.95" fill="none" />
<path d="M4.8 474.6L7.6 479.9L4.8 479.4L2 479.9Z" fill="#231f20"/>
<text x="7.8" y="558" font-size="8.3" transform="rotate(-90 7.8 558)" >IFN-γ</text>
<text x="27.3" y="582.4" font-size="8.3" >CD3</text>
<path d="M47.3 579.7L106.8 579.7" stroke="#231f20" stroke-width="0.95" fill="none" />
<path d="M111.6 579.7L106.3 582.5L106.8 579.7L106.3 576.9Z" fill="#231f20"/>
<path d="M132.6 629.5L132.6 479" stroke="#231f20" stroke-width="0.95" fill="none" />
<path d="M132.6 474.2L135.4 479.5L132.6 479L129.8 479.5Z" fill="#231f20"/>
<text x="135.6" y="657" font-size="8.3" transform="rotate(-90 135.6 657)" >IFN-γ</text>
<text x="126.9" y="516" font-size="8.3" text-anchor="middle" transform="rotate(-90 126.9 516)" >Control</text>
<text x="126.6" y="605.3" font-size="8.3" text-anchor="middle" transform="rotate(-90 126.6 605.3)" >B cell depleted</text>
<text x="155.2" y="677.8" font-size="8.3" >CD1d-tetramer</text>
<path d="M214 675.8L343.8 675.8" stroke="#231f20" stroke-width="0.95" fill="none" />
<path d="M348.6 675.8L343.3 678.6L343.8 675.8L343.3 673Z" fill="#231f20"/>
<path d="M395.3 458.75L395.3 564.85" stroke="#231f20" stroke-width="0.9" fill="none" />
<path d="M392.3 459.2L395.3 459.2" stroke="#231f20" stroke-width="0.9" fill="none" />
<text x="388.3" y="462.2" font-size="8.3" text-anchor="end" >50</text>
<path d="M392.3 480.24L395.3 480.24" stroke="#231f20" stroke-width="0.9" fill="none" />
<text x="388.3" y="483.24" font-size="8.3" text-anchor="end" >40</text>
<path d="M392.3 501.28L395.3 501.28" stroke="#231f20" stroke-width="0.9" fill="none" />
<text x="388.3" y="504.28" font-size="8.3" text-anchor="end" >30</text>
<path d="M392.3 522.32L395.3 522.32" stroke="#231f20" stroke-width="0.9" fill="none" />
<text x="388.3" y="525.32" font-size="8.3" text-anchor="end" >20</text>
<path d="M392.3 543.36L395.3 543.36" stroke="#231f20" stroke-width="0.9" fill="none" />
<text x="388.3" y="546.36" font-size="8.3" text-anchor="end" >10</text>
<path d="M392.3 564.4L395.3 564.4" stroke="#231f20" stroke-width="0.9" fill="none" />
<text x="388.3" y="567.4" font-size="8.3" text-anchor="end" >0</text>
<path d="M395.3 564.4L463.2 564.4" stroke="#231f20" stroke-width="0.9" fill="none" />
<rect x="397.8" y="534" width="12.1" height="30.4" fill="#231f20"/>
<path d="M403.85 534L403.85 532.4M400.85 532.4L406.85 532.4" stroke="#231f20" stroke-width="0.85" fill="none"/>
<path d="M403.85 564.4L403.85 567.6" stroke="#231f20" stroke-width="0.9" fill="none" />
<rect x="415.5" y="475.8" width="12.1" height="88.6" fill="#231f20"/>
<path d="M421.55 475.8L421.55 471.2M418.55 471.2L424.55 471.2" stroke="#231f20" stroke-width="0.85" fill="none"/>
<path d="M421.55 564.4L421.55 567.6" stroke="#231f20" stroke-width="0.9" fill="none" />
<rect x="433" y="541.3" width="12.1" height="23.1" fill="#231f20"/>
<path d="M439.05 541.3L439.05 538.4M436.05 538.4L442.05 538.4" stroke="#231f20" stroke-width="0.85" fill="none"/>
<path d="M439.05 564.4L439.05 567.6" stroke="#231f20" stroke-width="0.9" fill="none" />
<rect x="450.7" y="514.2" width="12.1" height="50.2" fill="#231f20"/>
<path d="M456.75 514.2L456.75 510.5M453.75 510.5L459.75 510.5" stroke="#231f20" stroke-width="0.85" fill="none"/>
<path d="M456.75 564.4L456.75 567.6" stroke="#231f20" stroke-width="0.9" fill="none" />
<text x="394.9" y="578.2" font-size="8.3" text-anchor="end" ><tspan font-family="Liberation Serif,serif" font-size="9.79" stroke-width="0">α</tspan>-GalCer</text>
<path d="M401.65 575.5L406.05 575.5" stroke="#231f20" stroke-width="1.0" fill="none" />
<path d="M419.55 575.5L423.55 575.5" stroke="#3a3a3a" stroke-width="0.8" fill="none" />
<path d="M421.55 573.5L421.55 577.5" stroke="#3a3a3a" stroke-width="0.8" fill="none" />
<path d="M436.85 575.5L441.25 575.5" stroke="#231f20" stroke-width="1.0" fill="none" />
<path d="M454.75 575.5L458.75 575.5" stroke="#3a3a3a" stroke-width="0.8" fill="none" />
<path d="M456.75 573.5L456.75 577.5" stroke="#3a3a3a" stroke-width="0.8" fill="none" />
<path d="M403.85 581.9L421.05 581.9" stroke="#231f20" stroke-width="0.8" fill="none" />
<path d="M439.55 581.9L456.75 581.9" stroke="#231f20" stroke-width="0.8" fill="none" />
<text x="412.9" y="592.4" font-size="8.3" text-anchor="middle" >Control</text>
<text x="448.1" y="592.4" font-size="8.3" text-anchor="middle" >B cell</text>
<text x="448.1" y="602" font-size="8.3" text-anchor="middle" >depleted</text>
<text x="372.8" y="509.3" font-size="8.3" text-anchor="middle" transform="rotate(-90 372.8 509.3)" >IFN-γ<tspan font-size="5.8" dy="-3">+</tspan><tspan dy="3" font-size="1">&#8203;</tspan> iNKT cells (%)</text>
<path d="M404.1 468.4L421.8 468.4" stroke="#231f20" stroke-width="0.8" fill="none" />
<text x="413.2" y="470.1" font-size="12.2" text-anchor="middle" font-weight="bold" stroke-width="0" letter-spacing="0.4">****</text>
<path d="M420.8 459.6L460.9 459.6" stroke="#231f20" stroke-width="0.8" fill="none" />
<text x="441.6" y="459.5" font-size="12.2" text-anchor="middle" font-weight="bold" stroke-width="0" letter-spacing="0.4">****</text>
<path d="M439.2 508.6L456.8 508.6" stroke="#231f20" stroke-width="0.8" fill="none" />
<text x="448.2" y="507.8" font-size="12.2" text-anchor="middle" font-weight="bold" stroke-width="0" letter-spacing="0.4">***</text>
</svg></body></html>
